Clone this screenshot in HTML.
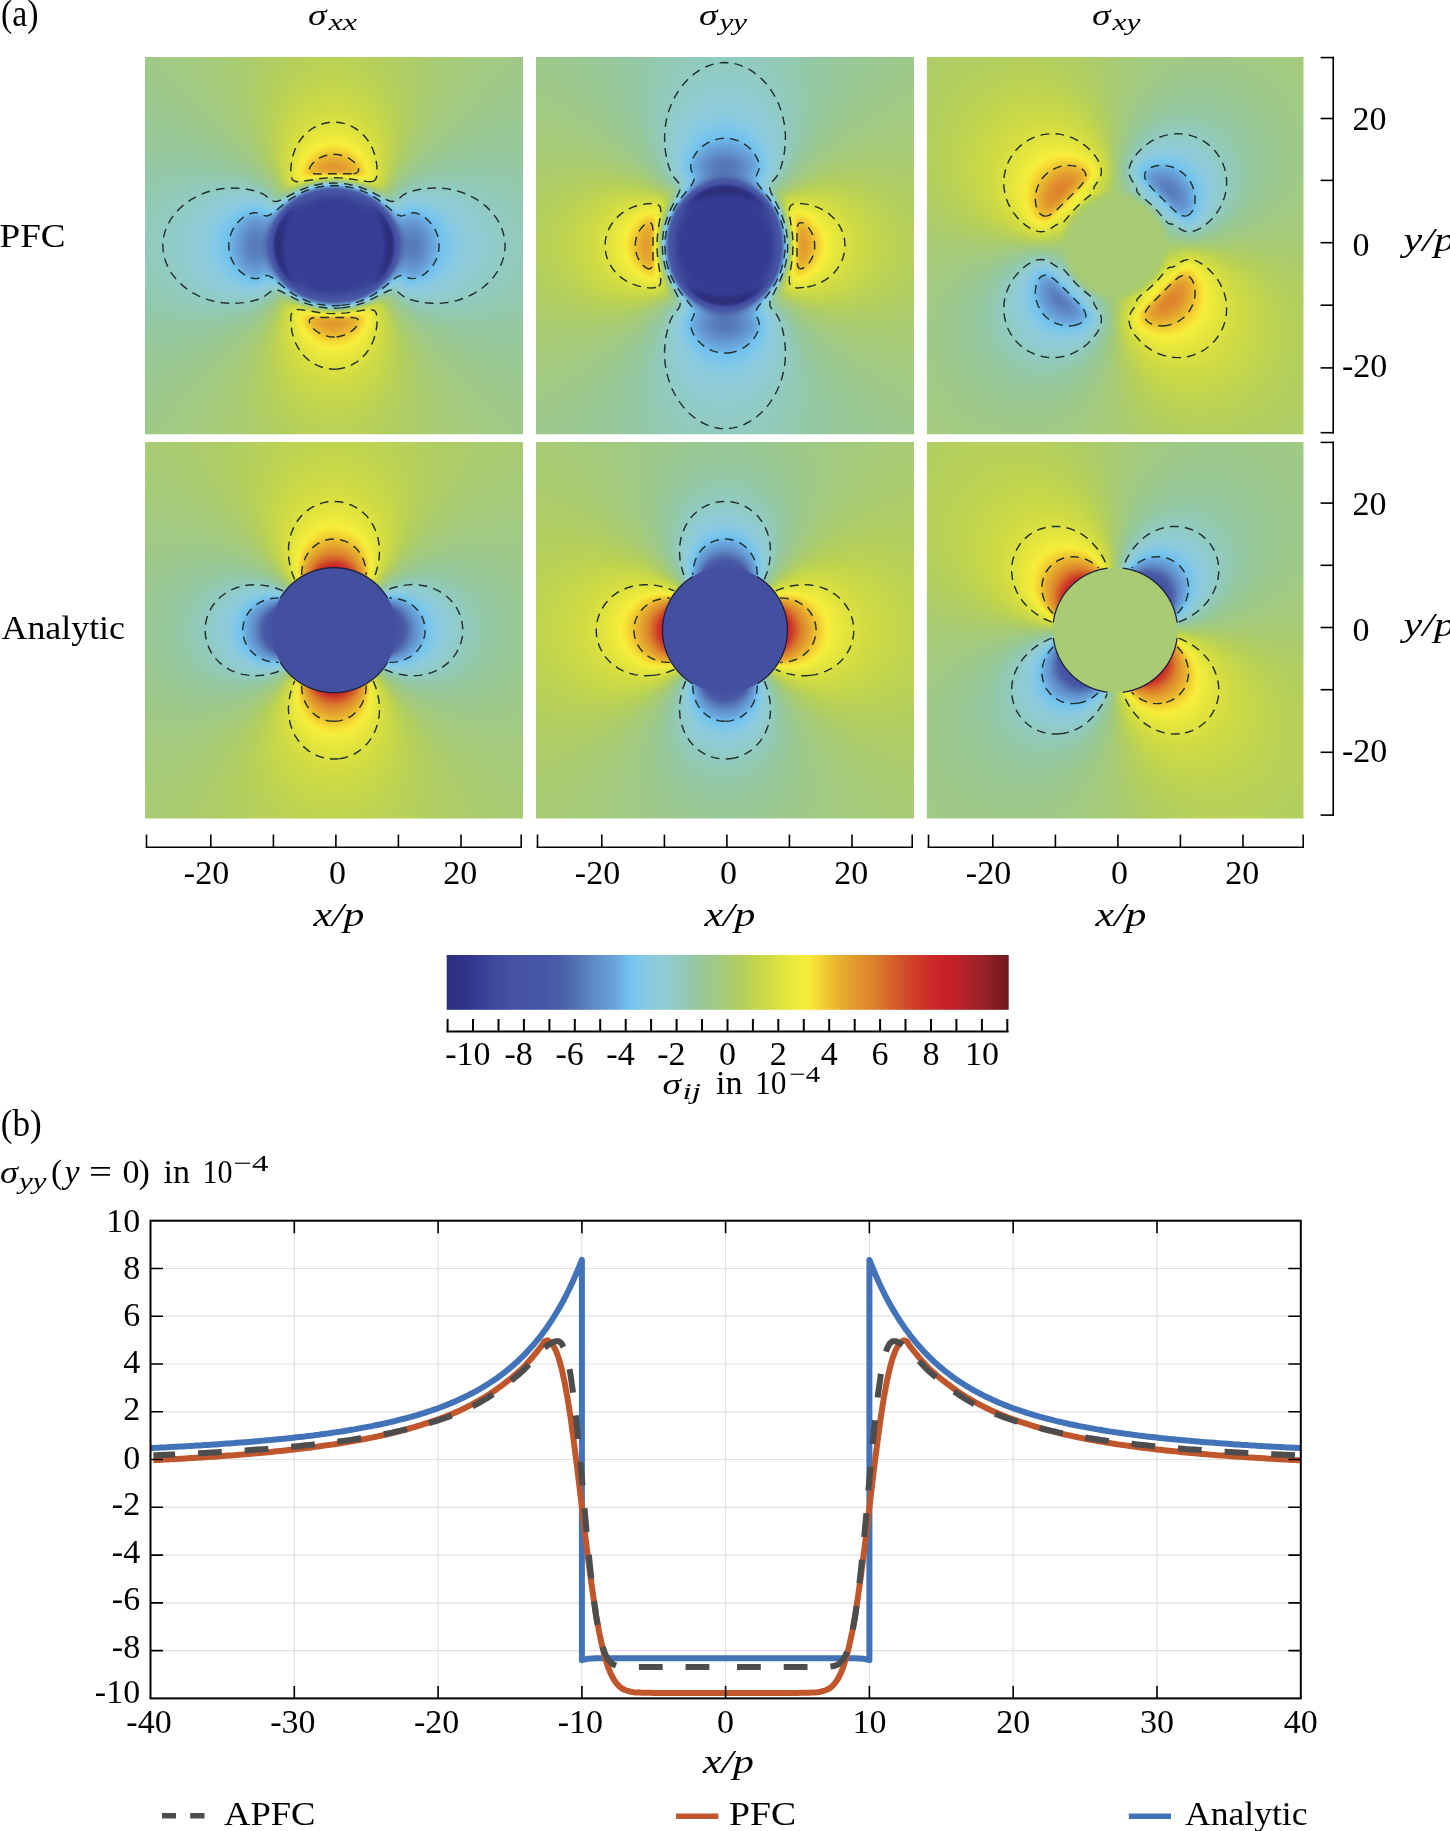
<!DOCTYPE html>
<html><head><meta charset="utf-8"><title>figure</title>
<style>
html,body{margin:0;padding:0;background:#fff;}
body{width:1450px;height:1831px;overflow:hidden;position:relative;}
canvas{position:absolute;display:block;}
svg.fb{position:absolute;left:0;top:0;}
svg{position:absolute;left:0;top:0;}
text{font-family:"Liberation Serif",serif;fill:#000;}
</style></head><body>
<svg class="fb" width="1450" height="1000" viewBox="0 0 1450 1000"><defs><filter id="fbl" x="-5%" y="-5%" width="110%" height="110%"><feGaussianBlur stdDeviation="5"/></filter>
<clipPath id="fbc0"><rect x="145.2" y="57.0" width="377.5" height="377.3"/></clipPath>
<clipPath id="fbc1"><rect x="536.4" y="57.0" width="377.2" height="377.3"/></clipPath>
<clipPath id="fbc2"><rect x="926.9" y="57.0" width="376.6" height="377.3"/></clipPath>
<clipPath id="fbc3"><rect x="145.2" y="442.0" width="377.5" height="376.4"/></clipPath>
<clipPath id="fbc4"><rect x="536.4" y="442.0" width="377.2" height="376.4"/></clipPath>
<clipPath id="fbc5"><rect x="926.9" y="442.0" width="376.6" height="376.4"/></clipPath>
</defs>
<g clip-path="url(#fbc0)"><g filter="url(#fbl)"><path fill="#9dc98b" d="M131 43h14.6v14.6h-14.6zM145 43h14.6v14.6h-14.6zM509 43h14.6v14.6h-14.6zM523 43h14.6v14.6h-14.6zM131 57h14.6v14.6h-14.6zM145 57h14.6v14.6h-14.6zM509 57h14.6v14.6h-14.6zM523 57h14.6v14.6h-14.6zM131 71h14.6v14.6h-14.6zM145 71h14.6v14.6h-14.6zM159 71h14.6v14.6h-14.6zM495 71h14.6v14.6h-14.6zM509 71h14.6v14.6h-14.6zM523 71h14.6v14.6h-14.6zM131 85h14.6v14.6h-14.6zM145 85h14.6v14.6h-14.6zM159 85h14.6v14.6h-14.6zM173 85h14.6v14.6h-14.6zM481 85h14.6v14.6h-14.6zM495 85h14.6v14.6h-14.6zM509 85h14.6v14.6h-14.6zM523 85h14.6v14.6h-14.6zM131 99h14.6v14.6h-14.6zM145 99h14.6v14.6h-14.6zM159 99h14.6v14.6h-14.6zM173 99h14.6v14.6h-14.6zM187 99h14.6v14.6h-14.6zM467 99h14.6v14.6h-14.6zM481 99h14.6v14.6h-14.6zM495 99h14.6v14.6h-14.6zM509 99h14.6v14.6h-14.6zM523 99h14.6v14.6h-14.6zM173 113h14.6v14.6h-14.6zM187 113h14.6v14.6h-14.6zM201 113h14.6v14.6h-14.6zM453 113h14.6v14.6h-14.6zM467 113h14.6v14.6h-14.6zM481 113h14.6v14.6h-14.6zM201 127h14.6v14.6h-14.6zM215 127h14.6v14.6h-14.6zM439 127h14.6v14.6h-14.6zM453 127h14.6v14.6h-14.6zM215 141h14.6v14.6h-14.6zM229 141h14.6v14.6h-14.6zM425 141h14.6v14.6h-14.6zM439 141h14.6v14.6h-14.6zM243 155h14.6v14.6h-14.6zM411 155h14.6v14.6h-14.6zM257 169h14.6v14.6h-14.6zM397 169h14.6v14.6h-14.6zM285 295h14.6v14.6h-14.6zM369 295h14.6v14.6h-14.6zM257 309h14.6v14.6h-14.6zM397 309h14.6v14.6h-14.6zM243 323h14.6v14.6h-14.6zM411 323h14.6v14.6h-14.6zM215 336h14.6v14.6h-14.6zM229 336h14.6v14.6h-14.6zM425 336h14.6v14.6h-14.6zM439 336h14.6v14.6h-14.6zM201 350h14.6v14.6h-14.6zM215 350h14.6v14.6h-14.6zM439 350h14.6v14.6h-14.6zM453 350h14.6v14.6h-14.6zM173 364h14.6v14.6h-14.6zM187 364h14.6v14.6h-14.6zM201 364h14.6v14.6h-14.6zM453 364h14.6v14.6h-14.6zM467 364h14.6v14.6h-14.6zM481 364h14.6v14.6h-14.6zM131 378h14.6v14.6h-14.6zM145 378h14.6v14.6h-14.6zM159 378h14.6v14.6h-14.6zM173 378h14.6v14.6h-14.6zM187 378h14.6v14.6h-14.6zM467 378h14.6v14.6h-14.6zM481 378h14.6v14.6h-14.6zM495 378h14.6v14.6h-14.6zM509 378h14.6v14.6h-14.6zM523 378h14.6v14.6h-14.6zM131 392h14.6v14.6h-14.6zM145 392h14.6v14.6h-14.6zM159 392h14.6v14.6h-14.6zM173 392h14.6v14.6h-14.6zM481 392h14.6v14.6h-14.6zM495 392h14.6v14.6h-14.6zM509 392h14.6v14.6h-14.6zM523 392h14.6v14.6h-14.6zM131 406h14.6v14.6h-14.6zM145 406h14.6v14.6h-14.6zM159 406h14.6v14.6h-14.6zM495 406h14.6v14.6h-14.6zM509 406h14.6v14.6h-14.6zM523 406h14.6v14.6h-14.6zM131 420h14.6v14.6h-14.6zM145 420h14.6v14.6h-14.6zM509 420h14.6v14.6h-14.6zM523 420h14.6v14.6h-14.6zM131 434h14.6v14.6h-14.6zM145 434h14.6v14.6h-14.6zM509 434h14.6v14.6h-14.6zM523 434h14.6v14.6h-14.6z"/><path fill="#a3ca80" d="M159 43h14.6v14.6h-14.6zM173 43h14.6v14.6h-14.6zM187 43h14.6v14.6h-14.6zM201 43h14.6v14.6h-14.6zM453 43h14.6v14.6h-14.6zM467 43h14.6v14.6h-14.6zM481 43h14.6v14.6h-14.6zM495 43h14.6v14.6h-14.6zM159 57h14.6v14.6h-14.6zM173 57h14.6v14.6h-14.6zM187 57h14.6v14.6h-14.6zM201 57h14.6v14.6h-14.6zM453 57h14.6v14.6h-14.6zM467 57h14.6v14.6h-14.6zM481 57h14.6v14.6h-14.6zM495 57h14.6v14.6h-14.6zM173 71h14.6v14.6h-14.6zM187 71h14.6v14.6h-14.6zM201 71h14.6v14.6h-14.6zM453 71h14.6v14.6h-14.6zM467 71h14.6v14.6h-14.6zM481 71h14.6v14.6h-14.6zM187 85h14.6v14.6h-14.6zM201 85h14.6v14.6h-14.6zM215 85h14.6v14.6h-14.6zM439 85h14.6v14.6h-14.6zM453 85h14.6v14.6h-14.6zM467 85h14.6v14.6h-14.6zM201 99h14.6v14.6h-14.6zM215 99h14.6v14.6h-14.6zM439 99h14.6v14.6h-14.6zM453 99h14.6v14.6h-14.6zM215 113h14.6v14.6h-14.6zM439 113h14.6v14.6h-14.6zM229 127h14.6v14.6h-14.6zM425 127h14.6v14.6h-14.6zM243 141h14.6v14.6h-14.6zM411 141h14.6v14.6h-14.6zM271 183h14.6v14.6h-14.6zM285 183h14.6v14.6h-14.6zM369 183h14.6v14.6h-14.6zM383 183h14.6v14.6h-14.6zM271 295h14.6v14.6h-14.6zM383 295h14.6v14.6h-14.6zM243 336h14.6v14.6h-14.6zM411 336h14.6v14.6h-14.6zM229 350h14.6v14.6h-14.6zM425 350h14.6v14.6h-14.6zM215 364h14.6v14.6h-14.6zM439 364h14.6v14.6h-14.6zM201 378h14.6v14.6h-14.6zM215 378h14.6v14.6h-14.6zM439 378h14.6v14.6h-14.6zM453 378h14.6v14.6h-14.6zM187 392h14.6v14.6h-14.6zM201 392h14.6v14.6h-14.6zM215 392h14.6v14.6h-14.6zM439 392h14.6v14.6h-14.6zM453 392h14.6v14.6h-14.6zM467 392h14.6v14.6h-14.6zM173 406h14.6v14.6h-14.6zM187 406h14.6v14.6h-14.6zM201 406h14.6v14.6h-14.6zM453 406h14.6v14.6h-14.6zM467 406h14.6v14.6h-14.6zM481 406h14.6v14.6h-14.6zM159 420h14.6v14.6h-14.6zM173 420h14.6v14.6h-14.6zM187 420h14.6v14.6h-14.6zM201 420h14.6v14.6h-14.6zM453 420h14.6v14.6h-14.6zM467 420h14.6v14.6h-14.6zM481 420h14.6v14.6h-14.6zM495 420h14.6v14.6h-14.6zM159 434h14.6v14.6h-14.6zM173 434h14.6v14.6h-14.6zM187 434h14.6v14.6h-14.6zM201 434h14.6v14.6h-14.6zM453 434h14.6v14.6h-14.6zM467 434h14.6v14.6h-14.6zM481 434h14.6v14.6h-14.6zM495 434h14.6v14.6h-14.6z"/><path fill="#a8cb74" d="M215 43h14.6v14.6h-14.6zM229 43h14.6v14.6h-14.6zM425 43h14.6v14.6h-14.6zM439 43h14.6v14.6h-14.6zM215 57h14.6v14.6h-14.6zM229 57h14.6v14.6h-14.6zM425 57h14.6v14.6h-14.6zM439 57h14.6v14.6h-14.6zM215 71h14.6v14.6h-14.6zM229 71h14.6v14.6h-14.6zM425 71h14.6v14.6h-14.6zM439 71h14.6v14.6h-14.6zM229 85h14.6v14.6h-14.6zM425 85h14.6v14.6h-14.6zM229 99h14.6v14.6h-14.6zM425 99h14.6v14.6h-14.6zM229 113h14.6v14.6h-14.6zM243 113h14.6v14.6h-14.6zM411 113h14.6v14.6h-14.6zM425 113h14.6v14.6h-14.6zM243 127h14.6v14.6h-14.6zM411 127h14.6v14.6h-14.6zM257 155h14.6v14.6h-14.6zM397 155h14.6v14.6h-14.6zM257 323h14.6v14.6h-14.6zM397 323h14.6v14.6h-14.6zM243 350h14.6v14.6h-14.6zM411 350h14.6v14.6h-14.6zM229 364h14.6v14.6h-14.6zM243 364h14.6v14.6h-14.6zM411 364h14.6v14.6h-14.6zM425 364h14.6v14.6h-14.6zM229 378h14.6v14.6h-14.6zM425 378h14.6v14.6h-14.6zM229 392h14.6v14.6h-14.6zM425 392h14.6v14.6h-14.6zM215 406h14.6v14.6h-14.6zM229 406h14.6v14.6h-14.6zM425 406h14.6v14.6h-14.6zM439 406h14.6v14.6h-14.6zM215 420h14.6v14.6h-14.6zM229 420h14.6v14.6h-14.6zM425 420h14.6v14.6h-14.6zM439 420h14.6v14.6h-14.6zM215 434h14.6v14.6h-14.6zM229 434h14.6v14.6h-14.6zM425 434h14.6v14.6h-14.6zM439 434h14.6v14.6h-14.6z"/><path fill="#afce66" d="M243 43h14.6v14.6h-14.6zM257 43h14.6v14.6h-14.6zM271 43h14.6v14.6h-14.6zM383 43h14.6v14.6h-14.6zM397 43h14.6v14.6h-14.6zM411 43h14.6v14.6h-14.6zM243 57h14.6v14.6h-14.6zM257 57h14.6v14.6h-14.6zM271 57h14.6v14.6h-14.6zM383 57h14.6v14.6h-14.6zM397 57h14.6v14.6h-14.6zM411 57h14.6v14.6h-14.6zM243 71h14.6v14.6h-14.6zM257 71h14.6v14.6h-14.6zM397 71h14.6v14.6h-14.6zM411 71h14.6v14.6h-14.6zM243 85h14.6v14.6h-14.6zM257 85h14.6v14.6h-14.6zM397 85h14.6v14.6h-14.6zM411 85h14.6v14.6h-14.6zM243 99h14.6v14.6h-14.6zM257 99h14.6v14.6h-14.6zM397 99h14.6v14.6h-14.6zM411 99h14.6v14.6h-14.6zM257 113h14.6v14.6h-14.6zM397 113h14.6v14.6h-14.6zM257 127h14.6v14.6h-14.6zM397 127h14.6v14.6h-14.6zM257 141h14.6v14.6h-14.6zM397 141h14.6v14.6h-14.6zM271 309h14.6v14.6h-14.6zM383 309h14.6v14.6h-14.6zM257 336h14.6v14.6h-14.6zM397 336h14.6v14.6h-14.6zM257 350h14.6v14.6h-14.6zM397 350h14.6v14.6h-14.6zM257 364h14.6v14.6h-14.6zM397 364h14.6v14.6h-14.6zM243 378h14.6v14.6h-14.6zM257 378h14.6v14.6h-14.6zM397 378h14.6v14.6h-14.6zM411 378h14.6v14.6h-14.6zM243 392h14.6v14.6h-14.6zM257 392h14.6v14.6h-14.6zM397 392h14.6v14.6h-14.6zM411 392h14.6v14.6h-14.6zM243 406h14.6v14.6h-14.6zM257 406h14.6v14.6h-14.6zM397 406h14.6v14.6h-14.6zM411 406h14.6v14.6h-14.6zM243 420h14.6v14.6h-14.6zM257 420h14.6v14.6h-14.6zM271 420h14.6v14.6h-14.6zM383 420h14.6v14.6h-14.6zM397 420h14.6v14.6h-14.6zM411 420h14.6v14.6h-14.6zM243 434h14.6v14.6h-14.6zM257 434h14.6v14.6h-14.6zM271 434h14.6v14.6h-14.6zM383 434h14.6v14.6h-14.6zM397 434h14.6v14.6h-14.6zM411 434h14.6v14.6h-14.6z"/><path fill="#b7d059" d="M285 43h14.6v14.6h-14.6zM299 43h14.6v14.6h-14.6zM313 43h14.6v14.6h-14.6zM327 43h14.6v14.6h-14.6zM341 43h14.6v14.6h-14.6zM355 43h14.6v14.6h-14.6zM369 43h14.6v14.6h-14.6zM285 57h14.6v14.6h-14.6zM299 57h14.6v14.6h-14.6zM313 57h14.6v14.6h-14.6zM327 57h14.6v14.6h-14.6zM341 57h14.6v14.6h-14.6zM355 57h14.6v14.6h-14.6zM369 57h14.6v14.6h-14.6zM271 71h14.6v14.6h-14.6zM285 71h14.6v14.6h-14.6zM299 71h14.6v14.6h-14.6zM355 71h14.6v14.6h-14.6zM369 71h14.6v14.6h-14.6zM383 71h14.6v14.6h-14.6zM271 85h14.6v14.6h-14.6zM383 85h14.6v14.6h-14.6zM271 99h14.6v14.6h-14.6zM383 99h14.6v14.6h-14.6zM271 169h14.6v14.6h-14.6zM383 169h14.6v14.6h-14.6zM271 378h14.6v14.6h-14.6zM383 378h14.6v14.6h-14.6zM271 392h14.6v14.6h-14.6zM383 392h14.6v14.6h-14.6zM271 406h14.6v14.6h-14.6zM285 406h14.6v14.6h-14.6zM369 406h14.6v14.6h-14.6zM383 406h14.6v14.6h-14.6zM285 420h14.6v14.6h-14.6zM299 420h14.6v14.6h-14.6zM313 420h14.6v14.6h-14.6zM327 420h14.6v14.6h-14.6zM341 420h14.6v14.6h-14.6zM355 420h14.6v14.6h-14.6zM369 420h14.6v14.6h-14.6zM285 434h14.6v14.6h-14.6zM299 434h14.6v14.6h-14.6zM313 434h14.6v14.6h-14.6zM327 434h14.6v14.6h-14.6zM341 434h14.6v14.6h-14.6zM355 434h14.6v14.6h-14.6zM369 434h14.6v14.6h-14.6z"/><path fill="#c1d54e" d="M313 71h14.6v14.6h-14.6zM327 71h14.6v14.6h-14.6zM341 71h14.6v14.6h-14.6zM285 85h14.6v14.6h-14.6zM299 85h14.6v14.6h-14.6zM313 85h14.6v14.6h-14.6zM327 85h14.6v14.6h-14.6zM341 85h14.6v14.6h-14.6zM355 85h14.6v14.6h-14.6zM369 85h14.6v14.6h-14.6zM285 99h14.6v14.6h-14.6zM369 99h14.6v14.6h-14.6zM271 113h14.6v14.6h-14.6zM383 113h14.6v14.6h-14.6zM271 127h14.6v14.6h-14.6zM383 127h14.6v14.6h-14.6zM271 141h14.6v14.6h-14.6zM383 141h14.6v14.6h-14.6zM271 155h14.6v14.6h-14.6zM383 155h14.6v14.6h-14.6zM271 323h14.6v14.6h-14.6zM383 323h14.6v14.6h-14.6zM271 336h14.6v14.6h-14.6zM383 336h14.6v14.6h-14.6zM271 350h14.6v14.6h-14.6zM383 350h14.6v14.6h-14.6zM271 364h14.6v14.6h-14.6zM383 364h14.6v14.6h-14.6zM285 378h14.6v14.6h-14.6zM369 378h14.6v14.6h-14.6zM285 392h14.6v14.6h-14.6zM299 392h14.6v14.6h-14.6zM313 392h14.6v14.6h-14.6zM341 392h14.6v14.6h-14.6zM355 392h14.6v14.6h-14.6zM369 392h14.6v14.6h-14.6zM299 406h14.6v14.6h-14.6zM313 406h14.6v14.6h-14.6zM327 406h14.6v14.6h-14.6zM341 406h14.6v14.6h-14.6zM355 406h14.6v14.6h-14.6z"/><path fill="#cad948" d="M299 99h14.6v14.6h-14.6zM313 99h14.6v14.6h-14.6zM327 99h14.6v14.6h-14.6zM341 99h14.6v14.6h-14.6zM355 99h14.6v14.6h-14.6zM285 113h14.6v14.6h-14.6zM369 113h14.6v14.6h-14.6zM285 127h14.6v14.6h-14.6zM369 127h14.6v14.6h-14.6zM285 350h14.6v14.6h-14.6zM369 350h14.6v14.6h-14.6zM285 364h14.6v14.6h-14.6zM369 364h14.6v14.6h-14.6zM299 378h14.6v14.6h-14.6zM313 378h14.6v14.6h-14.6zM327 378h14.6v14.6h-14.6zM341 378h14.6v14.6h-14.6zM355 378h14.6v14.6h-14.6zM327 392h14.6v14.6h-14.6z"/><path fill="#99c997" d="M131 113h14.6v14.6h-14.6zM145 113h14.6v14.6h-14.6zM159 113h14.6v14.6h-14.6zM495 113h14.6v14.6h-14.6zM509 113h14.6v14.6h-14.6zM523 113h14.6v14.6h-14.6zM131 127h14.6v14.6h-14.6zM145 127h14.6v14.6h-14.6zM159 127h14.6v14.6h-14.6zM173 127h14.6v14.6h-14.6zM187 127h14.6v14.6h-14.6zM467 127h14.6v14.6h-14.6zM481 127h14.6v14.6h-14.6zM495 127h14.6v14.6h-14.6zM509 127h14.6v14.6h-14.6zM523 127h14.6v14.6h-14.6zM131 141h14.6v14.6h-14.6zM145 141h14.6v14.6h-14.6zM159 141h14.6v14.6h-14.6zM173 141h14.6v14.6h-14.6zM187 141h14.6v14.6h-14.6zM201 141h14.6v14.6h-14.6zM453 141h14.6v14.6h-14.6zM467 141h14.6v14.6h-14.6zM481 141h14.6v14.6h-14.6zM495 141h14.6v14.6h-14.6zM509 141h14.6v14.6h-14.6zM523 141h14.6v14.6h-14.6zM215 155h14.6v14.6h-14.6zM229 155h14.6v14.6h-14.6zM425 155h14.6v14.6h-14.6zM439 155h14.6v14.6h-14.6zM243 169h14.6v14.6h-14.6zM411 169h14.6v14.6h-14.6zM243 309h14.6v14.6h-14.6zM411 309h14.6v14.6h-14.6zM215 323h14.6v14.6h-14.6zM229 323h14.6v14.6h-14.6zM425 323h14.6v14.6h-14.6zM439 323h14.6v14.6h-14.6zM131 336h14.6v14.6h-14.6zM145 336h14.6v14.6h-14.6zM159 336h14.6v14.6h-14.6zM173 336h14.6v14.6h-14.6zM187 336h14.6v14.6h-14.6zM201 336h14.6v14.6h-14.6zM453 336h14.6v14.6h-14.6zM467 336h14.6v14.6h-14.6zM481 336h14.6v14.6h-14.6zM495 336h14.6v14.6h-14.6zM509 336h14.6v14.6h-14.6zM523 336h14.6v14.6h-14.6zM131 350h14.6v14.6h-14.6zM145 350h14.6v14.6h-14.6zM159 350h14.6v14.6h-14.6zM173 350h14.6v14.6h-14.6zM187 350h14.6v14.6h-14.6zM467 350h14.6v14.6h-14.6zM481 350h14.6v14.6h-14.6zM495 350h14.6v14.6h-14.6zM509 350h14.6v14.6h-14.6zM523 350h14.6v14.6h-14.6zM131 364h14.6v14.6h-14.6zM145 364h14.6v14.6h-14.6zM159 364h14.6v14.6h-14.6zM495 364h14.6v14.6h-14.6zM509 364h14.6v14.6h-14.6zM523 364h14.6v14.6h-14.6z"/><path fill="#d2dc43" d="M299 113h14.6v14.6h-14.6zM313 113h14.6v14.6h-14.6zM341 113h14.6v14.6h-14.6zM355 113h14.6v14.6h-14.6zM285 141h14.6v14.6h-14.6zM369 141h14.6v14.6h-14.6zM285 336h14.6v14.6h-14.6zM369 336h14.6v14.6h-14.6zM299 364h14.6v14.6h-14.6zM355 364h14.6v14.6h-14.6z"/><path fill="#dbe13f" d="M327 113h14.6v14.6h-14.6zM299 127h14.6v14.6h-14.6zM355 127h14.6v14.6h-14.6zM285 155h14.6v14.6h-14.6zM369 155h14.6v14.6h-14.6zM285 169h14.6v14.6h-14.6zM369 169h14.6v14.6h-14.6zM285 309h14.6v14.6h-14.6zM369 309h14.6v14.6h-14.6zM285 323h14.6v14.6h-14.6zM369 323h14.6v14.6h-14.6zM299 350h14.6v14.6h-14.6zM355 350h14.6v14.6h-14.6zM313 364h14.6v14.6h-14.6zM327 364h14.6v14.6h-14.6zM341 364h14.6v14.6h-14.6z"/><path fill="#e4e53c" d="M313 127h14.6v14.6h-14.6zM327 127h14.6v14.6h-14.6zM341 127h14.6v14.6h-14.6zM313 350h14.6v14.6h-14.6zM341 350h14.6v14.6h-14.6z"/><path fill="#edea3c" d="M299 141h14.6v14.6h-14.6zM355 141h14.6v14.6h-14.6zM313 309h14.6v14.6h-14.6zM327 309h14.6v14.6h-14.6zM341 309h14.6v14.6h-14.6zM299 336h14.6v14.6h-14.6zM355 336h14.6v14.6h-14.6zM327 350h14.6v14.6h-14.6z"/><path fill="#f5ee3c" d="M313 141h14.6v14.6h-14.6zM341 141h14.6v14.6h-14.6zM299 169h14.6v14.6h-14.6zM313 169h14.6v14.6h-14.6zM327 169h14.6v14.6h-14.6zM341 169h14.6v14.6h-14.6zM355 169h14.6v14.6h-14.6zM299 309h14.6v14.6h-14.6zM355 309h14.6v14.6h-14.6z"/><path fill="#f7e337" d="M327 141h14.6v14.6h-14.6zM299 155h14.6v14.6h-14.6zM355 155h14.6v14.6h-14.6zM299 323h14.6v14.6h-14.6zM355 323h14.6v14.6h-14.6zM313 336h14.6v14.6h-14.6zM327 336h14.6v14.6h-14.6zM341 336h14.6v14.6h-14.6z"/><path fill="#94c8a2" d="M131 155h14.6v14.6h-14.6zM145 155h14.6v14.6h-14.6zM159 155h14.6v14.6h-14.6zM173 155h14.6v14.6h-14.6zM187 155h14.6v14.6h-14.6zM201 155h14.6v14.6h-14.6zM453 155h14.6v14.6h-14.6zM467 155h14.6v14.6h-14.6zM481 155h14.6v14.6h-14.6zM495 155h14.6v14.6h-14.6zM509 155h14.6v14.6h-14.6zM523 155h14.6v14.6h-14.6zM131 169h14.6v14.6h-14.6zM145 169h14.6v14.6h-14.6zM159 169h14.6v14.6h-14.6zM229 169h14.6v14.6h-14.6zM425 169h14.6v14.6h-14.6zM495 169h14.6v14.6h-14.6zM509 169h14.6v14.6h-14.6zM523 169h14.6v14.6h-14.6zM257 183h14.6v14.6h-14.6zM397 183h14.6v14.6h-14.6zM131 309h14.6v14.6h-14.6zM145 309h14.6v14.6h-14.6zM159 309h14.6v14.6h-14.6zM229 309h14.6v14.6h-14.6zM425 309h14.6v14.6h-14.6zM495 309h14.6v14.6h-14.6zM509 309h14.6v14.6h-14.6zM523 309h14.6v14.6h-14.6zM131 323h14.6v14.6h-14.6zM145 323h14.6v14.6h-14.6zM159 323h14.6v14.6h-14.6zM173 323h14.6v14.6h-14.6zM187 323h14.6v14.6h-14.6zM201 323h14.6v14.6h-14.6zM453 323h14.6v14.6h-14.6zM467 323h14.6v14.6h-14.6zM481 323h14.6v14.6h-14.6zM495 323h14.6v14.6h-14.6zM509 323h14.6v14.6h-14.6zM523 323h14.6v14.6h-14.6z"/><path fill="#e9b22e" d="M313 155h14.6v14.6h-14.6zM341 155h14.6v14.6h-14.6zM313 323h14.6v14.6h-14.6zM341 323h14.6v14.6h-14.6z"/><path fill="#e5a52e" d="M327 155h14.6v14.6h-14.6zM327 323h14.6v14.6h-14.6z"/><path fill="#92cab3" d="M173 169h14.6v14.6h-14.6zM187 169h14.6v14.6h-14.6zM201 169h14.6v14.6h-14.6zM215 169h14.6v14.6h-14.6zM439 169h14.6v14.6h-14.6zM453 169h14.6v14.6h-14.6zM467 169h14.6v14.6h-14.6zM481 169h14.6v14.6h-14.6zM131 183h14.6v14.6h-14.6zM145 183h14.6v14.6h-14.6zM159 183h14.6v14.6h-14.6zM173 183h14.6v14.6h-14.6zM187 183h14.6v14.6h-14.6zM467 183h14.6v14.6h-14.6zM481 183h14.6v14.6h-14.6zM495 183h14.6v14.6h-14.6zM509 183h14.6v14.6h-14.6zM523 183h14.6v14.6h-14.6zM131 197h14.6v14.6h-14.6zM145 197h14.6v14.6h-14.6zM159 197h14.6v14.6h-14.6zM495 197h14.6v14.6h-14.6zM509 197h14.6v14.6h-14.6zM523 197h14.6v14.6h-14.6zM131 211h14.6v14.6h-14.6zM145 211h14.6v14.6h-14.6zM509 211h14.6v14.6h-14.6zM523 211h14.6v14.6h-14.6zM131 267h14.6v14.6h-14.6zM145 267h14.6v14.6h-14.6zM509 267h14.6v14.6h-14.6zM523 267h14.6v14.6h-14.6zM131 281h14.6v14.6h-14.6zM145 281h14.6v14.6h-14.6zM159 281h14.6v14.6h-14.6zM495 281h14.6v14.6h-14.6zM509 281h14.6v14.6h-14.6zM523 281h14.6v14.6h-14.6zM131 295h14.6v14.6h-14.6zM145 295h14.6v14.6h-14.6zM159 295h14.6v14.6h-14.6zM173 295h14.6v14.6h-14.6zM257 295h14.6v14.6h-14.6zM397 295h14.6v14.6h-14.6zM481 295h14.6v14.6h-14.6zM495 295h14.6v14.6h-14.6zM509 295h14.6v14.6h-14.6zM523 295h14.6v14.6h-14.6zM173 309h14.6v14.6h-14.6zM187 309h14.6v14.6h-14.6zM201 309h14.6v14.6h-14.6zM215 309h14.6v14.6h-14.6zM439 309h14.6v14.6h-14.6zM453 309h14.6v14.6h-14.6zM467 309h14.6v14.6h-14.6zM481 309h14.6v14.6h-14.6z"/><path fill="#91cbc1" d="M201 183h14.6v14.6h-14.6zM215 183h14.6v14.6h-14.6zM229 183h14.6v14.6h-14.6zM243 183h14.6v14.6h-14.6zM411 183h14.6v14.6h-14.6zM425 183h14.6v14.6h-14.6zM439 183h14.6v14.6h-14.6zM453 183h14.6v14.6h-14.6zM173 197h14.6v14.6h-14.6zM187 197h14.6v14.6h-14.6zM467 197h14.6v14.6h-14.6zM481 197h14.6v14.6h-14.6zM159 211h14.6v14.6h-14.6zM173 211h14.6v14.6h-14.6zM481 211h14.6v14.6h-14.6zM495 211h14.6v14.6h-14.6zM131 225h14.6v14.6h-14.6zM145 225h14.6v14.6h-14.6zM159 225h14.6v14.6h-14.6zM495 225h14.6v14.6h-14.6zM509 225h14.6v14.6h-14.6zM523 225h14.6v14.6h-14.6zM131 239h14.6v14.6h-14.6zM145 239h14.6v14.6h-14.6zM159 239h14.6v14.6h-14.6zM495 239h14.6v14.6h-14.6zM509 239h14.6v14.6h-14.6zM523 239h14.6v14.6h-14.6zM131 253h14.6v14.6h-14.6zM145 253h14.6v14.6h-14.6zM159 253h14.6v14.6h-14.6zM495 253h14.6v14.6h-14.6zM509 253h14.6v14.6h-14.6zM523 253h14.6v14.6h-14.6zM159 267h14.6v14.6h-14.6zM173 267h14.6v14.6h-14.6zM481 267h14.6v14.6h-14.6zM495 267h14.6v14.6h-14.6zM173 281h14.6v14.6h-14.6zM187 281h14.6v14.6h-14.6zM467 281h14.6v14.6h-14.6zM481 281h14.6v14.6h-14.6zM187 295h14.6v14.6h-14.6zM201 295h14.6v14.6h-14.6zM215 295h14.6v14.6h-14.6zM229 295h14.6v14.6h-14.6zM243 295h14.6v14.6h-14.6zM411 295h14.6v14.6h-14.6zM425 295h14.6v14.6h-14.6zM439 295h14.6v14.6h-14.6zM453 295h14.6v14.6h-14.6zM467 295h14.6v14.6h-14.6z"/><path fill="#8acadf" d="M299 183h14.6v14.6h-14.6zM355 183h14.6v14.6h-14.6zM229 197h14.6v14.6h-14.6zM243 197h14.6v14.6h-14.6zM411 197h14.6v14.6h-14.6zM425 197h14.6v14.6h-14.6zM215 211h14.6v14.6h-14.6zM439 211h14.6v14.6h-14.6zM201 225h14.6v14.6h-14.6zM453 225h14.6v14.6h-14.6zM201 239h14.6v14.6h-14.6zM453 239h14.6v14.6h-14.6zM201 253h14.6v14.6h-14.6zM453 253h14.6v14.6h-14.6zM215 267h14.6v14.6h-14.6zM439 267h14.6v14.6h-14.6zM229 281h14.6v14.6h-14.6zM243 281h14.6v14.6h-14.6zM257 281h14.6v14.6h-14.6zM271 281h14.6v14.6h-14.6zM383 281h14.6v14.6h-14.6zM397 281h14.6v14.6h-14.6zM411 281h14.6v14.6h-14.6zM425 281h14.6v14.6h-14.6z"/><path fill="#6292cc" d="M313 183h14.6v14.6h-14.6zM341 183h14.6v14.6h-14.6zM243 225h14.6v14.6h-14.6zM411 225h14.6v14.6h-14.6z"/><path fill="#526fb2" d="M327 183h14.6v14.6h-14.6zM257 239h14.6v14.6h-14.6zM397 239h14.6v14.6h-14.6z"/><path fill="#90cccf" d="M201 197h14.6v14.6h-14.6zM453 197h14.6v14.6h-14.6zM187 211h14.6v14.6h-14.6zM467 211h14.6v14.6h-14.6zM173 225h14.6v14.6h-14.6zM481 225h14.6v14.6h-14.6zM173 239h14.6v14.6h-14.6zM481 239h14.6v14.6h-14.6zM173 253h14.6v14.6h-14.6zM481 253h14.6v14.6h-14.6zM187 267h14.6v14.6h-14.6zM467 267h14.6v14.6h-14.6zM201 281h14.6v14.6h-14.6zM453 281h14.6v14.6h-14.6z"/><path fill="#8fcbd8" d="M215 197h14.6v14.6h-14.6zM257 197h14.6v14.6h-14.6zM271 197h14.6v14.6h-14.6zM383 197h14.6v14.6h-14.6zM397 197h14.6v14.6h-14.6zM439 197h14.6v14.6h-14.6zM201 211h14.6v14.6h-14.6zM453 211h14.6v14.6h-14.6zM187 225h14.6v14.6h-14.6zM467 225h14.6v14.6h-14.6zM187 239h14.6v14.6h-14.6zM467 239h14.6v14.6h-14.6zM187 253h14.6v14.6h-14.6zM467 253h14.6v14.6h-14.6zM201 267h14.6v14.6h-14.6zM453 267h14.6v14.6h-14.6zM215 281h14.6v14.6h-14.6zM439 281h14.6v14.6h-14.6z"/><path fill="#4a5ca8" d="M285 197h14.6v14.6h-14.6zM369 197h14.6v14.6h-14.6z"/><path fill="#3f4b9c" d="M299 197h14.6v14.6h-14.6zM355 197h14.6v14.6h-14.6zM299 281h14.6v14.6h-14.6zM355 281h14.6v14.6h-14.6z"/><path fill="#3b4598" d="M313 197h14.6v14.6h-14.6zM341 197h14.6v14.6h-14.6z"/><path fill="#363e93" d="M327 197h14.6v14.6h-14.6zM285 211h14.6v14.6h-14.6zM299 211h14.6v14.6h-14.6zM313 211h14.6v14.6h-14.6zM327 211h14.6v14.6h-14.6zM341 211h14.6v14.6h-14.6zM355 211h14.6v14.6h-14.6zM369 211h14.6v14.6h-14.6zM271 225h14.6v14.6h-14.6zM285 225h14.6v14.6h-14.6zM299 225h14.6v14.6h-14.6zM313 225h14.6v14.6h-14.6zM327 225h14.6v14.6h-14.6zM341 225h14.6v14.6h-14.6zM355 225h14.6v14.6h-14.6zM369 225h14.6v14.6h-14.6zM383 225h14.6v14.6h-14.6zM285 239h14.6v14.6h-14.6zM299 239h14.6v14.6h-14.6zM313 239h14.6v14.6h-14.6zM327 239h14.6v14.6h-14.6zM341 239h14.6v14.6h-14.6zM355 239h14.6v14.6h-14.6zM369 239h14.6v14.6h-14.6zM271 253h14.6v14.6h-14.6zM285 253h14.6v14.6h-14.6zM299 253h14.6v14.6h-14.6zM313 253h14.6v14.6h-14.6zM327 253h14.6v14.6h-14.6zM341 253h14.6v14.6h-14.6zM355 253h14.6v14.6h-14.6zM369 253h14.6v14.6h-14.6zM383 253h14.6v14.6h-14.6zM285 267h14.6v14.6h-14.6zM299 267h14.6v14.6h-14.6zM313 267h14.6v14.6h-14.6zM327 267h14.6v14.6h-14.6zM341 267h14.6v14.6h-14.6zM355 267h14.6v14.6h-14.6zM369 267h14.6v14.6h-14.6zM313 281h14.6v14.6h-14.6zM327 281h14.6v14.6h-14.6zM341 281h14.6v14.6h-14.6z"/><path fill="#77c4ec" d="M229 211h14.6v14.6h-14.6zM425 211h14.6v14.6h-14.6zM215 239h14.6v14.6h-14.6zM439 239h14.6v14.6h-14.6zM229 267h14.6v14.6h-14.6zM425 267h14.6v14.6h-14.6z"/><path fill="#6aa8dd" d="M243 211h14.6v14.6h-14.6zM257 211h14.6v14.6h-14.6zM397 211h14.6v14.6h-14.6zM411 211h14.6v14.6h-14.6zM229 225h14.6v14.6h-14.6zM425 225h14.6v14.6h-14.6zM229 253h14.6v14.6h-14.6zM425 253h14.6v14.6h-14.6zM243 267h14.6v14.6h-14.6zM257 267h14.6v14.6h-14.6zM397 267h14.6v14.6h-14.6zM411 267h14.6v14.6h-14.6z"/><path fill="#4858a6" d="M271 211h14.6v14.6h-14.6zM383 211h14.6v14.6h-14.6zM271 267h14.6v14.6h-14.6zM383 267h14.6v14.6h-14.6zM285 281h14.6v14.6h-14.6zM369 281h14.6v14.6h-14.6z"/><path fill="#81c8e7" d="M215 225h14.6v14.6h-14.6zM439 225h14.6v14.6h-14.6zM215 253h14.6v14.6h-14.6zM439 253h14.6v14.6h-14.6zM299 295h14.6v14.6h-14.6zM355 295h14.6v14.6h-14.6z"/><path fill="#577bb9" d="M257 225h14.6v14.6h-14.6zM397 225h14.6v14.6h-14.6zM257 253h14.6v14.6h-14.6zM397 253h14.6v14.6h-14.6zM313 295h14.6v14.6h-14.6zM341 295h14.6v14.6h-14.6z"/><path fill="#669dd4" d="M229 239h14.6v14.6h-14.6zM425 239h14.6v14.6h-14.6z"/><path fill="#5d87c3" d="M243 239h14.6v14.6h-14.6zM411 239h14.6v14.6h-14.6zM243 253h14.6v14.6h-14.6zM411 253h14.6v14.6h-14.6z"/><path fill="#303488" d="M271 239h14.6v14.6h-14.6zM383 239h14.6v14.6h-14.6z"/><path fill="#4d64ac" d="M327 295h14.6v14.6h-14.6z"/></g></g>
<g clip-path="url(#fbc1)"><g filter="url(#fbl)"><path fill="#9dc98b" d="M522 43h14.6v14.6h-14.6zM536 43h14.6v14.6h-14.6zM550 43h14.6v14.6h-14.6zM564 43h14.6v14.6h-14.6zM872 43h14.6v14.6h-14.6zM886 43h14.6v14.6h-14.6zM900 43h14.6v14.6h-14.6zM914 43h14.6v14.6h-14.6zM522 57h14.6v14.6h-14.6zM536 57h14.6v14.6h-14.6zM550 57h14.6v14.6h-14.6zM564 57h14.6v14.6h-14.6zM872 57h14.6v14.6h-14.6zM886 57h14.6v14.6h-14.6zM900 57h14.6v14.6h-14.6zM914 57h14.6v14.6h-14.6zM522 71h14.6v14.6h-14.6zM536 71h14.6v14.6h-14.6zM550 71h14.6v14.6h-14.6zM564 71h14.6v14.6h-14.6zM872 71h14.6v14.6h-14.6zM886 71h14.6v14.6h-14.6zM900 71h14.6v14.6h-14.6zM914 71h14.6v14.6h-14.6zM522 85h14.6v14.6h-14.6zM536 85h14.6v14.6h-14.6zM550 85h14.6v14.6h-14.6zM564 85h14.6v14.6h-14.6zM578 85h14.6v14.6h-14.6zM858 85h14.6v14.6h-14.6zM872 85h14.6v14.6h-14.6zM886 85h14.6v14.6h-14.6zM900 85h14.6v14.6h-14.6zM914 85h14.6v14.6h-14.6zM550 99h14.6v14.6h-14.6zM564 99h14.6v14.6h-14.6zM578 99h14.6v14.6h-14.6zM592 99h14.6v14.6h-14.6zM844 99h14.6v14.6h-14.6zM858 99h14.6v14.6h-14.6zM872 99h14.6v14.6h-14.6zM886 99h14.6v14.6h-14.6zM578 113h14.6v14.6h-14.6zM592 113h14.6v14.6h-14.6zM844 113h14.6v14.6h-14.6zM858 113h14.6v14.6h-14.6zM592 127h14.6v14.6h-14.6zM606 127h14.6v14.6h-14.6zM830 127h14.6v14.6h-14.6zM844 127h14.6v14.6h-14.6zM620 141h14.6v14.6h-14.6zM816 141h14.6v14.6h-14.6zM634 155h14.6v14.6h-14.6zM802 155h14.6v14.6h-14.6zM648 169h14.6v14.6h-14.6zM788 169h14.6v14.6h-14.6zM662 183h14.6v14.6h-14.6zM774 183h14.6v14.6h-14.6zM662 197h14.6v14.6h-14.6zM774 197h14.6v14.6h-14.6zM662 281h14.6v14.6h-14.6zM774 281h14.6v14.6h-14.6zM662 295h14.6v14.6h-14.6zM774 295h14.6v14.6h-14.6zM648 309h14.6v14.6h-14.6zM788 309h14.6v14.6h-14.6zM634 323h14.6v14.6h-14.6zM802 323h14.6v14.6h-14.6zM620 336h14.6v14.6h-14.6zM816 336h14.6v14.6h-14.6zM592 350h14.6v14.6h-14.6zM606 350h14.6v14.6h-14.6zM830 350h14.6v14.6h-14.6zM844 350h14.6v14.6h-14.6zM578 364h14.6v14.6h-14.6zM592 364h14.6v14.6h-14.6zM844 364h14.6v14.6h-14.6zM858 364h14.6v14.6h-14.6zM550 378h14.6v14.6h-14.6zM564 378h14.6v14.6h-14.6zM578 378h14.6v14.6h-14.6zM592 378h14.6v14.6h-14.6zM844 378h14.6v14.6h-14.6zM858 378h14.6v14.6h-14.6zM872 378h14.6v14.6h-14.6zM886 378h14.6v14.6h-14.6zM522 392h14.6v14.6h-14.6zM536 392h14.6v14.6h-14.6zM550 392h14.6v14.6h-14.6zM564 392h14.6v14.6h-14.6zM578 392h14.6v14.6h-14.6zM858 392h14.6v14.6h-14.6zM872 392h14.6v14.6h-14.6zM886 392h14.6v14.6h-14.6zM900 392h14.6v14.6h-14.6zM914 392h14.6v14.6h-14.6zM522 406h14.6v14.6h-14.6zM536 406h14.6v14.6h-14.6zM550 406h14.6v14.6h-14.6zM564 406h14.6v14.6h-14.6zM872 406h14.6v14.6h-14.6zM886 406h14.6v14.6h-14.6zM900 406h14.6v14.6h-14.6zM914 406h14.6v14.6h-14.6zM522 420h14.6v14.6h-14.6zM536 420h14.6v14.6h-14.6zM550 420h14.6v14.6h-14.6zM564 420h14.6v14.6h-14.6zM872 420h14.6v14.6h-14.6zM886 420h14.6v14.6h-14.6zM900 420h14.6v14.6h-14.6zM914 420h14.6v14.6h-14.6zM522 434h14.6v14.6h-14.6zM536 434h14.6v14.6h-14.6zM550 434h14.6v14.6h-14.6zM564 434h14.6v14.6h-14.6zM872 434h14.6v14.6h-14.6zM886 434h14.6v14.6h-14.6zM900 434h14.6v14.6h-14.6zM914 434h14.6v14.6h-14.6z"/><path fill="#99c997" d="M578 43h14.6v14.6h-14.6zM592 43h14.6v14.6h-14.6zM606 43h14.6v14.6h-14.6zM830 43h14.6v14.6h-14.6zM844 43h14.6v14.6h-14.6zM858 43h14.6v14.6h-14.6zM578 57h14.6v14.6h-14.6zM592 57h14.6v14.6h-14.6zM606 57h14.6v14.6h-14.6zM830 57h14.6v14.6h-14.6zM844 57h14.6v14.6h-14.6zM858 57h14.6v14.6h-14.6zM578 71h14.6v14.6h-14.6zM592 71h14.6v14.6h-14.6zM606 71h14.6v14.6h-14.6zM830 71h14.6v14.6h-14.6zM844 71h14.6v14.6h-14.6zM858 71h14.6v14.6h-14.6zM592 85h14.6v14.6h-14.6zM606 85h14.6v14.6h-14.6zM830 85h14.6v14.6h-14.6zM844 85h14.6v14.6h-14.6zM606 99h14.6v14.6h-14.6zM830 99h14.6v14.6h-14.6zM606 113h14.6v14.6h-14.6zM620 113h14.6v14.6h-14.6zM816 113h14.6v14.6h-14.6zM830 113h14.6v14.6h-14.6zM620 127h14.6v14.6h-14.6zM816 127h14.6v14.6h-14.6zM634 141h14.6v14.6h-14.6zM802 141h14.6v14.6h-14.6zM634 336h14.6v14.6h-14.6zM802 336h14.6v14.6h-14.6zM620 350h14.6v14.6h-14.6zM816 350h14.6v14.6h-14.6zM606 364h14.6v14.6h-14.6zM620 364h14.6v14.6h-14.6zM816 364h14.6v14.6h-14.6zM830 364h14.6v14.6h-14.6zM606 378h14.6v14.6h-14.6zM830 378h14.6v14.6h-14.6zM592 392h14.6v14.6h-14.6zM606 392h14.6v14.6h-14.6zM830 392h14.6v14.6h-14.6zM844 392h14.6v14.6h-14.6zM578 406h14.6v14.6h-14.6zM592 406h14.6v14.6h-14.6zM606 406h14.6v14.6h-14.6zM830 406h14.6v14.6h-14.6zM844 406h14.6v14.6h-14.6zM858 406h14.6v14.6h-14.6zM578 420h14.6v14.6h-14.6zM592 420h14.6v14.6h-14.6zM606 420h14.6v14.6h-14.6zM830 420h14.6v14.6h-14.6zM844 420h14.6v14.6h-14.6zM858 420h14.6v14.6h-14.6zM578 434h14.6v14.6h-14.6zM592 434h14.6v14.6h-14.6zM606 434h14.6v14.6h-14.6zM830 434h14.6v14.6h-14.6zM844 434h14.6v14.6h-14.6zM858 434h14.6v14.6h-14.6z"/><path fill="#94c8a2" d="M620 43h14.6v14.6h-14.6zM634 43h14.6v14.6h-14.6zM802 43h14.6v14.6h-14.6zM816 43h14.6v14.6h-14.6zM620 57h14.6v14.6h-14.6zM634 57h14.6v14.6h-14.6zM802 57h14.6v14.6h-14.6zM816 57h14.6v14.6h-14.6zM620 71h14.6v14.6h-14.6zM634 71h14.6v14.6h-14.6zM802 71h14.6v14.6h-14.6zM816 71h14.6v14.6h-14.6zM620 85h14.6v14.6h-14.6zM634 85h14.6v14.6h-14.6zM802 85h14.6v14.6h-14.6zM816 85h14.6v14.6h-14.6zM620 99h14.6v14.6h-14.6zM634 99h14.6v14.6h-14.6zM802 99h14.6v14.6h-14.6zM816 99h14.6v14.6h-14.6zM634 113h14.6v14.6h-14.6zM802 113h14.6v14.6h-14.6zM634 127h14.6v14.6h-14.6zM802 127h14.6v14.6h-14.6zM648 155h14.6v14.6h-14.6zM788 155h14.6v14.6h-14.6zM648 323h14.6v14.6h-14.6zM788 323h14.6v14.6h-14.6zM634 350h14.6v14.6h-14.6zM802 350h14.6v14.6h-14.6zM634 364h14.6v14.6h-14.6zM802 364h14.6v14.6h-14.6zM620 378h14.6v14.6h-14.6zM634 378h14.6v14.6h-14.6zM802 378h14.6v14.6h-14.6zM816 378h14.6v14.6h-14.6zM620 392h14.6v14.6h-14.6zM634 392h14.6v14.6h-14.6zM802 392h14.6v14.6h-14.6zM816 392h14.6v14.6h-14.6zM620 406h14.6v14.6h-14.6zM634 406h14.6v14.6h-14.6zM802 406h14.6v14.6h-14.6zM816 406h14.6v14.6h-14.6zM620 420h14.6v14.6h-14.6zM634 420h14.6v14.6h-14.6zM802 420h14.6v14.6h-14.6zM816 420h14.6v14.6h-14.6zM620 434h14.6v14.6h-14.6zM634 434h14.6v14.6h-14.6zM802 434h14.6v14.6h-14.6zM816 434h14.6v14.6h-14.6z"/><path fill="#92cab3" d="M648 43h14.6v14.6h-14.6zM662 43h14.6v14.6h-14.6zM676 43h14.6v14.6h-14.6zM760 43h14.6v14.6h-14.6zM774 43h14.6v14.6h-14.6zM788 43h14.6v14.6h-14.6zM648 57h14.6v14.6h-14.6zM662 57h14.6v14.6h-14.6zM676 57h14.6v14.6h-14.6zM760 57h14.6v14.6h-14.6zM774 57h14.6v14.6h-14.6zM788 57h14.6v14.6h-14.6zM648 71h14.6v14.6h-14.6zM662 71h14.6v14.6h-14.6zM774 71h14.6v14.6h-14.6zM788 71h14.6v14.6h-14.6zM648 85h14.6v14.6h-14.6zM788 85h14.6v14.6h-14.6zM648 99h14.6v14.6h-14.6zM788 99h14.6v14.6h-14.6zM648 113h14.6v14.6h-14.6zM788 113h14.6v14.6h-14.6zM648 127h14.6v14.6h-14.6zM788 127h14.6v14.6h-14.6zM648 141h14.6v14.6h-14.6zM788 141h14.6v14.6h-14.6zM662 169h14.6v14.6h-14.6zM774 169h14.6v14.6h-14.6zM662 309h14.6v14.6h-14.6zM774 309h14.6v14.6h-14.6zM648 336h14.6v14.6h-14.6zM788 336h14.6v14.6h-14.6zM648 350h14.6v14.6h-14.6zM788 350h14.6v14.6h-14.6zM648 364h14.6v14.6h-14.6zM788 364h14.6v14.6h-14.6zM648 378h14.6v14.6h-14.6zM788 378h14.6v14.6h-14.6zM648 392h14.6v14.6h-14.6zM788 392h14.6v14.6h-14.6zM648 406h14.6v14.6h-14.6zM662 406h14.6v14.6h-14.6zM774 406h14.6v14.6h-14.6zM788 406h14.6v14.6h-14.6zM648 420h14.6v14.6h-14.6zM662 420h14.6v14.6h-14.6zM676 420h14.6v14.6h-14.6zM760 420h14.6v14.6h-14.6zM774 420h14.6v14.6h-14.6zM788 420h14.6v14.6h-14.6zM648 434h14.6v14.6h-14.6zM662 434h14.6v14.6h-14.6zM676 434h14.6v14.6h-14.6zM760 434h14.6v14.6h-14.6zM774 434h14.6v14.6h-14.6zM788 434h14.6v14.6h-14.6z"/><path fill="#91cbc1" d="M690 43h14.6v14.6h-14.6zM704 43h14.6v14.6h-14.6zM718 43h14.6v14.6h-14.6zM732 43h14.6v14.6h-14.6zM746 43h14.6v14.6h-14.6zM690 57h14.6v14.6h-14.6zM704 57h14.6v14.6h-14.6zM718 57h14.6v14.6h-14.6zM732 57h14.6v14.6h-14.6zM746 57h14.6v14.6h-14.6zM676 71h14.6v14.6h-14.6zM690 71h14.6v14.6h-14.6zM704 71h14.6v14.6h-14.6zM732 71h14.6v14.6h-14.6zM746 71h14.6v14.6h-14.6zM760 71h14.6v14.6h-14.6zM662 85h14.6v14.6h-14.6zM676 85h14.6v14.6h-14.6zM760 85h14.6v14.6h-14.6zM774 85h14.6v14.6h-14.6zM662 99h14.6v14.6h-14.6zM774 99h14.6v14.6h-14.6zM662 113h14.6v14.6h-14.6zM774 113h14.6v14.6h-14.6zM662 127h14.6v14.6h-14.6zM774 127h14.6v14.6h-14.6zM662 155h14.6v14.6h-14.6zM774 155h14.6v14.6h-14.6zM662 323h14.6v14.6h-14.6zM774 323h14.6v14.6h-14.6zM662 364h14.6v14.6h-14.6zM774 364h14.6v14.6h-14.6zM662 378h14.6v14.6h-14.6zM774 378h14.6v14.6h-14.6zM662 392h14.6v14.6h-14.6zM676 392h14.6v14.6h-14.6zM760 392h14.6v14.6h-14.6zM774 392h14.6v14.6h-14.6zM676 406h14.6v14.6h-14.6zM690 406h14.6v14.6h-14.6zM704 406h14.6v14.6h-14.6zM732 406h14.6v14.6h-14.6zM746 406h14.6v14.6h-14.6zM760 406h14.6v14.6h-14.6zM690 420h14.6v14.6h-14.6zM704 420h14.6v14.6h-14.6zM718 420h14.6v14.6h-14.6zM732 420h14.6v14.6h-14.6zM746 420h14.6v14.6h-14.6zM690 434h14.6v14.6h-14.6zM704 434h14.6v14.6h-14.6zM718 434h14.6v14.6h-14.6zM732 434h14.6v14.6h-14.6zM746 434h14.6v14.6h-14.6z"/><path fill="#90cccf" d="M718 71h14.6v14.6h-14.6zM690 85h14.6v14.6h-14.6zM704 85h14.6v14.6h-14.6zM718 85h14.6v14.6h-14.6zM732 85h14.6v14.6h-14.6zM746 85h14.6v14.6h-14.6zM676 99h14.6v14.6h-14.6zM690 99h14.6v14.6h-14.6zM746 99h14.6v14.6h-14.6zM760 99h14.6v14.6h-14.6zM676 113h14.6v14.6h-14.6zM760 113h14.6v14.6h-14.6zM662 141h14.6v14.6h-14.6zM774 141h14.6v14.6h-14.6zM662 336h14.6v14.6h-14.6zM774 336h14.6v14.6h-14.6zM662 350h14.6v14.6h-14.6zM774 350h14.6v14.6h-14.6zM676 364h14.6v14.6h-14.6zM760 364h14.6v14.6h-14.6zM676 378h14.6v14.6h-14.6zM690 378h14.6v14.6h-14.6zM746 378h14.6v14.6h-14.6zM760 378h14.6v14.6h-14.6zM690 392h14.6v14.6h-14.6zM704 392h14.6v14.6h-14.6zM718 392h14.6v14.6h-14.6zM732 392h14.6v14.6h-14.6zM746 392h14.6v14.6h-14.6zM718 406h14.6v14.6h-14.6z"/><path fill="#a3ca80" d="M522 99h14.6v14.6h-14.6zM536 99h14.6v14.6h-14.6zM900 99h14.6v14.6h-14.6zM914 99h14.6v14.6h-14.6zM522 113h14.6v14.6h-14.6zM536 113h14.6v14.6h-14.6zM550 113h14.6v14.6h-14.6zM564 113h14.6v14.6h-14.6zM872 113h14.6v14.6h-14.6zM886 113h14.6v14.6h-14.6zM900 113h14.6v14.6h-14.6zM914 113h14.6v14.6h-14.6zM522 127h14.6v14.6h-14.6zM536 127h14.6v14.6h-14.6zM550 127h14.6v14.6h-14.6zM564 127h14.6v14.6h-14.6zM578 127h14.6v14.6h-14.6zM858 127h14.6v14.6h-14.6zM872 127h14.6v14.6h-14.6zM886 127h14.6v14.6h-14.6zM900 127h14.6v14.6h-14.6zM914 127h14.6v14.6h-14.6zM578 141h14.6v14.6h-14.6zM592 141h14.6v14.6h-14.6zM606 141h14.6v14.6h-14.6zM830 141h14.6v14.6h-14.6zM844 141h14.6v14.6h-14.6zM858 141h14.6v14.6h-14.6zM620 155h14.6v14.6h-14.6zM816 155h14.6v14.6h-14.6zM620 323h14.6v14.6h-14.6zM816 323h14.6v14.6h-14.6zM578 336h14.6v14.6h-14.6zM592 336h14.6v14.6h-14.6zM606 336h14.6v14.6h-14.6zM830 336h14.6v14.6h-14.6zM844 336h14.6v14.6h-14.6zM858 336h14.6v14.6h-14.6zM522 350h14.6v14.6h-14.6zM536 350h14.6v14.6h-14.6zM550 350h14.6v14.6h-14.6zM564 350h14.6v14.6h-14.6zM578 350h14.6v14.6h-14.6zM858 350h14.6v14.6h-14.6zM872 350h14.6v14.6h-14.6zM886 350h14.6v14.6h-14.6zM900 350h14.6v14.6h-14.6zM914 350h14.6v14.6h-14.6zM522 364h14.6v14.6h-14.6zM536 364h14.6v14.6h-14.6zM550 364h14.6v14.6h-14.6zM564 364h14.6v14.6h-14.6zM872 364h14.6v14.6h-14.6zM886 364h14.6v14.6h-14.6zM900 364h14.6v14.6h-14.6zM914 364h14.6v14.6h-14.6zM522 378h14.6v14.6h-14.6zM536 378h14.6v14.6h-14.6zM900 378h14.6v14.6h-14.6zM914 378h14.6v14.6h-14.6z"/><path fill="#8fcbd8" d="M704 99h14.6v14.6h-14.6zM718 99h14.6v14.6h-14.6zM732 99h14.6v14.6h-14.6zM690 113h14.6v14.6h-14.6zM746 113h14.6v14.6h-14.6zM676 127h14.6v14.6h-14.6zM760 127h14.6v14.6h-14.6zM676 350h14.6v14.6h-14.6zM760 350h14.6v14.6h-14.6zM690 364h14.6v14.6h-14.6zM746 364h14.6v14.6h-14.6zM704 378h14.6v14.6h-14.6zM718 378h14.6v14.6h-14.6zM732 378h14.6v14.6h-14.6z"/><path fill="#8acadf" d="M704 113h14.6v14.6h-14.6zM718 113h14.6v14.6h-14.6zM732 113h14.6v14.6h-14.6zM676 141h14.6v14.6h-14.6zM760 141h14.6v14.6h-14.6zM676 169h14.6v14.6h-14.6zM760 169h14.6v14.6h-14.6zM676 183h14.6v14.6h-14.6zM760 183h14.6v14.6h-14.6zM676 295h14.6v14.6h-14.6zM760 295h14.6v14.6h-14.6zM676 309h14.6v14.6h-14.6zM760 309h14.6v14.6h-14.6zM676 336h14.6v14.6h-14.6zM760 336h14.6v14.6h-14.6zM704 364h14.6v14.6h-14.6zM718 364h14.6v14.6h-14.6zM732 364h14.6v14.6h-14.6z"/><path fill="#81c8e7" d="M690 127h14.6v14.6h-14.6zM746 127h14.6v14.6h-14.6zM676 155h14.6v14.6h-14.6zM760 155h14.6v14.6h-14.6zM662 211h14.6v14.6h-14.6zM774 211h14.6v14.6h-14.6zM662 267h14.6v14.6h-14.6zM774 267h14.6v14.6h-14.6zM676 323h14.6v14.6h-14.6zM760 323h14.6v14.6h-14.6zM690 350h14.6v14.6h-14.6zM746 350h14.6v14.6h-14.6z"/><path fill="#77c4ec" d="M704 127h14.6v14.6h-14.6zM718 127h14.6v14.6h-14.6zM732 127h14.6v14.6h-14.6zM690 141h14.6v14.6h-14.6zM746 141h14.6v14.6h-14.6zM690 336h14.6v14.6h-14.6zM746 336h14.6v14.6h-14.6zM704 350h14.6v14.6h-14.6zM718 350h14.6v14.6h-14.6zM732 350h14.6v14.6h-14.6z"/><path fill="#a8cb74" d="M522 141h14.6v14.6h-14.6zM536 141h14.6v14.6h-14.6zM550 141h14.6v14.6h-14.6zM564 141h14.6v14.6h-14.6zM872 141h14.6v14.6h-14.6zM886 141h14.6v14.6h-14.6zM900 141h14.6v14.6h-14.6zM914 141h14.6v14.6h-14.6zM522 155h14.6v14.6h-14.6zM536 155h14.6v14.6h-14.6zM550 155h14.6v14.6h-14.6zM564 155h14.6v14.6h-14.6zM578 155h14.6v14.6h-14.6zM592 155h14.6v14.6h-14.6zM606 155h14.6v14.6h-14.6zM830 155h14.6v14.6h-14.6zM844 155h14.6v14.6h-14.6zM858 155h14.6v14.6h-14.6zM872 155h14.6v14.6h-14.6zM886 155h14.6v14.6h-14.6zM900 155h14.6v14.6h-14.6zM914 155h14.6v14.6h-14.6zM620 169h14.6v14.6h-14.6zM634 169h14.6v14.6h-14.6zM802 169h14.6v14.6h-14.6zM816 169h14.6v14.6h-14.6zM634 309h14.6v14.6h-14.6zM802 309h14.6v14.6h-14.6zM522 323h14.6v14.6h-14.6zM536 323h14.6v14.6h-14.6zM550 323h14.6v14.6h-14.6zM564 323h14.6v14.6h-14.6zM578 323h14.6v14.6h-14.6zM592 323h14.6v14.6h-14.6zM606 323h14.6v14.6h-14.6zM830 323h14.6v14.6h-14.6zM844 323h14.6v14.6h-14.6zM858 323h14.6v14.6h-14.6zM872 323h14.6v14.6h-14.6zM886 323h14.6v14.6h-14.6zM900 323h14.6v14.6h-14.6zM914 323h14.6v14.6h-14.6zM522 336h14.6v14.6h-14.6zM536 336h14.6v14.6h-14.6zM550 336h14.6v14.6h-14.6zM564 336h14.6v14.6h-14.6zM872 336h14.6v14.6h-14.6zM886 336h14.6v14.6h-14.6zM900 336h14.6v14.6h-14.6zM914 336h14.6v14.6h-14.6z"/><path fill="#6aa8dd" d="M704 141h14.6v14.6h-14.6zM732 141h14.6v14.6h-14.6zM690 155h14.6v14.6h-14.6zM746 155h14.6v14.6h-14.6zM690 169h14.6v14.6h-14.6zM746 169h14.6v14.6h-14.6zM690 309h14.6v14.6h-14.6zM746 309h14.6v14.6h-14.6zM690 323h14.6v14.6h-14.6zM746 323h14.6v14.6h-14.6zM704 336h14.6v14.6h-14.6zM732 336h14.6v14.6h-14.6z"/><path fill="#669dd4" d="M718 141h14.6v14.6h-14.6zM718 336h14.6v14.6h-14.6z"/><path fill="#5d87c3" d="M704 155h14.6v14.6h-14.6zM732 155h14.6v14.6h-14.6zM704 323h14.6v14.6h-14.6zM732 323h14.6v14.6h-14.6z"/><path fill="#577bb9" d="M718 155h14.6v14.6h-14.6zM704 169h14.6v14.6h-14.6zM732 169h14.6v14.6h-14.6zM662 225h14.6v14.6h-14.6zM774 225h14.6v14.6h-14.6zM662 253h14.6v14.6h-14.6zM774 253h14.6v14.6h-14.6zM704 309h14.6v14.6h-14.6zM732 309h14.6v14.6h-14.6zM718 323h14.6v14.6h-14.6z"/><path fill="#afce66" d="M522 169h14.6v14.6h-14.6zM536 169h14.6v14.6h-14.6zM550 169h14.6v14.6h-14.6zM564 169h14.6v14.6h-14.6zM578 169h14.6v14.6h-14.6zM592 169h14.6v14.6h-14.6zM606 169h14.6v14.6h-14.6zM830 169h14.6v14.6h-14.6zM844 169h14.6v14.6h-14.6zM858 169h14.6v14.6h-14.6zM872 169h14.6v14.6h-14.6zM886 169h14.6v14.6h-14.6zM900 169h14.6v14.6h-14.6zM914 169h14.6v14.6h-14.6zM522 183h14.6v14.6h-14.6zM536 183h14.6v14.6h-14.6zM550 183h14.6v14.6h-14.6zM564 183h14.6v14.6h-14.6zM648 183h14.6v14.6h-14.6zM788 183h14.6v14.6h-14.6zM872 183h14.6v14.6h-14.6zM886 183h14.6v14.6h-14.6zM900 183h14.6v14.6h-14.6zM914 183h14.6v14.6h-14.6zM522 197h14.6v14.6h-14.6zM536 197h14.6v14.6h-14.6zM900 197h14.6v14.6h-14.6zM914 197h14.6v14.6h-14.6zM522 281h14.6v14.6h-14.6zM536 281h14.6v14.6h-14.6zM900 281h14.6v14.6h-14.6zM914 281h14.6v14.6h-14.6zM522 295h14.6v14.6h-14.6zM536 295h14.6v14.6h-14.6zM550 295h14.6v14.6h-14.6zM648 295h14.6v14.6h-14.6zM788 295h14.6v14.6h-14.6zM886 295h14.6v14.6h-14.6zM900 295h14.6v14.6h-14.6zM914 295h14.6v14.6h-14.6zM522 309h14.6v14.6h-14.6zM536 309h14.6v14.6h-14.6zM550 309h14.6v14.6h-14.6zM564 309h14.6v14.6h-14.6zM578 309h14.6v14.6h-14.6zM592 309h14.6v14.6h-14.6zM606 309h14.6v14.6h-14.6zM620 309h14.6v14.6h-14.6zM816 309h14.6v14.6h-14.6zM830 309h14.6v14.6h-14.6zM844 309h14.6v14.6h-14.6zM858 309h14.6v14.6h-14.6zM872 309h14.6v14.6h-14.6zM886 309h14.6v14.6h-14.6zM900 309h14.6v14.6h-14.6zM914 309h14.6v14.6h-14.6z"/><path fill="#526fb2" d="M718 169h14.6v14.6h-14.6z"/><path fill="#b7d059" d="M578 183h14.6v14.6h-14.6zM592 183h14.6v14.6h-14.6zM606 183h14.6v14.6h-14.6zM620 183h14.6v14.6h-14.6zM634 183h14.6v14.6h-14.6zM802 183h14.6v14.6h-14.6zM816 183h14.6v14.6h-14.6zM830 183h14.6v14.6h-14.6zM844 183h14.6v14.6h-14.6zM858 183h14.6v14.6h-14.6zM550 197h14.6v14.6h-14.6zM564 197h14.6v14.6h-14.6zM872 197h14.6v14.6h-14.6zM886 197h14.6v14.6h-14.6zM522 211h14.6v14.6h-14.6zM536 211h14.6v14.6h-14.6zM550 211h14.6v14.6h-14.6zM886 211h14.6v14.6h-14.6zM900 211h14.6v14.6h-14.6zM914 211h14.6v14.6h-14.6zM522 225h14.6v14.6h-14.6zM536 225h14.6v14.6h-14.6zM550 225h14.6v14.6h-14.6zM886 225h14.6v14.6h-14.6zM900 225h14.6v14.6h-14.6zM914 225h14.6v14.6h-14.6zM522 239h14.6v14.6h-14.6zM536 239h14.6v14.6h-14.6zM550 239h14.6v14.6h-14.6zM886 239h14.6v14.6h-14.6zM900 239h14.6v14.6h-14.6zM914 239h14.6v14.6h-14.6zM522 253h14.6v14.6h-14.6zM536 253h14.6v14.6h-14.6zM550 253h14.6v14.6h-14.6zM886 253h14.6v14.6h-14.6zM900 253h14.6v14.6h-14.6zM914 253h14.6v14.6h-14.6zM522 267h14.6v14.6h-14.6zM536 267h14.6v14.6h-14.6zM550 267h14.6v14.6h-14.6zM886 267h14.6v14.6h-14.6zM900 267h14.6v14.6h-14.6zM914 267h14.6v14.6h-14.6zM550 281h14.6v14.6h-14.6zM564 281h14.6v14.6h-14.6zM872 281h14.6v14.6h-14.6zM886 281h14.6v14.6h-14.6zM564 295h14.6v14.6h-14.6zM578 295h14.6v14.6h-14.6zM592 295h14.6v14.6h-14.6zM606 295h14.6v14.6h-14.6zM634 295h14.6v14.6h-14.6zM802 295h14.6v14.6h-14.6zM830 295h14.6v14.6h-14.6zM844 295h14.6v14.6h-14.6zM858 295h14.6v14.6h-14.6zM872 295h14.6v14.6h-14.6z"/><path fill="#4858a6" d="M690 183h14.6v14.6h-14.6zM746 183h14.6v14.6h-14.6zM676 281h14.6v14.6h-14.6zM760 281h14.6v14.6h-14.6z"/><path fill="#363e93" d="M704 183h14.6v14.6h-14.6zM732 183h14.6v14.6h-14.6zM676 225h14.6v14.6h-14.6zM760 225h14.6v14.6h-14.6zM676 239h14.6v14.6h-14.6zM760 239h14.6v14.6h-14.6zM676 253h14.6v14.6h-14.6zM760 253h14.6v14.6h-14.6z"/><path fill="#303488" d="M718 183h14.6v14.6h-14.6zM718 295h14.6v14.6h-14.6z"/><path fill="#c1d54e" d="M578 197h14.6v14.6h-14.6zM592 197h14.6v14.6h-14.6zM844 197h14.6v14.6h-14.6zM858 197h14.6v14.6h-14.6zM564 211h14.6v14.6h-14.6zM578 211h14.6v14.6h-14.6zM858 211h14.6v14.6h-14.6zM872 211h14.6v14.6h-14.6zM564 225h14.6v14.6h-14.6zM872 225h14.6v14.6h-14.6zM564 239h14.6v14.6h-14.6zM872 239h14.6v14.6h-14.6zM564 253h14.6v14.6h-14.6zM872 253h14.6v14.6h-14.6zM564 267h14.6v14.6h-14.6zM578 267h14.6v14.6h-14.6zM858 267h14.6v14.6h-14.6zM872 267h14.6v14.6h-14.6zM578 281h14.6v14.6h-14.6zM592 281h14.6v14.6h-14.6zM844 281h14.6v14.6h-14.6zM858 281h14.6v14.6h-14.6zM620 295h14.6v14.6h-14.6zM816 295h14.6v14.6h-14.6z"/><path fill="#cad948" d="M606 197h14.6v14.6h-14.6zM830 197h14.6v14.6h-14.6zM592 211h14.6v14.6h-14.6zM844 211h14.6v14.6h-14.6zM578 225h14.6v14.6h-14.6zM858 225h14.6v14.6h-14.6zM578 239h14.6v14.6h-14.6zM858 239h14.6v14.6h-14.6zM578 253h14.6v14.6h-14.6zM858 253h14.6v14.6h-14.6zM592 267h14.6v14.6h-14.6zM844 267h14.6v14.6h-14.6zM606 281h14.6v14.6h-14.6zM830 281h14.6v14.6h-14.6z"/><path fill="#d2dc43" d="M620 197h14.6v14.6h-14.6zM816 197h14.6v14.6h-14.6zM592 225h14.6v14.6h-14.6zM844 225h14.6v14.6h-14.6zM592 239h14.6v14.6h-14.6zM844 239h14.6v14.6h-14.6zM592 253h14.6v14.6h-14.6zM844 253h14.6v14.6h-14.6zM620 281h14.6v14.6h-14.6zM816 281h14.6v14.6h-14.6z"/><path fill="#dbe13f" d="M634 197h14.6v14.6h-14.6zM648 197h14.6v14.6h-14.6zM788 197h14.6v14.6h-14.6zM802 197h14.6v14.6h-14.6zM606 211h14.6v14.6h-14.6zM830 211h14.6v14.6h-14.6zM606 267h14.6v14.6h-14.6zM830 267h14.6v14.6h-14.6zM634 281h14.6v14.6h-14.6zM648 281h14.6v14.6h-14.6zM788 281h14.6v14.6h-14.6zM802 281h14.6v14.6h-14.6z"/><path fill="#4a5ca8" d="M676 197h14.6v14.6h-14.6zM760 197h14.6v14.6h-14.6z"/><path fill="#33398e" d="M690 197h14.6v14.6h-14.6zM704 197h14.6v14.6h-14.6zM718 197h14.6v14.6h-14.6zM732 197h14.6v14.6h-14.6zM746 197h14.6v14.6h-14.6zM690 211h14.6v14.6h-14.6zM704 211h14.6v14.6h-14.6zM718 211h14.6v14.6h-14.6zM732 211h14.6v14.6h-14.6zM746 211h14.6v14.6h-14.6zM690 225h14.6v14.6h-14.6zM704 225h14.6v14.6h-14.6zM718 225h14.6v14.6h-14.6zM732 225h14.6v14.6h-14.6zM746 225h14.6v14.6h-14.6zM690 239h14.6v14.6h-14.6zM704 239h14.6v14.6h-14.6zM718 239h14.6v14.6h-14.6zM732 239h14.6v14.6h-14.6zM746 239h14.6v14.6h-14.6zM690 253h14.6v14.6h-14.6zM704 253h14.6v14.6h-14.6zM718 253h14.6v14.6h-14.6zM732 253h14.6v14.6h-14.6zM746 253h14.6v14.6h-14.6zM690 267h14.6v14.6h-14.6zM704 267h14.6v14.6h-14.6zM718 267h14.6v14.6h-14.6zM732 267h14.6v14.6h-14.6zM746 267h14.6v14.6h-14.6zM690 281h14.6v14.6h-14.6zM704 281h14.6v14.6h-14.6zM718 281h14.6v14.6h-14.6zM732 281h14.6v14.6h-14.6zM746 281h14.6v14.6h-14.6zM704 295h14.6v14.6h-14.6zM732 295h14.6v14.6h-14.6z"/><path fill="#e4e53c" d="M620 211h14.6v14.6h-14.6zM816 211h14.6v14.6h-14.6zM606 225h14.6v14.6h-14.6zM830 225h14.6v14.6h-14.6zM606 239h14.6v14.6h-14.6zM648 239h14.6v14.6h-14.6zM788 239h14.6v14.6h-14.6zM830 239h14.6v14.6h-14.6zM606 253h14.6v14.6h-14.6zM830 253h14.6v14.6h-14.6zM620 267h14.6v14.6h-14.6zM816 267h14.6v14.6h-14.6z"/><path fill="#f5ee3c" d="M634 211h14.6v14.6h-14.6zM648 211h14.6v14.6h-14.6zM788 211h14.6v14.6h-14.6zM802 211h14.6v14.6h-14.6zM620 225h14.6v14.6h-14.6zM816 225h14.6v14.6h-14.6zM620 253h14.6v14.6h-14.6zM816 253h14.6v14.6h-14.6zM648 267h14.6v14.6h-14.6zM788 267h14.6v14.6h-14.6z"/><path fill="#3f4b9c" d="M676 211h14.6v14.6h-14.6zM760 211h14.6v14.6h-14.6z"/><path fill="#eec230" d="M634 225h14.6v14.6h-14.6zM802 225h14.6v14.6h-14.6zM634 253h14.6v14.6h-14.6zM802 253h14.6v14.6h-14.6z"/><path fill="#edea3c" d="M648 225h14.6v14.6h-14.6zM788 225h14.6v14.6h-14.6zM648 253h14.6v14.6h-14.6zM788 253h14.6v14.6h-14.6z"/><path fill="#f7e337" d="M620 239h14.6v14.6h-14.6zM816 239h14.6v14.6h-14.6zM634 267h14.6v14.6h-14.6zM802 267h14.6v14.6h-14.6z"/><path fill="#e9b22e" d="M634 239h14.6v14.6h-14.6zM802 239h14.6v14.6h-14.6z"/><path fill="#4d64ac" d="M662 239h14.6v14.6h-14.6zM774 239h14.6v14.6h-14.6zM718 309h14.6v14.6h-14.6z"/><path fill="#3b4598" d="M676 267h14.6v14.6h-14.6zM760 267h14.6v14.6h-14.6z"/><path fill="#4756a4" d="M690 295h14.6v14.6h-14.6zM746 295h14.6v14.6h-14.6z"/></g></g>
<g clip-path="url(#fbc2)"><g filter="url(#fbl)"><path fill="#afce66" d="M913 43h14.5v14.6h-14.5zM927 43h14.5v14.6h-14.5zM941 43h14.5v14.6h-14.5zM955 43h14.5v14.6h-14.5zM969 43h14.5v14.6h-14.5zM1052 43h14.5v14.6h-14.5zM1066 43h14.5v14.6h-14.5zM1080 43h14.5v14.6h-14.5zM913 57h14.5v14.6h-14.5zM927 57h14.5v14.6h-14.5zM941 57h14.5v14.6h-14.5zM955 57h14.5v14.6h-14.5zM969 57h14.5v14.6h-14.5zM1052 57h14.5v14.6h-14.5zM1066 57h14.5v14.6h-14.5zM1080 57h14.5v14.6h-14.5zM913 71h14.5v14.6h-14.5zM927 71h14.5v14.6h-14.5zM941 71h14.5v14.6h-14.5zM955 71h14.5v14.6h-14.5zM1080 71h14.5v14.6h-14.5zM1094 71h14.5v14.6h-14.5zM913 85h14.5v14.6h-14.5zM927 85h14.5v14.6h-14.5zM941 85h14.5v14.6h-14.5zM1094 85h14.5v14.6h-14.5zM913 99h14.5v14.6h-14.5zM927 99h14.5v14.6h-14.5zM1094 99h14.5v14.6h-14.5zM913 183h14.5v14.6h-14.5zM927 183h14.5v14.6h-14.5zM913 197h14.5v14.6h-14.5zM927 197h14.5v14.6h-14.5zM913 211h14.5v14.6h-14.5zM927 211h14.5v14.6h-14.5zM941 211h14.5v14.6h-14.5zM941 225h14.5v14.6h-14.5zM955 225h14.5v14.6h-14.5zM969 225h14.5v14.6h-14.5zM1248 253h14.5v14.6h-14.5zM1262 253h14.5v14.6h-14.5zM1276 253h14.5v14.6h-14.5zM1276 267h14.5v14.6h-14.5zM1290 267h14.5v14.6h-14.5zM1304 267h14.5v14.6h-14.5zM1290 281h14.5v14.6h-14.5zM1304 281h14.5v14.6h-14.5zM1290 295h14.5v14.6h-14.5zM1304 295h14.5v14.6h-14.5zM1122 378h14.5v14.6h-14.5zM1290 378h14.5v14.6h-14.5zM1304 378h14.5v14.6h-14.5zM1122 392h14.5v14.6h-14.5zM1290 392h14.5v14.6h-14.5zM1304 392h14.5v14.6h-14.5zM1122 406h14.5v14.6h-14.5zM1136 406h14.5v14.6h-14.5zM1276 406h14.5v14.6h-14.5zM1290 406h14.5v14.6h-14.5zM1304 406h14.5v14.6h-14.5zM1136 420h14.5v14.6h-14.5zM1150 420h14.5v14.6h-14.5zM1164 420h14.5v14.6h-14.5zM1248 420h14.5v14.6h-14.5zM1262 420h14.5v14.6h-14.5zM1276 420h14.5v14.6h-14.5zM1290 420h14.5v14.6h-14.5zM1304 420h14.5v14.6h-14.5zM1136 434h14.5v14.6h-14.5zM1150 434h14.5v14.6h-14.5zM1164 434h14.5v14.6h-14.5zM1248 434h14.5v14.6h-14.5zM1262 434h14.5v14.6h-14.5zM1276 434h14.5v14.6h-14.5zM1290 434h14.5v14.6h-14.5zM1304 434h14.5v14.6h-14.5z"/><path fill="#b7d059" d="M983 43h14.5v14.6h-14.5zM997 43h14.5v14.6h-14.5zM1011 43h14.5v14.6h-14.5zM1025 43h14.5v14.6h-14.5zM1038 43h14.5v14.6h-14.5zM983 57h14.5v14.6h-14.5zM997 57h14.5v14.6h-14.5zM1011 57h14.5v14.6h-14.5zM1025 57h14.5v14.6h-14.5zM1038 57h14.5v14.6h-14.5zM969 71h14.5v14.6h-14.5zM983 71h14.5v14.6h-14.5zM997 71h14.5v14.6h-14.5zM1011 71h14.5v14.6h-14.5zM1025 71h14.5v14.6h-14.5zM1038 71h14.5v14.6h-14.5zM1052 71h14.5v14.6h-14.5zM1066 71h14.5v14.6h-14.5zM955 85h14.5v14.6h-14.5zM969 85h14.5v14.6h-14.5zM983 85h14.5v14.6h-14.5zM1066 85h14.5v14.6h-14.5zM1080 85h14.5v14.6h-14.5zM941 99h14.5v14.6h-14.5zM955 99h14.5v14.6h-14.5zM969 99h14.5v14.6h-14.5zM1080 99h14.5v14.6h-14.5zM913 113h14.5v14.6h-14.5zM927 113h14.5v14.6h-14.5zM941 113h14.5v14.6h-14.5zM955 113h14.5v14.6h-14.5zM1094 113h14.5v14.6h-14.5zM913 127h14.5v14.6h-14.5zM927 127h14.5v14.6h-14.5zM941 127h14.5v14.6h-14.5zM1094 127h14.5v14.6h-14.5zM913 141h14.5v14.6h-14.5zM927 141h14.5v14.6h-14.5zM941 141h14.5v14.6h-14.5zM913 155h14.5v14.6h-14.5zM927 155h14.5v14.6h-14.5zM941 155h14.5v14.6h-14.5zM913 169h14.5v14.6h-14.5zM927 169h14.5v14.6h-14.5zM941 169h14.5v14.6h-14.5zM941 183h14.5v14.6h-14.5zM941 197h14.5v14.6h-14.5zM955 197h14.5v14.6h-14.5zM955 211h14.5v14.6h-14.5zM969 211h14.5v14.6h-14.5zM983 225h14.5v14.6h-14.5zM997 225h14.5v14.6h-14.5zM1220 253h14.5v14.6h-14.5zM1234 253h14.5v14.6h-14.5zM1248 267h14.5v14.6h-14.5zM1262 267h14.5v14.6h-14.5zM1136 281h14.5v14.6h-14.5zM1262 281h14.5v14.6h-14.5zM1276 281h14.5v14.6h-14.5zM1276 295h14.5v14.6h-14.5zM1276 309h14.5v14.6h-14.5zM1290 309h14.5v14.6h-14.5zM1304 309h14.5v14.6h-14.5zM1276 323h14.5v14.6h-14.5zM1290 323h14.5v14.6h-14.5zM1304 323h14.5v14.6h-14.5zM1276 336h14.5v14.6h-14.5zM1290 336h14.5v14.6h-14.5zM1304 336h14.5v14.6h-14.5zM1122 350h14.5v14.6h-14.5zM1276 350h14.5v14.6h-14.5zM1290 350h14.5v14.6h-14.5zM1304 350h14.5v14.6h-14.5zM1122 364h14.5v14.6h-14.5zM1262 364h14.5v14.6h-14.5zM1276 364h14.5v14.6h-14.5zM1290 364h14.5v14.6h-14.5zM1304 364h14.5v14.6h-14.5zM1136 378h14.5v14.6h-14.5zM1248 378h14.5v14.6h-14.5zM1262 378h14.5v14.6h-14.5zM1276 378h14.5v14.6h-14.5zM1136 392h14.5v14.6h-14.5zM1150 392h14.5v14.6h-14.5zM1234 392h14.5v14.6h-14.5zM1248 392h14.5v14.6h-14.5zM1262 392h14.5v14.6h-14.5zM1276 392h14.5v14.6h-14.5zM1150 406h14.5v14.6h-14.5zM1164 406h14.5v14.6h-14.5zM1178 406h14.5v14.6h-14.5zM1192 406h14.5v14.6h-14.5zM1206 406h14.5v14.6h-14.5zM1220 406h14.5v14.6h-14.5zM1234 406h14.5v14.6h-14.5zM1248 406h14.5v14.6h-14.5zM1262 406h14.5v14.6h-14.5zM1178 420h14.5v14.6h-14.5zM1192 420h14.5v14.6h-14.5zM1206 420h14.5v14.6h-14.5zM1220 420h14.5v14.6h-14.5zM1234 420h14.5v14.6h-14.5zM1178 434h14.5v14.6h-14.5zM1192 434h14.5v14.6h-14.5zM1206 434h14.5v14.6h-14.5zM1220 434h14.5v14.6h-14.5zM1234 434h14.5v14.6h-14.5z"/><path fill="#a8cb74" d="M1094 43h14.5v14.6h-14.5zM1108 43h14.5v14.6h-14.5zM1122 43h14.5v14.6h-14.5zM1094 57h14.5v14.6h-14.5zM1108 57h14.5v14.6h-14.5zM1122 57h14.5v14.6h-14.5zM1108 71h14.5v14.6h-14.5zM1108 85h14.5v14.6h-14.5zM1108 99h14.5v14.6h-14.5zM1108 113h14.5v14.6h-14.5zM1108 127h14.5v14.6h-14.5zM1108 141h14.5v14.6h-14.5zM1108 155h14.5v14.6h-14.5zM1108 169h14.5v14.6h-14.5zM1108 183h14.5v14.6h-14.5zM1094 197h14.5v14.6h-14.5zM1108 197h14.5v14.6h-14.5zM1122 197h14.5v14.6h-14.5zM1080 211h14.5v14.6h-14.5zM1094 211h14.5v14.6h-14.5zM1108 211h14.5v14.6h-14.5zM1122 211h14.5v14.6h-14.5zM1136 211h14.5v14.6h-14.5zM913 225h14.5v14.6h-14.5zM927 225h14.5v14.6h-14.5zM1066 225h14.5v14.6h-14.5zM1080 225h14.5v14.6h-14.5zM1094 225h14.5v14.6h-14.5zM1108 225h14.5v14.6h-14.5zM1122 225h14.5v14.6h-14.5zM1136 225h14.5v14.6h-14.5zM1150 225h14.5v14.6h-14.5zM1290 225h14.5v14.6h-14.5zM1304 225h14.5v14.6h-14.5zM913 239h14.5v14.6h-14.5zM927 239h14.5v14.6h-14.5zM941 239h14.5v14.6h-14.5zM955 239h14.5v14.6h-14.5zM969 239h14.5v14.6h-14.5zM983 239h14.5v14.6h-14.5zM997 239h14.5v14.6h-14.5zM1011 239h14.5v14.6h-14.5zM1025 239h14.5v14.6h-14.5zM1038 239h14.5v14.6h-14.5zM1052 239h14.5v14.6h-14.5zM1066 239h14.5v14.6h-14.5zM1080 239h14.5v14.6h-14.5zM1094 239h14.5v14.6h-14.5zM1108 239h14.5v14.6h-14.5zM1122 239h14.5v14.6h-14.5zM1136 239h14.5v14.6h-14.5zM1150 239h14.5v14.6h-14.5zM1164 239h14.5v14.6h-14.5zM1178 239h14.5v14.6h-14.5zM1192 239h14.5v14.6h-14.5zM1206 239h14.5v14.6h-14.5zM1220 239h14.5v14.6h-14.5zM1234 239h14.5v14.6h-14.5zM1248 239h14.5v14.6h-14.5zM1262 239h14.5v14.6h-14.5zM1276 239h14.5v14.6h-14.5zM1290 239h14.5v14.6h-14.5zM1304 239h14.5v14.6h-14.5zM913 253h14.5v14.6h-14.5zM927 253h14.5v14.6h-14.5zM1066 253h14.5v14.6h-14.5zM1080 253h14.5v14.6h-14.5zM1094 253h14.5v14.6h-14.5zM1108 253h14.5v14.6h-14.5zM1122 253h14.5v14.6h-14.5zM1136 253h14.5v14.6h-14.5zM1150 253h14.5v14.6h-14.5zM1290 253h14.5v14.6h-14.5zM1304 253h14.5v14.6h-14.5zM1080 267h14.5v14.6h-14.5zM1094 267h14.5v14.6h-14.5zM1108 267h14.5v14.6h-14.5zM1122 267h14.5v14.6h-14.5zM1136 267h14.5v14.6h-14.5zM1094 281h14.5v14.6h-14.5zM1108 281h14.5v14.6h-14.5zM1122 281h14.5v14.6h-14.5zM1108 295h14.5v14.6h-14.5zM1108 309h14.5v14.6h-14.5zM1108 323h14.5v14.6h-14.5zM1108 336h14.5v14.6h-14.5zM1108 350h14.5v14.6h-14.5zM1108 364h14.5v14.6h-14.5zM1108 378h14.5v14.6h-14.5zM1108 392h14.5v14.6h-14.5zM1108 406h14.5v14.6h-14.5zM1094 420h14.5v14.6h-14.5zM1108 420h14.5v14.6h-14.5zM1122 420h14.5v14.6h-14.5zM1094 434h14.5v14.6h-14.5zM1108 434h14.5v14.6h-14.5zM1122 434h14.5v14.6h-14.5z"/><path fill="#a3ca80" d="M1136 43h14.5v14.6h-14.5zM1150 43h14.5v14.6h-14.5zM1164 43h14.5v14.6h-14.5zM1248 43h14.5v14.6h-14.5zM1262 43h14.5v14.6h-14.5zM1276 43h14.5v14.6h-14.5zM1290 43h14.5v14.6h-14.5zM1304 43h14.5v14.6h-14.5zM1136 57h14.5v14.6h-14.5zM1150 57h14.5v14.6h-14.5zM1164 57h14.5v14.6h-14.5zM1248 57h14.5v14.6h-14.5zM1262 57h14.5v14.6h-14.5zM1276 57h14.5v14.6h-14.5zM1290 57h14.5v14.6h-14.5zM1304 57h14.5v14.6h-14.5zM1122 71h14.5v14.6h-14.5zM1136 71h14.5v14.6h-14.5zM1262 71h14.5v14.6h-14.5zM1276 71h14.5v14.6h-14.5zM1290 71h14.5v14.6h-14.5zM1304 71h14.5v14.6h-14.5zM1122 85h14.5v14.6h-14.5zM1276 85h14.5v14.6h-14.5zM1290 85h14.5v14.6h-14.5zM1304 85h14.5v14.6h-14.5zM1122 99h14.5v14.6h-14.5zM1290 99h14.5v14.6h-14.5zM1304 99h14.5v14.6h-14.5zM1290 183h14.5v14.6h-14.5zM1304 183h14.5v14.6h-14.5zM1290 197h14.5v14.6h-14.5zM1304 197h14.5v14.6h-14.5zM1276 211h14.5v14.6h-14.5zM1290 211h14.5v14.6h-14.5zM1304 211h14.5v14.6h-14.5zM1248 225h14.5v14.6h-14.5zM1262 225h14.5v14.6h-14.5zM1276 225h14.5v14.6h-14.5zM941 253h14.5v14.6h-14.5zM955 253h14.5v14.6h-14.5zM969 253h14.5v14.6h-14.5zM913 267h14.5v14.6h-14.5zM927 267h14.5v14.6h-14.5zM941 267h14.5v14.6h-14.5zM913 281h14.5v14.6h-14.5zM927 281h14.5v14.6h-14.5zM913 295h14.5v14.6h-14.5zM927 295h14.5v14.6h-14.5zM913 378h14.5v14.6h-14.5zM927 378h14.5v14.6h-14.5zM1094 378h14.5v14.6h-14.5zM913 392h14.5v14.6h-14.5zM927 392h14.5v14.6h-14.5zM1094 392h14.5v14.6h-14.5zM913 406h14.5v14.6h-14.5zM927 406h14.5v14.6h-14.5zM941 406h14.5v14.6h-14.5zM1080 406h14.5v14.6h-14.5zM1094 406h14.5v14.6h-14.5zM913 420h14.5v14.6h-14.5zM927 420h14.5v14.6h-14.5zM941 420h14.5v14.6h-14.5zM955 420h14.5v14.6h-14.5zM969 420h14.5v14.6h-14.5zM1052 420h14.5v14.6h-14.5zM1066 420h14.5v14.6h-14.5zM1080 420h14.5v14.6h-14.5zM913 434h14.5v14.6h-14.5zM927 434h14.5v14.6h-14.5zM941 434h14.5v14.6h-14.5zM955 434h14.5v14.6h-14.5zM969 434h14.5v14.6h-14.5zM1052 434h14.5v14.6h-14.5zM1066 434h14.5v14.6h-14.5zM1080 434h14.5v14.6h-14.5z"/><path fill="#9dc98b" d="M1178 43h14.5v14.6h-14.5zM1192 43h14.5v14.6h-14.5zM1206 43h14.5v14.6h-14.5zM1220 43h14.5v14.6h-14.5zM1234 43h14.5v14.6h-14.5zM1178 57h14.5v14.6h-14.5zM1192 57h14.5v14.6h-14.5zM1206 57h14.5v14.6h-14.5zM1220 57h14.5v14.6h-14.5zM1234 57h14.5v14.6h-14.5zM1150 71h14.5v14.6h-14.5zM1164 71h14.5v14.6h-14.5zM1178 71h14.5v14.6h-14.5zM1192 71h14.5v14.6h-14.5zM1206 71h14.5v14.6h-14.5zM1220 71h14.5v14.6h-14.5zM1234 71h14.5v14.6h-14.5zM1248 71h14.5v14.6h-14.5zM1136 85h14.5v14.6h-14.5zM1150 85h14.5v14.6h-14.5zM1234 85h14.5v14.6h-14.5zM1248 85h14.5v14.6h-14.5zM1262 85h14.5v14.6h-14.5zM1136 99h14.5v14.6h-14.5zM1248 99h14.5v14.6h-14.5zM1262 99h14.5v14.6h-14.5zM1276 99h14.5v14.6h-14.5zM1122 113h14.5v14.6h-14.5zM1262 113h14.5v14.6h-14.5zM1276 113h14.5v14.6h-14.5zM1290 113h14.5v14.6h-14.5zM1304 113h14.5v14.6h-14.5zM1122 127h14.5v14.6h-14.5zM1276 127h14.5v14.6h-14.5zM1290 127h14.5v14.6h-14.5zM1304 127h14.5v14.6h-14.5zM1276 141h14.5v14.6h-14.5zM1290 141h14.5v14.6h-14.5zM1304 141h14.5v14.6h-14.5zM1276 155h14.5v14.6h-14.5zM1290 155h14.5v14.6h-14.5zM1304 155h14.5v14.6h-14.5zM1276 169h14.5v14.6h-14.5zM1290 169h14.5v14.6h-14.5zM1304 169h14.5v14.6h-14.5zM1276 183h14.5v14.6h-14.5zM1262 197h14.5v14.6h-14.5zM1276 197h14.5v14.6h-14.5zM1248 211h14.5v14.6h-14.5zM1262 211h14.5v14.6h-14.5zM1220 225h14.5v14.6h-14.5zM1234 225h14.5v14.6h-14.5zM983 253h14.5v14.6h-14.5zM997 253h14.5v14.6h-14.5zM955 267h14.5v14.6h-14.5zM969 267h14.5v14.6h-14.5zM941 281h14.5v14.6h-14.5zM955 281h14.5v14.6h-14.5zM1080 281h14.5v14.6h-14.5zM941 295h14.5v14.6h-14.5zM913 309h14.5v14.6h-14.5zM927 309h14.5v14.6h-14.5zM941 309h14.5v14.6h-14.5zM913 323h14.5v14.6h-14.5zM927 323h14.5v14.6h-14.5zM941 323h14.5v14.6h-14.5zM913 336h14.5v14.6h-14.5zM927 336h14.5v14.6h-14.5zM941 336h14.5v14.6h-14.5zM913 350h14.5v14.6h-14.5zM927 350h14.5v14.6h-14.5zM941 350h14.5v14.6h-14.5zM1094 350h14.5v14.6h-14.5zM913 364h14.5v14.6h-14.5zM927 364h14.5v14.6h-14.5zM941 364h14.5v14.6h-14.5zM955 364h14.5v14.6h-14.5zM1094 364h14.5v14.6h-14.5zM941 378h14.5v14.6h-14.5zM955 378h14.5v14.6h-14.5zM969 378h14.5v14.6h-14.5zM1080 378h14.5v14.6h-14.5zM941 392h14.5v14.6h-14.5zM955 392h14.5v14.6h-14.5zM969 392h14.5v14.6h-14.5zM983 392h14.5v14.6h-14.5zM1066 392h14.5v14.6h-14.5zM1080 392h14.5v14.6h-14.5zM955 406h14.5v14.6h-14.5zM969 406h14.5v14.6h-14.5zM983 406h14.5v14.6h-14.5zM997 406h14.5v14.6h-14.5zM1011 406h14.5v14.6h-14.5zM1025 406h14.5v14.6h-14.5zM1038 406h14.5v14.6h-14.5zM1052 406h14.5v14.6h-14.5zM1066 406h14.5v14.6h-14.5zM983 420h14.5v14.6h-14.5zM997 420h14.5v14.6h-14.5zM1011 420h14.5v14.6h-14.5zM1025 420h14.5v14.6h-14.5zM1038 420h14.5v14.6h-14.5zM983 434h14.5v14.6h-14.5zM997 434h14.5v14.6h-14.5zM1011 434h14.5v14.6h-14.5zM1025 434h14.5v14.6h-14.5zM1038 434h14.5v14.6h-14.5z"/><path fill="#c1d54e" d="M997 85h14.5v14.6h-14.5zM1011 85h14.5v14.6h-14.5zM1025 85h14.5v14.6h-14.5zM1038 85h14.5v14.6h-14.5zM1052 85h14.5v14.6h-14.5zM983 99h14.5v14.6h-14.5zM997 99h14.5v14.6h-14.5zM1011 99h14.5v14.6h-14.5zM1052 99h14.5v14.6h-14.5zM1066 99h14.5v14.6h-14.5zM969 113h14.5v14.6h-14.5zM983 113h14.5v14.6h-14.5zM1080 113h14.5v14.6h-14.5zM955 127h14.5v14.6h-14.5zM969 127h14.5v14.6h-14.5zM955 141h14.5v14.6h-14.5zM969 141h14.5v14.6h-14.5zM1094 141h14.5v14.6h-14.5zM955 155h14.5v14.6h-14.5zM955 169h14.5v14.6h-14.5zM955 183h14.5v14.6h-14.5zM969 183h14.5v14.6h-14.5zM969 197h14.5v14.6h-14.5zM1080 197h14.5v14.6h-14.5zM983 211h14.5v14.6h-14.5zM1066 211h14.5v14.6h-14.5zM1164 253h14.5v14.6h-14.5zM1206 253h14.5v14.6h-14.5zM1150 267h14.5v14.6h-14.5zM1234 267h14.5v14.6h-14.5zM1248 281h14.5v14.6h-14.5zM1122 295h14.5v14.6h-14.5zM1248 295h14.5v14.6h-14.5zM1262 295h14.5v14.6h-14.5zM1262 309h14.5v14.6h-14.5zM1262 323h14.5v14.6h-14.5zM1122 336h14.5v14.6h-14.5zM1248 336h14.5v14.6h-14.5zM1262 336h14.5v14.6h-14.5zM1248 350h14.5v14.6h-14.5zM1262 350h14.5v14.6h-14.5zM1136 364h14.5v14.6h-14.5zM1234 364h14.5v14.6h-14.5zM1248 364h14.5v14.6h-14.5zM1150 378h14.5v14.6h-14.5zM1164 378h14.5v14.6h-14.5zM1206 378h14.5v14.6h-14.5zM1220 378h14.5v14.6h-14.5zM1234 378h14.5v14.6h-14.5zM1164 392h14.5v14.6h-14.5zM1178 392h14.5v14.6h-14.5zM1192 392h14.5v14.6h-14.5zM1206 392h14.5v14.6h-14.5zM1220 392h14.5v14.6h-14.5z"/><path fill="#99c997" d="M1164 85h14.5v14.6h-14.5zM1178 85h14.5v14.6h-14.5zM1192 85h14.5v14.6h-14.5zM1206 85h14.5v14.6h-14.5zM1220 85h14.5v14.6h-14.5zM1150 99h14.5v14.6h-14.5zM1164 99h14.5v14.6h-14.5zM1206 99h14.5v14.6h-14.5zM1220 99h14.5v14.6h-14.5zM1234 99h14.5v14.6h-14.5zM1136 113h14.5v14.6h-14.5zM1234 113h14.5v14.6h-14.5zM1248 113h14.5v14.6h-14.5zM1248 127h14.5v14.6h-14.5zM1262 127h14.5v14.6h-14.5zM1122 141h14.5v14.6h-14.5zM1248 141h14.5v14.6h-14.5zM1262 141h14.5v14.6h-14.5zM1262 155h14.5v14.6h-14.5zM1262 169h14.5v14.6h-14.5zM1248 183h14.5v14.6h-14.5zM1262 183h14.5v14.6h-14.5zM1136 197h14.5v14.6h-14.5zM1248 197h14.5v14.6h-14.5zM1150 211h14.5v14.6h-14.5zM1234 211h14.5v14.6h-14.5zM1011 253h14.5v14.6h-14.5zM1052 253h14.5v14.6h-14.5zM983 267h14.5v14.6h-14.5zM1066 267h14.5v14.6h-14.5zM969 281h14.5v14.6h-14.5zM955 295h14.5v14.6h-14.5zM969 295h14.5v14.6h-14.5zM1094 295h14.5v14.6h-14.5zM955 309h14.5v14.6h-14.5zM955 323h14.5v14.6h-14.5zM955 336h14.5v14.6h-14.5zM969 336h14.5v14.6h-14.5zM1094 336h14.5v14.6h-14.5zM955 350h14.5v14.6h-14.5zM969 350h14.5v14.6h-14.5zM969 364h14.5v14.6h-14.5zM983 364h14.5v14.6h-14.5zM1080 364h14.5v14.6h-14.5zM983 378h14.5v14.6h-14.5zM997 378h14.5v14.6h-14.5zM1011 378h14.5v14.6h-14.5zM1052 378h14.5v14.6h-14.5zM1066 378h14.5v14.6h-14.5zM997 392h14.5v14.6h-14.5zM1011 392h14.5v14.6h-14.5zM1025 392h14.5v14.6h-14.5zM1038 392h14.5v14.6h-14.5zM1052 392h14.5v14.6h-14.5z"/><path fill="#cad948" d="M1025 99h14.5v14.6h-14.5zM1038 99h14.5v14.6h-14.5zM997 113h14.5v14.6h-14.5zM1011 113h14.5v14.6h-14.5zM1025 113h14.5v14.6h-14.5zM1052 113h14.5v14.6h-14.5zM1066 113h14.5v14.6h-14.5zM983 127h14.5v14.6h-14.5zM997 127h14.5v14.6h-14.5zM1080 127h14.5v14.6h-14.5zM983 141h14.5v14.6h-14.5zM969 155h14.5v14.6h-14.5zM983 155h14.5v14.6h-14.5zM969 169h14.5v14.6h-14.5zM983 183h14.5v14.6h-14.5zM1094 183h14.5v14.6h-14.5zM983 197h14.5v14.6h-14.5zM997 211h14.5v14.6h-14.5zM1011 225h14.5v14.6h-14.5zM1052 225h14.5v14.6h-14.5zM1220 267h14.5v14.6h-14.5zM1234 281h14.5v14.6h-14.5zM1234 295h14.5v14.6h-14.5zM1248 309h14.5v14.6h-14.5zM1234 323h14.5v14.6h-14.5zM1248 323h14.5v14.6h-14.5zM1234 336h14.5v14.6h-14.5zM1136 350h14.5v14.6h-14.5zM1220 350h14.5v14.6h-14.5zM1234 350h14.5v14.6h-14.5zM1150 364h14.5v14.6h-14.5zM1164 364h14.5v14.6h-14.5zM1206 364h14.5v14.6h-14.5zM1220 364h14.5v14.6h-14.5zM1178 378h14.5v14.6h-14.5zM1192 378h14.5v14.6h-14.5z"/><path fill="#94c8a2" d="M1178 99h14.5v14.6h-14.5zM1192 99h14.5v14.6h-14.5zM1150 113h14.5v14.6h-14.5zM1164 113h14.5v14.6h-14.5zM1192 113h14.5v14.6h-14.5zM1206 113h14.5v14.6h-14.5zM1220 113h14.5v14.6h-14.5zM1136 127h14.5v14.6h-14.5zM1220 127h14.5v14.6h-14.5zM1234 127h14.5v14.6h-14.5zM1234 141h14.5v14.6h-14.5zM1234 155h14.5v14.6h-14.5zM1248 155h14.5v14.6h-14.5zM1248 169h14.5v14.6h-14.5zM1122 183h14.5v14.6h-14.5zM1234 183h14.5v14.6h-14.5zM1234 197h14.5v14.6h-14.5zM1220 211h14.5v14.6h-14.5zM1164 225h14.5v14.6h-14.5zM1206 225h14.5v14.6h-14.5zM997 267h14.5v14.6h-14.5zM983 281h14.5v14.6h-14.5zM983 295h14.5v14.6h-14.5zM969 309h14.5v14.6h-14.5zM969 323h14.5v14.6h-14.5zM983 323h14.5v14.6h-14.5zM983 336h14.5v14.6h-14.5zM983 350h14.5v14.6h-14.5zM997 350h14.5v14.6h-14.5zM1080 350h14.5v14.6h-14.5zM997 364h14.5v14.6h-14.5zM1011 364h14.5v14.6h-14.5zM1052 364h14.5v14.6h-14.5zM1066 364h14.5v14.6h-14.5zM1025 378h14.5v14.6h-14.5zM1038 378h14.5v14.6h-14.5z"/><path fill="#d2dc43" d="M1038 113h14.5v14.6h-14.5zM1011 127h14.5v14.6h-14.5zM1066 127h14.5v14.6h-14.5zM997 141h14.5v14.6h-14.5zM1094 155h14.5v14.6h-14.5zM983 169h14.5v14.6h-14.5zM997 197h14.5v14.6h-14.5zM1025 225h14.5v14.6h-14.5zM1178 253h14.5v14.6h-14.5zM1192 253h14.5v14.6h-14.5zM1220 281h14.5v14.6h-14.5zM1234 309h14.5v14.6h-14.5zM1122 323h14.5v14.6h-14.5zM1220 336h14.5v14.6h-14.5zM1150 350h14.5v14.6h-14.5zM1206 350h14.5v14.6h-14.5zM1178 364h14.5v14.6h-14.5zM1192 364h14.5v14.6h-14.5z"/><path fill="#92cab3" d="M1178 113h14.5v14.6h-14.5zM1150 127h14.5v14.6h-14.5zM1206 127h14.5v14.6h-14.5zM1220 141h14.5v14.6h-14.5zM1122 155h14.5v14.6h-14.5zM1234 169h14.5v14.6h-14.5zM1220 197h14.5v14.6h-14.5zM1192 225h14.5v14.6h-14.5zM1025 253h14.5v14.6h-14.5zM1038 253h14.5v14.6h-14.5zM997 281h14.5v14.6h-14.5zM983 309h14.5v14.6h-14.5zM1094 323h14.5v14.6h-14.5zM997 336h14.5v14.6h-14.5zM1011 350h14.5v14.6h-14.5zM1066 350h14.5v14.6h-14.5zM1025 364h14.5v14.6h-14.5zM1038 364h14.5v14.6h-14.5z"/><path fill="#dbe13f" d="M1025 127h14.5v14.6h-14.5zM1038 127h14.5v14.6h-14.5zM1052 127h14.5v14.6h-14.5zM1011 141h14.5v14.6h-14.5zM1080 141h14.5v14.6h-14.5zM997 155h14.5v14.6h-14.5zM997 169h14.5v14.6h-14.5zM1094 169h14.5v14.6h-14.5zM997 183h14.5v14.6h-14.5zM1011 211h14.5v14.6h-14.5zM1038 225h14.5v14.6h-14.5zM1206 267h14.5v14.6h-14.5zM1220 295h14.5v14.6h-14.5zM1122 309h14.5v14.6h-14.5zM1220 309h14.5v14.6h-14.5zM1220 323h14.5v14.6h-14.5zM1136 336h14.5v14.6h-14.5zM1206 336h14.5v14.6h-14.5zM1164 350h14.5v14.6h-14.5zM1178 350h14.5v14.6h-14.5zM1192 350h14.5v14.6h-14.5z"/><path fill="#91cbc1" d="M1164 127h14.5v14.6h-14.5zM1178 127h14.5v14.6h-14.5zM1192 127h14.5v14.6h-14.5zM1136 141h14.5v14.6h-14.5zM1206 141h14.5v14.6h-14.5zM1220 155h14.5v14.6h-14.5zM1122 169h14.5v14.6h-14.5zM1220 169h14.5v14.6h-14.5zM1220 183h14.5v14.6h-14.5zM1206 211h14.5v14.6h-14.5zM1178 225h14.5v14.6h-14.5zM1011 267h14.5v14.6h-14.5zM997 295h14.5v14.6h-14.5zM997 309h14.5v14.6h-14.5zM1094 309h14.5v14.6h-14.5zM997 323h14.5v14.6h-14.5zM1011 336h14.5v14.6h-14.5zM1080 336h14.5v14.6h-14.5zM1025 350h14.5v14.6h-14.5zM1038 350h14.5v14.6h-14.5zM1052 350h14.5v14.6h-14.5z"/><path fill="#e4e53c" d="M1025 141h14.5v14.6h-14.5zM1066 141h14.5v14.6h-14.5zM1011 155h14.5v14.6h-14.5zM1206 281h14.5v14.6h-14.5zM1206 323h14.5v14.6h-14.5zM1192 336h14.5v14.6h-14.5z"/><path fill="#edea3c" d="M1038 141h14.5v14.6h-14.5zM1052 141h14.5v14.6h-14.5zM1025 155h14.5v14.6h-14.5zM1011 169h14.5v14.6h-14.5zM1011 183h14.5v14.6h-14.5zM1080 183h14.5v14.6h-14.5zM1011 197h14.5v14.6h-14.5zM1052 211h14.5v14.6h-14.5zM1164 267h14.5v14.6h-14.5zM1150 281h14.5v14.6h-14.5zM1136 295h14.5v14.6h-14.5zM1206 295h14.5v14.6h-14.5zM1206 309h14.5v14.6h-14.5zM1192 323h14.5v14.6h-14.5zM1150 336h14.5v14.6h-14.5zM1164 336h14.5v14.6h-14.5zM1178 336h14.5v14.6h-14.5z"/><path fill="#90cccf" d="M1150 141h14.5v14.6h-14.5zM1192 141h14.5v14.6h-14.5zM1206 155h14.5v14.6h-14.5zM1011 281h14.5v14.6h-14.5zM1011 323h14.5v14.6h-14.5zM1025 336h14.5v14.6h-14.5z"/><path fill="#8fcbd8" d="M1164 141h14.5v14.6h-14.5zM1178 141h14.5v14.6h-14.5zM1192 155h14.5v14.6h-14.5zM1206 169h14.5v14.6h-14.5zM1136 183h14.5v14.6h-14.5zM1206 183h14.5v14.6h-14.5zM1206 197h14.5v14.6h-14.5zM1164 211h14.5v14.6h-14.5zM1052 267h14.5v14.6h-14.5zM1066 281h14.5v14.6h-14.5zM1011 295h14.5v14.6h-14.5zM1080 295h14.5v14.6h-14.5zM1011 309h14.5v14.6h-14.5zM1025 323h14.5v14.6h-14.5zM1038 336h14.5v14.6h-14.5zM1052 336h14.5v14.6h-14.5zM1066 336h14.5v14.6h-14.5z"/><path fill="#f7e337" d="M1038 155h14.5v14.6h-14.5zM1025 169h14.5v14.6h-14.5zM1192 309h14.5v14.6h-14.5zM1178 323h14.5v14.6h-14.5z"/><path fill="#f3d233" d="M1052 155h14.5v14.6h-14.5zM1066 155h14.5v14.6h-14.5zM1080 169h14.5v14.6h-14.5zM1025 183h14.5v14.6h-14.5zM1025 197h14.5v14.6h-14.5zM1038 211h14.5v14.6h-14.5zM1178 267h14.5v14.6h-14.5zM1192 281h14.5v14.6h-14.5zM1192 295h14.5v14.6h-14.5zM1136 309h14.5v14.6h-14.5zM1150 323h14.5v14.6h-14.5zM1164 323h14.5v14.6h-14.5z"/><path fill="#f5ee3c" d="M1080 155h14.5v14.6h-14.5zM1066 197h14.5v14.6h-14.5zM1025 211h14.5v14.6h-14.5zM1192 267h14.5v14.6h-14.5zM1136 323h14.5v14.6h-14.5z"/><path fill="#8acadf" d="M1136 155h14.5v14.6h-14.5zM1150 197h14.5v14.6h-14.5zM1192 211h14.5v14.6h-14.5zM1025 267h14.5v14.6h-14.5zM1080 323h14.5v14.6h-14.5z"/><path fill="#77c4ec" d="M1150 155h14.5v14.6h-14.5zM1164 155h14.5v14.6h-14.5zM1136 169h14.5v14.6h-14.5zM1192 183h14.5v14.6h-14.5zM1192 197h14.5v14.6h-14.5zM1178 211h14.5v14.6h-14.5zM1038 267h14.5v14.6h-14.5zM1025 281h14.5v14.6h-14.5zM1025 295h14.5v14.6h-14.5zM1080 309h14.5v14.6h-14.5zM1052 323h14.5v14.6h-14.5zM1066 323h14.5v14.6h-14.5z"/><path fill="#81c8e7" d="M1178 155h14.5v14.6h-14.5zM1192 169h14.5v14.6h-14.5zM1025 309h14.5v14.6h-14.5zM1038 323h14.5v14.6h-14.5z"/><path fill="#eec230" d="M1038 169h14.5v14.6h-14.5zM1178 309h14.5v14.6h-14.5z"/><path fill="#e5a52e" d="M1052 169h14.5v14.6h-14.5zM1066 169h14.5v14.6h-14.5zM1038 183h14.5v14.6h-14.5zM1066 183h14.5v14.6h-14.5zM1038 197h14.5v14.6h-14.5zM1052 197h14.5v14.6h-14.5zM1178 281h14.5v14.6h-14.5zM1178 295h14.5v14.6h-14.5zM1150 309h14.5v14.6h-14.5zM1164 309h14.5v14.6h-14.5z"/><path fill="#669dd4" d="M1150 169h14.5v14.6h-14.5zM1164 169h14.5v14.6h-14.5zM1150 183h14.5v14.6h-14.5zM1178 183h14.5v14.6h-14.5zM1164 197h14.5v14.6h-14.5zM1178 197h14.5v14.6h-14.5zM1038 281h14.5v14.6h-14.5zM1038 295h14.5v14.6h-14.5zM1052 309h14.5v14.6h-14.5zM1066 309h14.5v14.6h-14.5z"/><path fill="#6fbbea" d="M1178 169h14.5v14.6h-14.5zM1038 309h14.5v14.6h-14.5z"/><path fill="#df8e2d" d="M1052 183h14.5v14.6h-14.5zM1164 295h14.5v14.6h-14.5z"/><path fill="#5d87c3" d="M1164 183h14.5v14.6h-14.5zM1052 295h14.5v14.6h-14.5z"/><path fill="#6aa8dd" d="M1052 281h14.5v14.6h-14.5zM1066 295h14.5v14.6h-14.5z"/><path fill="#e9b22e" d="M1164 281h14.5v14.6h-14.5zM1150 295h14.5v14.6h-14.5z"/></g></g>
<g clip-path="url(#fbc3)"><g filter="url(#fbl)"><path fill="#a8cb74" d="M131 428h14.6v14.5h-14.6zM145 428h14.6v14.5h-14.6zM159 428h14.6v14.5h-14.6zM173 428h14.6v14.5h-14.6zM187 428h14.6v14.5h-14.6zM467 428h14.6v14.5h-14.6zM481 428h14.6v14.5h-14.6zM495 428h14.6v14.5h-14.6zM509 428h14.6v14.5h-14.6zM523 428h14.6v14.5h-14.6zM131 442h14.6v14.5h-14.6zM145 442h14.6v14.5h-14.6zM159 442h14.6v14.5h-14.6zM173 442h14.6v14.5h-14.6zM187 442h14.6v14.5h-14.6zM467 442h14.6v14.5h-14.6zM481 442h14.6v14.5h-14.6zM495 442h14.6v14.5h-14.6zM509 442h14.6v14.5h-14.6zM523 442h14.6v14.5h-14.6zM131 456h14.6v14.5h-14.6zM145 456h14.6v14.5h-14.6zM159 456h14.6v14.5h-14.6zM173 456h14.6v14.5h-14.6zM187 456h14.6v14.5h-14.6zM467 456h14.6v14.5h-14.6zM481 456h14.6v14.5h-14.6zM495 456h14.6v14.5h-14.6zM509 456h14.6v14.5h-14.6zM523 456h14.6v14.5h-14.6zM131 470h14.6v14.5h-14.6zM145 470h14.6v14.5h-14.6zM159 470h14.6v14.5h-14.6zM173 470h14.6v14.5h-14.6zM187 470h14.6v14.5h-14.6zM467 470h14.6v14.5h-14.6zM481 470h14.6v14.5h-14.6zM495 470h14.6v14.5h-14.6zM509 470h14.6v14.5h-14.6zM523 470h14.6v14.5h-14.6zM131 484h14.6v14.5h-14.6zM145 484h14.6v14.5h-14.6zM159 484h14.6v14.5h-14.6zM173 484h14.6v14.5h-14.6zM187 484h14.6v14.5h-14.6zM201 484h14.6v14.5h-14.6zM453 484h14.6v14.5h-14.6zM467 484h14.6v14.5h-14.6zM481 484h14.6v14.5h-14.6zM495 484h14.6v14.5h-14.6zM509 484h14.6v14.5h-14.6zM523 484h14.6v14.5h-14.6zM173 498h14.6v14.5h-14.6zM187 498h14.6v14.5h-14.6zM201 498h14.6v14.5h-14.6zM215 498h14.6v14.5h-14.6zM439 498h14.6v14.5h-14.6zM453 498h14.6v14.5h-14.6zM467 498h14.6v14.5h-14.6zM481 498h14.6v14.5h-14.6zM201 512h14.6v14.5h-14.6zM215 512h14.6v14.5h-14.6zM439 512h14.6v14.5h-14.6zM453 512h14.6v14.5h-14.6zM229 526h14.6v14.5h-14.6zM425 526h14.6v14.5h-14.6zM243 540h14.6v14.5h-14.6zM411 540h14.6v14.5h-14.6zM257 554h14.6v14.5h-14.6zM397 554h14.6v14.5h-14.6zM271 567h14.6v14.5h-14.6zM383 567h14.6v14.5h-14.6zM271 679h14.6v14.5h-14.6zM383 679h14.6v14.5h-14.6zM257 693h14.6v14.5h-14.6zM397 693h14.6v14.5h-14.6zM243 707h14.6v14.5h-14.6zM411 707h14.6v14.5h-14.6zM229 721h14.6v14.5h-14.6zM425 721h14.6v14.5h-14.6zM201 735h14.6v14.5h-14.6zM215 735h14.6v14.5h-14.6zM439 735h14.6v14.5h-14.6zM453 735h14.6v14.5h-14.6zM187 749h14.6v14.5h-14.6zM201 749h14.6v14.5h-14.6zM215 749h14.6v14.5h-14.6zM439 749h14.6v14.5h-14.6zM453 749h14.6v14.5h-14.6zM467 749h14.6v14.5h-14.6zM131 763h14.6v14.5h-14.6zM145 763h14.6v14.5h-14.6zM159 763h14.6v14.5h-14.6zM173 763h14.6v14.5h-14.6zM187 763h14.6v14.5h-14.6zM201 763h14.6v14.5h-14.6zM453 763h14.6v14.5h-14.6zM467 763h14.6v14.5h-14.6zM481 763h14.6v14.5h-14.6zM495 763h14.6v14.5h-14.6zM509 763h14.6v14.5h-14.6zM523 763h14.6v14.5h-14.6zM131 777h14.6v14.5h-14.6zM145 777h14.6v14.5h-14.6zM159 777h14.6v14.5h-14.6zM173 777h14.6v14.5h-14.6zM187 777h14.6v14.5h-14.6zM201 777h14.6v14.5h-14.6zM453 777h14.6v14.5h-14.6zM467 777h14.6v14.5h-14.6zM481 777h14.6v14.5h-14.6zM495 777h14.6v14.5h-14.6zM509 777h14.6v14.5h-14.6zM523 777h14.6v14.5h-14.6zM131 791h14.6v14.5h-14.6zM145 791h14.6v14.5h-14.6zM159 791h14.6v14.5h-14.6zM173 791h14.6v14.5h-14.6zM187 791h14.6v14.5h-14.6zM467 791h14.6v14.5h-14.6zM481 791h14.6v14.5h-14.6zM495 791h14.6v14.5h-14.6zM509 791h14.6v14.5h-14.6zM523 791h14.6v14.5h-14.6zM131 804h14.6v14.5h-14.6zM145 804h14.6v14.5h-14.6zM159 804h14.6v14.5h-14.6zM173 804h14.6v14.5h-14.6zM187 804h14.6v14.5h-14.6zM467 804h14.6v14.5h-14.6zM481 804h14.6v14.5h-14.6zM495 804h14.6v14.5h-14.6zM509 804h14.6v14.5h-14.6zM523 804h14.6v14.5h-14.6zM131 818h14.6v14.5h-14.6zM145 818h14.6v14.5h-14.6zM159 818h14.6v14.5h-14.6zM173 818h14.6v14.5h-14.6zM187 818h14.6v14.5h-14.6zM467 818h14.6v14.5h-14.6zM481 818h14.6v14.5h-14.6zM495 818h14.6v14.5h-14.6zM509 818h14.6v14.5h-14.6zM523 818h14.6v14.5h-14.6z"/><path fill="#afce66" d="M201 428h14.6v14.5h-14.6zM215 428h14.6v14.5h-14.6zM229 428h14.6v14.5h-14.6zM425 428h14.6v14.5h-14.6zM439 428h14.6v14.5h-14.6zM453 428h14.6v14.5h-14.6zM201 442h14.6v14.5h-14.6zM215 442h14.6v14.5h-14.6zM229 442h14.6v14.5h-14.6zM425 442h14.6v14.5h-14.6zM439 442h14.6v14.5h-14.6zM453 442h14.6v14.5h-14.6zM201 456h14.6v14.5h-14.6zM215 456h14.6v14.5h-14.6zM229 456h14.6v14.5h-14.6zM425 456h14.6v14.5h-14.6zM439 456h14.6v14.5h-14.6zM453 456h14.6v14.5h-14.6zM201 470h14.6v14.5h-14.6zM215 470h14.6v14.5h-14.6zM229 470h14.6v14.5h-14.6zM425 470h14.6v14.5h-14.6zM439 470h14.6v14.5h-14.6zM453 470h14.6v14.5h-14.6zM215 484h14.6v14.5h-14.6zM229 484h14.6v14.5h-14.6zM425 484h14.6v14.5h-14.6zM439 484h14.6v14.5h-14.6zM229 498h14.6v14.5h-14.6zM425 498h14.6v14.5h-14.6zM229 512h14.6v14.5h-14.6zM243 512h14.6v14.5h-14.6zM411 512h14.6v14.5h-14.6zM425 512h14.6v14.5h-14.6zM243 526h14.6v14.5h-14.6zM411 526h14.6v14.5h-14.6zM257 707h14.6v14.5h-14.6zM397 707h14.6v14.5h-14.6zM243 721h14.6v14.5h-14.6zM411 721h14.6v14.5h-14.6zM229 735h14.6v14.5h-14.6zM243 735h14.6v14.5h-14.6zM411 735h14.6v14.5h-14.6zM425 735h14.6v14.5h-14.6zM229 749h14.6v14.5h-14.6zM425 749h14.6v14.5h-14.6zM215 763h14.6v14.5h-14.6zM229 763h14.6v14.5h-14.6zM425 763h14.6v14.5h-14.6zM439 763h14.6v14.5h-14.6zM215 777h14.6v14.5h-14.6zM229 777h14.6v14.5h-14.6zM425 777h14.6v14.5h-14.6zM439 777h14.6v14.5h-14.6zM201 791h14.6v14.5h-14.6zM215 791h14.6v14.5h-14.6zM229 791h14.6v14.5h-14.6zM425 791h14.6v14.5h-14.6zM439 791h14.6v14.5h-14.6zM453 791h14.6v14.5h-14.6zM201 804h14.6v14.5h-14.6zM215 804h14.6v14.5h-14.6zM229 804h14.6v14.5h-14.6zM425 804h14.6v14.5h-14.6zM439 804h14.6v14.5h-14.6zM453 804h14.6v14.5h-14.6zM201 818h14.6v14.5h-14.6zM215 818h14.6v14.5h-14.6zM229 818h14.6v14.5h-14.6zM425 818h14.6v14.5h-14.6zM439 818h14.6v14.5h-14.6zM453 818h14.6v14.5h-14.6z"/><path fill="#b7d059" d="M243 428h14.6v14.5h-14.6zM257 428h14.6v14.5h-14.6zM271 428h14.6v14.5h-14.6zM383 428h14.6v14.5h-14.6zM397 428h14.6v14.5h-14.6zM411 428h14.6v14.5h-14.6zM243 442h14.6v14.5h-14.6zM257 442h14.6v14.5h-14.6zM271 442h14.6v14.5h-14.6zM383 442h14.6v14.5h-14.6zM397 442h14.6v14.5h-14.6zM411 442h14.6v14.5h-14.6zM243 456h14.6v14.5h-14.6zM257 456h14.6v14.5h-14.6zM397 456h14.6v14.5h-14.6zM411 456h14.6v14.5h-14.6zM243 470h14.6v14.5h-14.6zM257 470h14.6v14.5h-14.6zM397 470h14.6v14.5h-14.6zM411 470h14.6v14.5h-14.6zM243 484h14.6v14.5h-14.6zM257 484h14.6v14.5h-14.6zM397 484h14.6v14.5h-14.6zM411 484h14.6v14.5h-14.6zM243 498h14.6v14.5h-14.6zM411 498h14.6v14.5h-14.6zM257 526h14.6v14.5h-14.6zM397 526h14.6v14.5h-14.6zM257 540h14.6v14.5h-14.6zM397 540h14.6v14.5h-14.6zM257 721h14.6v14.5h-14.6zM397 721h14.6v14.5h-14.6zM243 749h14.6v14.5h-14.6zM411 749h14.6v14.5h-14.6zM243 763h14.6v14.5h-14.6zM257 763h14.6v14.5h-14.6zM397 763h14.6v14.5h-14.6zM411 763h14.6v14.5h-14.6zM243 777h14.6v14.5h-14.6zM257 777h14.6v14.5h-14.6zM397 777h14.6v14.5h-14.6zM411 777h14.6v14.5h-14.6zM243 791h14.6v14.5h-14.6zM257 791h14.6v14.5h-14.6zM397 791h14.6v14.5h-14.6zM411 791h14.6v14.5h-14.6zM243 804h14.6v14.5h-14.6zM257 804h14.6v14.5h-14.6zM271 804h14.6v14.5h-14.6zM383 804h14.6v14.5h-14.6zM397 804h14.6v14.5h-14.6zM411 804h14.6v14.5h-14.6zM243 818h14.6v14.5h-14.6zM257 818h14.6v14.5h-14.6zM271 818h14.6v14.5h-14.6zM383 818h14.6v14.5h-14.6zM397 818h14.6v14.5h-14.6zM411 818h14.6v14.5h-14.6z"/><path fill="#c1d54e" d="M285 428h14.6v14.5h-14.6zM299 428h14.6v14.5h-14.6zM313 428h14.6v14.5h-14.6zM327 428h14.6v14.5h-14.6zM341 428h14.6v14.5h-14.6zM355 428h14.6v14.5h-14.6zM369 428h14.6v14.5h-14.6zM285 442h14.6v14.5h-14.6zM299 442h14.6v14.5h-14.6zM313 442h14.6v14.5h-14.6zM327 442h14.6v14.5h-14.6zM341 442h14.6v14.5h-14.6zM355 442h14.6v14.5h-14.6zM369 442h14.6v14.5h-14.6zM271 456h14.6v14.5h-14.6zM285 456h14.6v14.5h-14.6zM299 456h14.6v14.5h-14.6zM313 456h14.6v14.5h-14.6zM341 456h14.6v14.5h-14.6zM355 456h14.6v14.5h-14.6zM369 456h14.6v14.5h-14.6zM383 456h14.6v14.5h-14.6zM271 470h14.6v14.5h-14.6zM285 470h14.6v14.5h-14.6zM369 470h14.6v14.5h-14.6zM383 470h14.6v14.5h-14.6zM271 484h14.6v14.5h-14.6zM383 484h14.6v14.5h-14.6zM257 498h14.6v14.5h-14.6zM397 498h14.6v14.5h-14.6zM257 512h14.6v14.5h-14.6zM397 512h14.6v14.5h-14.6zM271 554h14.6v14.5h-14.6zM383 554h14.6v14.5h-14.6zM271 693h14.6v14.5h-14.6zM383 693h14.6v14.5h-14.6zM257 735h14.6v14.5h-14.6zM397 735h14.6v14.5h-14.6zM257 749h14.6v14.5h-14.6zM397 749h14.6v14.5h-14.6zM271 763h14.6v14.5h-14.6zM383 763h14.6v14.5h-14.6zM271 777h14.6v14.5h-14.6zM285 777h14.6v14.5h-14.6zM369 777h14.6v14.5h-14.6zM383 777h14.6v14.5h-14.6zM271 791h14.6v14.5h-14.6zM285 791h14.6v14.5h-14.6zM299 791h14.6v14.5h-14.6zM313 791h14.6v14.5h-14.6zM341 791h14.6v14.5h-14.6zM355 791h14.6v14.5h-14.6zM369 791h14.6v14.5h-14.6zM383 791h14.6v14.5h-14.6zM285 804h14.6v14.5h-14.6zM299 804h14.6v14.5h-14.6zM313 804h14.6v14.5h-14.6zM327 804h14.6v14.5h-14.6zM341 804h14.6v14.5h-14.6zM355 804h14.6v14.5h-14.6zM369 804h14.6v14.5h-14.6zM285 818h14.6v14.5h-14.6zM299 818h14.6v14.5h-14.6zM313 818h14.6v14.5h-14.6zM327 818h14.6v14.5h-14.6zM341 818h14.6v14.5h-14.6zM355 818h14.6v14.5h-14.6zM369 818h14.6v14.5h-14.6z"/><path fill="#cad948" d="M327 456h14.6v14.5h-14.6zM299 470h14.6v14.5h-14.6zM313 470h14.6v14.5h-14.6zM327 470h14.6v14.5h-14.6zM341 470h14.6v14.5h-14.6zM355 470h14.6v14.5h-14.6zM285 484h14.6v14.5h-14.6zM299 484h14.6v14.5h-14.6zM355 484h14.6v14.5h-14.6zM369 484h14.6v14.5h-14.6zM271 498h14.6v14.5h-14.6zM383 498h14.6v14.5h-14.6zM271 512h14.6v14.5h-14.6zM383 512h14.6v14.5h-14.6zM271 526h14.6v14.5h-14.6zM383 526h14.6v14.5h-14.6zM271 540h14.6v14.5h-14.6zM383 540h14.6v14.5h-14.6zM285 679h14.6v14.5h-14.6zM369 679h14.6v14.5h-14.6zM271 707h14.6v14.5h-14.6zM383 707h14.6v14.5h-14.6zM271 721h14.6v14.5h-14.6zM383 721h14.6v14.5h-14.6zM271 735h14.6v14.5h-14.6zM383 735h14.6v14.5h-14.6zM271 749h14.6v14.5h-14.6zM383 749h14.6v14.5h-14.6zM285 763h14.6v14.5h-14.6zM369 763h14.6v14.5h-14.6zM299 777h14.6v14.5h-14.6zM313 777h14.6v14.5h-14.6zM327 777h14.6v14.5h-14.6zM341 777h14.6v14.5h-14.6zM355 777h14.6v14.5h-14.6zM327 791h14.6v14.5h-14.6z"/><path fill="#d2dc43" d="M313 484h14.6v14.5h-14.6zM327 484h14.6v14.5h-14.6zM341 484h14.6v14.5h-14.6zM285 498h14.6v14.5h-14.6zM299 498h14.6v14.5h-14.6zM355 498h14.6v14.5h-14.6zM369 498h14.6v14.5h-14.6zM285 512h14.6v14.5h-14.6zM369 512h14.6v14.5h-14.6zM285 567h14.6v14.5h-14.6zM369 567h14.6v14.5h-14.6zM285 735h14.6v14.5h-14.6zM369 735h14.6v14.5h-14.6zM285 749h14.6v14.5h-14.6zM299 749h14.6v14.5h-14.6zM355 749h14.6v14.5h-14.6zM369 749h14.6v14.5h-14.6zM299 763h14.6v14.5h-14.6zM313 763h14.6v14.5h-14.6zM327 763h14.6v14.5h-14.6zM341 763h14.6v14.5h-14.6zM355 763h14.6v14.5h-14.6z"/><path fill="#a3ca80" d="M131 498h14.6v14.5h-14.6zM145 498h14.6v14.5h-14.6zM159 498h14.6v14.5h-14.6zM495 498h14.6v14.5h-14.6zM509 498h14.6v14.5h-14.6zM523 498h14.6v14.5h-14.6zM131 512h14.6v14.5h-14.6zM145 512h14.6v14.5h-14.6zM159 512h14.6v14.5h-14.6zM173 512h14.6v14.5h-14.6zM187 512h14.6v14.5h-14.6zM467 512h14.6v14.5h-14.6zM481 512h14.6v14.5h-14.6zM495 512h14.6v14.5h-14.6zM509 512h14.6v14.5h-14.6zM523 512h14.6v14.5h-14.6zM131 526h14.6v14.5h-14.6zM145 526h14.6v14.5h-14.6zM159 526h14.6v14.5h-14.6zM173 526h14.6v14.5h-14.6zM187 526h14.6v14.5h-14.6zM201 526h14.6v14.5h-14.6zM215 526h14.6v14.5h-14.6zM439 526h14.6v14.5h-14.6zM453 526h14.6v14.5h-14.6zM467 526h14.6v14.5h-14.6zM481 526h14.6v14.5h-14.6zM495 526h14.6v14.5h-14.6zM509 526h14.6v14.5h-14.6zM523 526h14.6v14.5h-14.6zM215 540h14.6v14.5h-14.6zM229 540h14.6v14.5h-14.6zM425 540h14.6v14.5h-14.6zM439 540h14.6v14.5h-14.6zM243 554h14.6v14.5h-14.6zM411 554h14.6v14.5h-14.6zM215 707h14.6v14.5h-14.6zM229 707h14.6v14.5h-14.6zM425 707h14.6v14.5h-14.6zM439 707h14.6v14.5h-14.6zM131 721h14.6v14.5h-14.6zM145 721h14.6v14.5h-14.6zM159 721h14.6v14.5h-14.6zM173 721h14.6v14.5h-14.6zM187 721h14.6v14.5h-14.6zM201 721h14.6v14.5h-14.6zM215 721h14.6v14.5h-14.6zM439 721h14.6v14.5h-14.6zM453 721h14.6v14.5h-14.6zM467 721h14.6v14.5h-14.6zM481 721h14.6v14.5h-14.6zM495 721h14.6v14.5h-14.6zM509 721h14.6v14.5h-14.6zM523 721h14.6v14.5h-14.6zM131 735h14.6v14.5h-14.6zM145 735h14.6v14.5h-14.6zM159 735h14.6v14.5h-14.6zM173 735h14.6v14.5h-14.6zM187 735h14.6v14.5h-14.6zM467 735h14.6v14.5h-14.6zM481 735h14.6v14.5h-14.6zM495 735h14.6v14.5h-14.6zM509 735h14.6v14.5h-14.6zM523 735h14.6v14.5h-14.6zM131 749h14.6v14.5h-14.6zM145 749h14.6v14.5h-14.6zM159 749h14.6v14.5h-14.6zM173 749h14.6v14.5h-14.6zM481 749h14.6v14.5h-14.6zM495 749h14.6v14.5h-14.6zM509 749h14.6v14.5h-14.6zM523 749h14.6v14.5h-14.6z"/><path fill="#dbe13f" d="M313 498h14.6v14.5h-14.6zM327 498h14.6v14.5h-14.6zM341 498h14.6v14.5h-14.6zM285 526h14.6v14.5h-14.6zM369 526h14.6v14.5h-14.6zM285 721h14.6v14.5h-14.6zM369 721h14.6v14.5h-14.6zM313 749h14.6v14.5h-14.6zM327 749h14.6v14.5h-14.6zM341 749h14.6v14.5h-14.6z"/><path fill="#e4e53c" d="M299 512h14.6v14.5h-14.6zM355 512h14.6v14.5h-14.6zM285 540h14.6v14.5h-14.6zM369 540h14.6v14.5h-14.6zM285 554h14.6v14.5h-14.6zM369 554h14.6v14.5h-14.6zM285 693h14.6v14.5h-14.6zM369 693h14.6v14.5h-14.6zM285 707h14.6v14.5h-14.6zM369 707h14.6v14.5h-14.6zM299 735h14.6v14.5h-14.6zM355 735h14.6v14.5h-14.6z"/><path fill="#edea3c" d="M313 512h14.6v14.5h-14.6zM327 512h14.6v14.5h-14.6zM341 512h14.6v14.5h-14.6zM299 526h14.6v14.5h-14.6zM355 526h14.6v14.5h-14.6zM299 721h14.6v14.5h-14.6zM355 721h14.6v14.5h-14.6zM313 735h14.6v14.5h-14.6zM327 735h14.6v14.5h-14.6zM341 735h14.6v14.5h-14.6z"/><path fill="#f7e337" d="M313 526h14.6v14.5h-14.6zM327 526h14.6v14.5h-14.6zM341 526h14.6v14.5h-14.6zM299 540h14.6v14.5h-14.6zM355 540h14.6v14.5h-14.6zM299 707h14.6v14.5h-14.6zM355 707h14.6v14.5h-14.6zM313 721h14.6v14.5h-14.6zM341 721h14.6v14.5h-14.6z"/><path fill="#9dc98b" d="M131 540h14.6v14.5h-14.6zM145 540h14.6v14.5h-14.6zM159 540h14.6v14.5h-14.6zM173 540h14.6v14.5h-14.6zM187 540h14.6v14.5h-14.6zM201 540h14.6v14.5h-14.6zM453 540h14.6v14.5h-14.6zM467 540h14.6v14.5h-14.6zM481 540h14.6v14.5h-14.6zM495 540h14.6v14.5h-14.6zM509 540h14.6v14.5h-14.6zM523 540h14.6v14.5h-14.6zM131 554h14.6v14.5h-14.6zM145 554h14.6v14.5h-14.6zM159 554h14.6v14.5h-14.6zM173 554h14.6v14.5h-14.6zM187 554h14.6v14.5h-14.6zM215 554h14.6v14.5h-14.6zM229 554h14.6v14.5h-14.6zM425 554h14.6v14.5h-14.6zM439 554h14.6v14.5h-14.6zM467 554h14.6v14.5h-14.6zM481 554h14.6v14.5h-14.6zM495 554h14.6v14.5h-14.6zM509 554h14.6v14.5h-14.6zM523 554h14.6v14.5h-14.6zM131 567h14.6v14.5h-14.6zM145 567h14.6v14.5h-14.6zM509 567h14.6v14.5h-14.6zM523 567h14.6v14.5h-14.6zM131 679h14.6v14.5h-14.6zM145 679h14.6v14.5h-14.6zM509 679h14.6v14.5h-14.6zM523 679h14.6v14.5h-14.6zM131 693h14.6v14.5h-14.6zM145 693h14.6v14.5h-14.6zM159 693h14.6v14.5h-14.6zM173 693h14.6v14.5h-14.6zM187 693h14.6v14.5h-14.6zM229 693h14.6v14.5h-14.6zM243 693h14.6v14.5h-14.6zM411 693h14.6v14.5h-14.6zM425 693h14.6v14.5h-14.6zM467 693h14.6v14.5h-14.6zM481 693h14.6v14.5h-14.6zM495 693h14.6v14.5h-14.6zM509 693h14.6v14.5h-14.6zM523 693h14.6v14.5h-14.6zM131 707h14.6v14.5h-14.6zM145 707h14.6v14.5h-14.6zM159 707h14.6v14.5h-14.6zM173 707h14.6v14.5h-14.6zM187 707h14.6v14.5h-14.6zM201 707h14.6v14.5h-14.6zM453 707h14.6v14.5h-14.6zM467 707h14.6v14.5h-14.6zM481 707h14.6v14.5h-14.6zM495 707h14.6v14.5h-14.6zM509 707h14.6v14.5h-14.6zM523 707h14.6v14.5h-14.6z"/><path fill="#e9b22e" d="M313 540h14.6v14.5h-14.6zM341 540h14.6v14.5h-14.6zM299 554h14.6v14.5h-14.6zM355 554h14.6v14.5h-14.6zM299 693h14.6v14.5h-14.6zM355 693h14.6v14.5h-14.6zM313 707h14.6v14.5h-14.6zM341 707h14.6v14.5h-14.6z"/><path fill="#e5a52e" d="M327 540h14.6v14.5h-14.6zM327 707h14.6v14.5h-14.6z"/><path fill="#99c997" d="M201 554h14.6v14.5h-14.6zM453 554h14.6v14.5h-14.6zM159 567h14.6v14.5h-14.6zM173 567h14.6v14.5h-14.6zM187 567h14.6v14.5h-14.6zM201 567h14.6v14.5h-14.6zM257 567h14.6v14.5h-14.6zM397 567h14.6v14.5h-14.6zM453 567h14.6v14.5h-14.6zM467 567h14.6v14.5h-14.6zM481 567h14.6v14.5h-14.6zM495 567h14.6v14.5h-14.6zM131 581h14.6v14.5h-14.6zM145 581h14.6v14.5h-14.6zM159 581h14.6v14.5h-14.6zM173 581h14.6v14.5h-14.6zM481 581h14.6v14.5h-14.6zM495 581h14.6v14.5h-14.6zM509 581h14.6v14.5h-14.6zM523 581h14.6v14.5h-14.6zM131 595h14.6v14.5h-14.6zM145 595h14.6v14.5h-14.6zM159 595h14.6v14.5h-14.6zM495 595h14.6v14.5h-14.6zM509 595h14.6v14.5h-14.6zM523 595h14.6v14.5h-14.6zM131 609h14.6v14.5h-14.6zM145 609h14.6v14.5h-14.6zM159 609h14.6v14.5h-14.6zM495 609h14.6v14.5h-14.6zM509 609h14.6v14.5h-14.6zM523 609h14.6v14.5h-14.6zM131 623h14.6v14.5h-14.6zM145 623h14.6v14.5h-14.6zM509 623h14.6v14.5h-14.6zM523 623h14.6v14.5h-14.6zM131 637h14.6v14.5h-14.6zM145 637h14.6v14.5h-14.6zM159 637h14.6v14.5h-14.6zM495 637h14.6v14.5h-14.6zM509 637h14.6v14.5h-14.6zM523 637h14.6v14.5h-14.6zM131 651h14.6v14.5h-14.6zM145 651h14.6v14.5h-14.6zM159 651h14.6v14.5h-14.6zM495 651h14.6v14.5h-14.6zM509 651h14.6v14.5h-14.6zM523 651h14.6v14.5h-14.6zM131 665h14.6v14.5h-14.6zM145 665h14.6v14.5h-14.6zM159 665h14.6v14.5h-14.6zM173 665h14.6v14.5h-14.6zM481 665h14.6v14.5h-14.6zM495 665h14.6v14.5h-14.6zM509 665h14.6v14.5h-14.6zM523 665h14.6v14.5h-14.6zM159 679h14.6v14.5h-14.6zM173 679h14.6v14.5h-14.6zM187 679h14.6v14.5h-14.6zM257 679h14.6v14.5h-14.6zM397 679h14.6v14.5h-14.6zM467 679h14.6v14.5h-14.6zM481 679h14.6v14.5h-14.6zM495 679h14.6v14.5h-14.6zM201 693h14.6v14.5h-14.6zM215 693h14.6v14.5h-14.6zM439 693h14.6v14.5h-14.6zM453 693h14.6v14.5h-14.6z"/><path fill="#d9752b" d="M313 554h14.6v14.5h-14.6zM341 554h14.6v14.5h-14.6zM313 693h14.6v14.5h-14.6zM341 693h14.6v14.5h-14.6z"/><path fill="#d2592a" d="M327 554h14.6v14.5h-14.6z"/><path fill="#94c8a2" d="M215 567h14.6v14.5h-14.6zM229 567h14.6v14.5h-14.6zM243 567h14.6v14.5h-14.6zM299 567h14.6v14.5h-14.6zM355 567h14.6v14.5h-14.6zM411 567h14.6v14.5h-14.6zM425 567h14.6v14.5h-14.6zM439 567h14.6v14.5h-14.6zM187 581h14.6v14.5h-14.6zM201 581h14.6v14.5h-14.6zM453 581h14.6v14.5h-14.6zM467 581h14.6v14.5h-14.6zM173 595h14.6v14.5h-14.6zM481 595h14.6v14.5h-14.6zM173 609h14.6v14.5h-14.6zM481 609h14.6v14.5h-14.6zM159 623h14.6v14.5h-14.6zM173 623h14.6v14.5h-14.6zM481 623h14.6v14.5h-14.6zM495 623h14.6v14.5h-14.6zM173 637h14.6v14.5h-14.6zM481 637h14.6v14.5h-14.6zM173 651h14.6v14.5h-14.6zM481 651h14.6v14.5h-14.6zM187 665h14.6v14.5h-14.6zM467 665h14.6v14.5h-14.6zM201 679h14.6v14.5h-14.6zM215 679h14.6v14.5h-14.6zM229 679h14.6v14.5h-14.6zM243 679h14.6v14.5h-14.6zM411 679h14.6v14.5h-14.6zM425 679h14.6v14.5h-14.6zM439 679h14.6v14.5h-14.6zM453 679h14.6v14.5h-14.6z"/><path fill="#577bb9" d="M313 567h14.6v14.5h-14.6zM341 567h14.6v14.5h-14.6z"/><path fill="#4756a4" d="M327 567h14.6v14.5h-14.6z"/><path fill="#92cab3" d="M215 581h14.6v14.5h-14.6zM439 581h14.6v14.5h-14.6zM187 595h14.6v14.5h-14.6zM201 595h14.6v14.5h-14.6zM453 595h14.6v14.5h-14.6zM467 595h14.6v14.5h-14.6zM187 609h14.6v14.5h-14.6zM467 609h14.6v14.5h-14.6zM187 623h14.6v14.5h-14.6zM467 623h14.6v14.5h-14.6zM187 637h14.6v14.5h-14.6zM467 637h14.6v14.5h-14.6zM187 651h14.6v14.5h-14.6zM201 651h14.6v14.5h-14.6zM453 651h14.6v14.5h-14.6zM467 651h14.6v14.5h-14.6zM201 665h14.6v14.5h-14.6zM215 665h14.6v14.5h-14.6zM439 665h14.6v14.5h-14.6zM453 665h14.6v14.5h-14.6z"/><path fill="#91cbc1" d="M229 581h14.6v14.5h-14.6zM271 581h14.6v14.5h-14.6zM383 581h14.6v14.5h-14.6zM425 581h14.6v14.5h-14.6zM201 609h14.6v14.5h-14.6zM453 609h14.6v14.5h-14.6zM201 623h14.6v14.5h-14.6zM453 623h14.6v14.5h-14.6zM201 637h14.6v14.5h-14.6zM453 637h14.6v14.5h-14.6zM229 665h14.6v14.5h-14.6zM425 665h14.6v14.5h-14.6z"/><path fill="#90cccf" d="M243 581h14.6v14.5h-14.6zM257 581h14.6v14.5h-14.6zM397 581h14.6v14.5h-14.6zM411 581h14.6v14.5h-14.6zM215 595h14.6v14.5h-14.6zM439 595h14.6v14.5h-14.6zM215 651h14.6v14.5h-14.6zM439 651h14.6v14.5h-14.6zM243 665h14.6v14.5h-14.6zM257 665h14.6v14.5h-14.6zM271 665h14.6v14.5h-14.6zM383 665h14.6v14.5h-14.6zM397 665h14.6v14.5h-14.6zM411 665h14.6v14.5h-14.6zM299 679h14.6v14.5h-14.6zM355 679h14.6v14.5h-14.6z"/><path fill="#4d64ac" d="M285 581h14.6v14.5h-14.6zM369 581h14.6v14.5h-14.6zM271 595h14.6v14.5h-14.6zM383 595h14.6v14.5h-14.6z"/><path fill="#424e9e" d="M299 581h14.6v14.5h-14.6zM313 581h14.6v14.5h-14.6zM327 581h14.6v14.5h-14.6zM341 581h14.6v14.5h-14.6zM355 581h14.6v14.5h-14.6zM285 595h14.6v14.5h-14.6zM299 595h14.6v14.5h-14.6zM313 595h14.6v14.5h-14.6zM327 595h14.6v14.5h-14.6zM341 595h14.6v14.5h-14.6zM355 595h14.6v14.5h-14.6zM369 595h14.6v14.5h-14.6zM285 609h14.6v14.5h-14.6zM299 609h14.6v14.5h-14.6zM313 609h14.6v14.5h-14.6zM327 609h14.6v14.5h-14.6zM341 609h14.6v14.5h-14.6zM355 609h14.6v14.5h-14.6zM369 609h14.6v14.5h-14.6zM285 623h14.6v14.5h-14.6zM299 623h14.6v14.5h-14.6zM313 623h14.6v14.5h-14.6zM327 623h14.6v14.5h-14.6zM341 623h14.6v14.5h-14.6zM355 623h14.6v14.5h-14.6zM369 623h14.6v14.5h-14.6zM285 637h14.6v14.5h-14.6zM299 637h14.6v14.5h-14.6zM313 637h14.6v14.5h-14.6zM327 637h14.6v14.5h-14.6zM341 637h14.6v14.5h-14.6zM355 637h14.6v14.5h-14.6zM369 637h14.6v14.5h-14.6zM285 651h14.6v14.5h-14.6zM299 651h14.6v14.5h-14.6zM313 651h14.6v14.5h-14.6zM327 651h14.6v14.5h-14.6zM341 651h14.6v14.5h-14.6zM355 651h14.6v14.5h-14.6zM369 651h14.6v14.5h-14.6zM299 665h14.6v14.5h-14.6zM313 665h14.6v14.5h-14.6zM327 665h14.6v14.5h-14.6zM341 665h14.6v14.5h-14.6zM355 665h14.6v14.5h-14.6zM327 679h14.6v14.5h-14.6z"/><path fill="#8fcbd8" d="M229 595h14.6v14.5h-14.6zM425 595h14.6v14.5h-14.6zM215 609h14.6v14.5h-14.6zM439 609h14.6v14.5h-14.6zM215 623h14.6v14.5h-14.6zM439 623h14.6v14.5h-14.6zM215 637h14.6v14.5h-14.6zM439 637h14.6v14.5h-14.6zM229 651h14.6v14.5h-14.6zM425 651h14.6v14.5h-14.6z"/><path fill="#81c8e7" d="M243 595h14.6v14.5h-14.6zM411 595h14.6v14.5h-14.6zM229 609h14.6v14.5h-14.6zM425 609h14.6v14.5h-14.6zM229 623h14.6v14.5h-14.6zM425 623h14.6v14.5h-14.6zM229 637h14.6v14.5h-14.6zM425 637h14.6v14.5h-14.6zM243 651h14.6v14.5h-14.6zM411 651h14.6v14.5h-14.6z"/><path fill="#6aa8dd" d="M257 595h14.6v14.5h-14.6zM397 595h14.6v14.5h-14.6zM243 609h14.6v14.5h-14.6zM411 609h14.6v14.5h-14.6zM243 637h14.6v14.5h-14.6zM411 637h14.6v14.5h-14.6zM257 651h14.6v14.5h-14.6zM397 651h14.6v14.5h-14.6z"/><path fill="#526fb2" d="M257 609h14.6v14.5h-14.6zM397 609h14.6v14.5h-14.6zM257 637h14.6v14.5h-14.6zM397 637h14.6v14.5h-14.6z"/><path fill="#4451a0" d="M271 609h14.6v14.5h-14.6zM383 609h14.6v14.5h-14.6zM271 623h14.6v14.5h-14.6zM383 623h14.6v14.5h-14.6zM271 637h14.6v14.5h-14.6zM383 637h14.6v14.5h-14.6z"/><path fill="#669dd4" d="M243 623h14.6v14.5h-14.6zM411 623h14.6v14.5h-14.6z"/><path fill="#4a5ca8" d="M257 623h14.6v14.5h-14.6zM397 623h14.6v14.5h-14.6zM271 651h14.6v14.5h-14.6zM383 651h14.6v14.5h-14.6zM285 665h14.6v14.5h-14.6zM369 665h14.6v14.5h-14.6zM313 679h14.6v14.5h-14.6zM341 679h14.6v14.5h-14.6z"/><path fill="#d04b2a" d="M327 693h14.6v14.5h-14.6z"/><path fill="#f3d233" d="M327 721h14.6v14.5h-14.6z"/></g></g>
<g clip-path="url(#fbc4)"><g filter="url(#fbl)"><path fill="#a8cb74" d="M522 428h14.6v14.5h-14.6zM536 428h14.6v14.5h-14.6zM550 428h14.6v14.5h-14.6zM564 428h14.6v14.5h-14.6zM578 428h14.6v14.5h-14.6zM858 428h14.6v14.5h-14.6zM872 428h14.6v14.5h-14.6zM886 428h14.6v14.5h-14.6zM900 428h14.6v14.5h-14.6zM914 428h14.6v14.5h-14.6zM522 442h14.6v14.5h-14.6zM536 442h14.6v14.5h-14.6zM550 442h14.6v14.5h-14.6zM564 442h14.6v14.5h-14.6zM578 442h14.6v14.5h-14.6zM858 442h14.6v14.5h-14.6zM872 442h14.6v14.5h-14.6zM886 442h14.6v14.5h-14.6zM900 442h14.6v14.5h-14.6zM914 442h14.6v14.5h-14.6zM522 456h14.6v14.5h-14.6zM536 456h14.6v14.5h-14.6zM550 456h14.6v14.5h-14.6zM564 456h14.6v14.5h-14.6zM578 456h14.6v14.5h-14.6zM858 456h14.6v14.5h-14.6zM872 456h14.6v14.5h-14.6zM886 456h14.6v14.5h-14.6zM900 456h14.6v14.5h-14.6zM914 456h14.6v14.5h-14.6zM522 470h14.6v14.5h-14.6zM536 470h14.6v14.5h-14.6zM550 470h14.6v14.5h-14.6zM564 470h14.6v14.5h-14.6zM578 470h14.6v14.5h-14.6zM858 470h14.6v14.5h-14.6zM872 470h14.6v14.5h-14.6zM886 470h14.6v14.5h-14.6zM900 470h14.6v14.5h-14.6zM914 470h14.6v14.5h-14.6zM522 484h14.6v14.5h-14.6zM536 484h14.6v14.5h-14.6zM550 484h14.6v14.5h-14.6zM564 484h14.6v14.5h-14.6zM578 484h14.6v14.5h-14.6zM592 484h14.6v14.5h-14.6zM844 484h14.6v14.5h-14.6zM858 484h14.6v14.5h-14.6zM872 484h14.6v14.5h-14.6zM886 484h14.6v14.5h-14.6zM900 484h14.6v14.5h-14.6zM914 484h14.6v14.5h-14.6zM564 498h14.6v14.5h-14.6zM578 498h14.6v14.5h-14.6zM592 498h14.6v14.5h-14.6zM606 498h14.6v14.5h-14.6zM830 498h14.6v14.5h-14.6zM844 498h14.6v14.5h-14.6zM858 498h14.6v14.5h-14.6zM872 498h14.6v14.5h-14.6zM592 512h14.6v14.5h-14.6zM606 512h14.6v14.5h-14.6zM830 512h14.6v14.5h-14.6zM844 512h14.6v14.5h-14.6zM620 526h14.6v14.5h-14.6zM816 526h14.6v14.5h-14.6zM634 540h14.6v14.5h-14.6zM802 540h14.6v14.5h-14.6zM648 554h14.6v14.5h-14.6zM788 554h14.6v14.5h-14.6zM662 567h14.6v14.5h-14.6zM774 567h14.6v14.5h-14.6zM662 679h14.6v14.5h-14.6zM774 679h14.6v14.5h-14.6zM648 693h14.6v14.5h-14.6zM788 693h14.6v14.5h-14.6zM634 707h14.6v14.5h-14.6zM802 707h14.6v14.5h-14.6zM620 721h14.6v14.5h-14.6zM816 721h14.6v14.5h-14.6zM592 735h14.6v14.5h-14.6zM606 735h14.6v14.5h-14.6zM830 735h14.6v14.5h-14.6zM844 735h14.6v14.5h-14.6zM578 749h14.6v14.5h-14.6zM592 749h14.6v14.5h-14.6zM606 749h14.6v14.5h-14.6zM830 749h14.6v14.5h-14.6zM844 749h14.6v14.5h-14.6zM858 749h14.6v14.5h-14.6zM522 763h14.6v14.5h-14.6zM536 763h14.6v14.5h-14.6zM550 763h14.6v14.5h-14.6zM564 763h14.6v14.5h-14.6zM578 763h14.6v14.5h-14.6zM592 763h14.6v14.5h-14.6zM844 763h14.6v14.5h-14.6zM858 763h14.6v14.5h-14.6zM872 763h14.6v14.5h-14.6zM886 763h14.6v14.5h-14.6zM900 763h14.6v14.5h-14.6zM914 763h14.6v14.5h-14.6zM522 777h14.6v14.5h-14.6zM536 777h14.6v14.5h-14.6zM550 777h14.6v14.5h-14.6zM564 777h14.6v14.5h-14.6zM578 777h14.6v14.5h-14.6zM592 777h14.6v14.5h-14.6zM844 777h14.6v14.5h-14.6zM858 777h14.6v14.5h-14.6zM872 777h14.6v14.5h-14.6zM886 777h14.6v14.5h-14.6zM900 777h14.6v14.5h-14.6zM914 777h14.6v14.5h-14.6zM522 791h14.6v14.5h-14.6zM536 791h14.6v14.5h-14.6zM550 791h14.6v14.5h-14.6zM564 791h14.6v14.5h-14.6zM578 791h14.6v14.5h-14.6zM858 791h14.6v14.5h-14.6zM872 791h14.6v14.5h-14.6zM886 791h14.6v14.5h-14.6zM900 791h14.6v14.5h-14.6zM914 791h14.6v14.5h-14.6zM522 804h14.6v14.5h-14.6zM536 804h14.6v14.5h-14.6zM550 804h14.6v14.5h-14.6zM564 804h14.6v14.5h-14.6zM578 804h14.6v14.5h-14.6zM858 804h14.6v14.5h-14.6zM872 804h14.6v14.5h-14.6zM886 804h14.6v14.5h-14.6zM900 804h14.6v14.5h-14.6zM914 804h14.6v14.5h-14.6zM522 818h14.6v14.5h-14.6zM536 818h14.6v14.5h-14.6zM550 818h14.6v14.5h-14.6zM564 818h14.6v14.5h-14.6zM578 818h14.6v14.5h-14.6zM858 818h14.6v14.5h-14.6zM872 818h14.6v14.5h-14.6zM886 818h14.6v14.5h-14.6zM900 818h14.6v14.5h-14.6zM914 818h14.6v14.5h-14.6z"/><path fill="#a3ca80" d="M592 428h14.6v14.5h-14.6zM606 428h14.6v14.5h-14.6zM620 428h14.6v14.5h-14.6zM816 428h14.6v14.5h-14.6zM830 428h14.6v14.5h-14.6zM844 428h14.6v14.5h-14.6zM592 442h14.6v14.5h-14.6zM606 442h14.6v14.5h-14.6zM620 442h14.6v14.5h-14.6zM816 442h14.6v14.5h-14.6zM830 442h14.6v14.5h-14.6zM844 442h14.6v14.5h-14.6zM592 456h14.6v14.5h-14.6zM606 456h14.6v14.5h-14.6zM620 456h14.6v14.5h-14.6zM816 456h14.6v14.5h-14.6zM830 456h14.6v14.5h-14.6zM844 456h14.6v14.5h-14.6zM592 470h14.6v14.5h-14.6zM606 470h14.6v14.5h-14.6zM620 470h14.6v14.5h-14.6zM816 470h14.6v14.5h-14.6zM830 470h14.6v14.5h-14.6zM844 470h14.6v14.5h-14.6zM606 484h14.6v14.5h-14.6zM620 484h14.6v14.5h-14.6zM816 484h14.6v14.5h-14.6zM830 484h14.6v14.5h-14.6zM620 498h14.6v14.5h-14.6zM816 498h14.6v14.5h-14.6zM620 512h14.6v14.5h-14.6zM634 512h14.6v14.5h-14.6zM802 512h14.6v14.5h-14.6zM816 512h14.6v14.5h-14.6zM634 526h14.6v14.5h-14.6zM802 526h14.6v14.5h-14.6zM648 707h14.6v14.5h-14.6zM788 707h14.6v14.5h-14.6zM634 721h14.6v14.5h-14.6zM802 721h14.6v14.5h-14.6zM620 735h14.6v14.5h-14.6zM634 735h14.6v14.5h-14.6zM802 735h14.6v14.5h-14.6zM816 735h14.6v14.5h-14.6zM620 749h14.6v14.5h-14.6zM816 749h14.6v14.5h-14.6zM606 763h14.6v14.5h-14.6zM620 763h14.6v14.5h-14.6zM816 763h14.6v14.5h-14.6zM830 763h14.6v14.5h-14.6zM606 777h14.6v14.5h-14.6zM620 777h14.6v14.5h-14.6zM816 777h14.6v14.5h-14.6zM830 777h14.6v14.5h-14.6zM592 791h14.6v14.5h-14.6zM606 791h14.6v14.5h-14.6zM620 791h14.6v14.5h-14.6zM816 791h14.6v14.5h-14.6zM830 791h14.6v14.5h-14.6zM844 791h14.6v14.5h-14.6zM592 804h14.6v14.5h-14.6zM606 804h14.6v14.5h-14.6zM620 804h14.6v14.5h-14.6zM816 804h14.6v14.5h-14.6zM830 804h14.6v14.5h-14.6zM844 804h14.6v14.5h-14.6zM592 818h14.6v14.5h-14.6zM606 818h14.6v14.5h-14.6zM620 818h14.6v14.5h-14.6zM816 818h14.6v14.5h-14.6zM830 818h14.6v14.5h-14.6zM844 818h14.6v14.5h-14.6z"/><path fill="#9dc98b" d="M634 428h14.6v14.5h-14.6zM648 428h14.6v14.5h-14.6zM662 428h14.6v14.5h-14.6zM774 428h14.6v14.5h-14.6zM788 428h14.6v14.5h-14.6zM802 428h14.6v14.5h-14.6zM634 442h14.6v14.5h-14.6zM648 442h14.6v14.5h-14.6zM662 442h14.6v14.5h-14.6zM774 442h14.6v14.5h-14.6zM788 442h14.6v14.5h-14.6zM802 442h14.6v14.5h-14.6zM634 456h14.6v14.5h-14.6zM648 456h14.6v14.5h-14.6zM788 456h14.6v14.5h-14.6zM802 456h14.6v14.5h-14.6zM634 470h14.6v14.5h-14.6zM648 470h14.6v14.5h-14.6zM788 470h14.6v14.5h-14.6zM802 470h14.6v14.5h-14.6zM634 484h14.6v14.5h-14.6zM648 484h14.6v14.5h-14.6zM788 484h14.6v14.5h-14.6zM802 484h14.6v14.5h-14.6zM634 498h14.6v14.5h-14.6zM802 498h14.6v14.5h-14.6zM648 526h14.6v14.5h-14.6zM788 526h14.6v14.5h-14.6zM648 540h14.6v14.5h-14.6zM788 540h14.6v14.5h-14.6zM648 721h14.6v14.5h-14.6zM788 721h14.6v14.5h-14.6zM634 749h14.6v14.5h-14.6zM802 749h14.6v14.5h-14.6zM634 763h14.6v14.5h-14.6zM648 763h14.6v14.5h-14.6zM788 763h14.6v14.5h-14.6zM802 763h14.6v14.5h-14.6zM634 777h14.6v14.5h-14.6zM648 777h14.6v14.5h-14.6zM788 777h14.6v14.5h-14.6zM802 777h14.6v14.5h-14.6zM634 791h14.6v14.5h-14.6zM648 791h14.6v14.5h-14.6zM788 791h14.6v14.5h-14.6zM802 791h14.6v14.5h-14.6zM634 804h14.6v14.5h-14.6zM648 804h14.6v14.5h-14.6zM662 804h14.6v14.5h-14.6zM774 804h14.6v14.5h-14.6zM788 804h14.6v14.5h-14.6zM802 804h14.6v14.5h-14.6zM634 818h14.6v14.5h-14.6zM648 818h14.6v14.5h-14.6zM662 818h14.6v14.5h-14.6zM774 818h14.6v14.5h-14.6zM788 818h14.6v14.5h-14.6zM802 818h14.6v14.5h-14.6z"/><path fill="#99c997" d="M676 428h14.6v14.5h-14.6zM690 428h14.6v14.5h-14.6zM704 428h14.6v14.5h-14.6zM718 428h14.6v14.5h-14.6zM732 428h14.6v14.5h-14.6zM746 428h14.6v14.5h-14.6zM760 428h14.6v14.5h-14.6zM676 442h14.6v14.5h-14.6zM690 442h14.6v14.5h-14.6zM704 442h14.6v14.5h-14.6zM718 442h14.6v14.5h-14.6zM732 442h14.6v14.5h-14.6zM746 442h14.6v14.5h-14.6zM760 442h14.6v14.5h-14.6zM662 456h14.6v14.5h-14.6zM676 456h14.6v14.5h-14.6zM690 456h14.6v14.5h-14.6zM704 456h14.6v14.5h-14.6zM732 456h14.6v14.5h-14.6zM746 456h14.6v14.5h-14.6zM760 456h14.6v14.5h-14.6zM774 456h14.6v14.5h-14.6zM662 470h14.6v14.5h-14.6zM676 470h14.6v14.5h-14.6zM760 470h14.6v14.5h-14.6zM774 470h14.6v14.5h-14.6zM662 484h14.6v14.5h-14.6zM774 484h14.6v14.5h-14.6zM648 498h14.6v14.5h-14.6zM788 498h14.6v14.5h-14.6zM648 512h14.6v14.5h-14.6zM788 512h14.6v14.5h-14.6zM662 554h14.6v14.5h-14.6zM774 554h14.6v14.5h-14.6zM662 693h14.6v14.5h-14.6zM774 693h14.6v14.5h-14.6zM648 735h14.6v14.5h-14.6zM788 735h14.6v14.5h-14.6zM648 749h14.6v14.5h-14.6zM788 749h14.6v14.5h-14.6zM662 763h14.6v14.5h-14.6zM774 763h14.6v14.5h-14.6zM662 777h14.6v14.5h-14.6zM676 777h14.6v14.5h-14.6zM760 777h14.6v14.5h-14.6zM774 777h14.6v14.5h-14.6zM662 791h14.6v14.5h-14.6zM676 791h14.6v14.5h-14.6zM690 791h14.6v14.5h-14.6zM704 791h14.6v14.5h-14.6zM732 791h14.6v14.5h-14.6zM746 791h14.6v14.5h-14.6zM760 791h14.6v14.5h-14.6zM774 791h14.6v14.5h-14.6zM676 804h14.6v14.5h-14.6zM690 804h14.6v14.5h-14.6zM704 804h14.6v14.5h-14.6zM718 804h14.6v14.5h-14.6zM732 804h14.6v14.5h-14.6zM746 804h14.6v14.5h-14.6zM760 804h14.6v14.5h-14.6zM676 818h14.6v14.5h-14.6zM690 818h14.6v14.5h-14.6zM704 818h14.6v14.5h-14.6zM718 818h14.6v14.5h-14.6zM732 818h14.6v14.5h-14.6zM746 818h14.6v14.5h-14.6zM760 818h14.6v14.5h-14.6z"/><path fill="#94c8a2" d="M718 456h14.6v14.5h-14.6zM690 470h14.6v14.5h-14.6zM704 470h14.6v14.5h-14.6zM718 470h14.6v14.5h-14.6zM732 470h14.6v14.5h-14.6zM746 470h14.6v14.5h-14.6zM676 484h14.6v14.5h-14.6zM690 484h14.6v14.5h-14.6zM746 484h14.6v14.5h-14.6zM760 484h14.6v14.5h-14.6zM662 498h14.6v14.5h-14.6zM774 498h14.6v14.5h-14.6zM662 512h14.6v14.5h-14.6zM774 512h14.6v14.5h-14.6zM662 526h14.6v14.5h-14.6zM774 526h14.6v14.5h-14.6zM662 540h14.6v14.5h-14.6zM774 540h14.6v14.5h-14.6zM662 707h14.6v14.5h-14.6zM774 707h14.6v14.5h-14.6zM662 721h14.6v14.5h-14.6zM774 721h14.6v14.5h-14.6zM662 735h14.6v14.5h-14.6zM774 735h14.6v14.5h-14.6zM662 749h14.6v14.5h-14.6zM774 749h14.6v14.5h-14.6zM676 763h14.6v14.5h-14.6zM760 763h14.6v14.5h-14.6zM690 777h14.6v14.5h-14.6zM704 777h14.6v14.5h-14.6zM718 777h14.6v14.5h-14.6zM732 777h14.6v14.5h-14.6zM746 777h14.6v14.5h-14.6zM718 791h14.6v14.5h-14.6z"/><path fill="#92cab3" d="M704 484h14.6v14.5h-14.6zM718 484h14.6v14.5h-14.6zM732 484h14.6v14.5h-14.6zM676 498h14.6v14.5h-14.6zM690 498h14.6v14.5h-14.6zM746 498h14.6v14.5h-14.6zM760 498h14.6v14.5h-14.6zM676 512h14.6v14.5h-14.6zM760 512h14.6v14.5h-14.6zM662 595h14.6v14.5h-14.6zM774 595h14.6v14.5h-14.6zM676 735h14.6v14.5h-14.6zM760 735h14.6v14.5h-14.6zM676 749h14.6v14.5h-14.6zM690 749h14.6v14.5h-14.6zM746 749h14.6v14.5h-14.6zM760 749h14.6v14.5h-14.6zM690 763h14.6v14.5h-14.6zM704 763h14.6v14.5h-14.6zM718 763h14.6v14.5h-14.6zM732 763h14.6v14.5h-14.6zM746 763h14.6v14.5h-14.6z"/><path fill="#afce66" d="M522 498h14.6v14.5h-14.6zM536 498h14.6v14.5h-14.6zM550 498h14.6v14.5h-14.6zM886 498h14.6v14.5h-14.6zM900 498h14.6v14.5h-14.6zM914 498h14.6v14.5h-14.6zM522 512h14.6v14.5h-14.6zM536 512h14.6v14.5h-14.6zM550 512h14.6v14.5h-14.6zM564 512h14.6v14.5h-14.6zM578 512h14.6v14.5h-14.6zM858 512h14.6v14.5h-14.6zM872 512h14.6v14.5h-14.6zM886 512h14.6v14.5h-14.6zM900 512h14.6v14.5h-14.6zM914 512h14.6v14.5h-14.6zM522 526h14.6v14.5h-14.6zM536 526h14.6v14.5h-14.6zM550 526h14.6v14.5h-14.6zM564 526h14.6v14.5h-14.6zM578 526h14.6v14.5h-14.6zM592 526h14.6v14.5h-14.6zM606 526h14.6v14.5h-14.6zM830 526h14.6v14.5h-14.6zM844 526h14.6v14.5h-14.6zM858 526h14.6v14.5h-14.6zM872 526h14.6v14.5h-14.6zM886 526h14.6v14.5h-14.6zM900 526h14.6v14.5h-14.6zM914 526h14.6v14.5h-14.6zM606 540h14.6v14.5h-14.6zM620 540h14.6v14.5h-14.6zM816 540h14.6v14.5h-14.6zM830 540h14.6v14.5h-14.6zM634 554h14.6v14.5h-14.6zM802 554h14.6v14.5h-14.6zM606 707h14.6v14.5h-14.6zM620 707h14.6v14.5h-14.6zM816 707h14.6v14.5h-14.6zM830 707h14.6v14.5h-14.6zM522 721h14.6v14.5h-14.6zM536 721h14.6v14.5h-14.6zM550 721h14.6v14.5h-14.6zM564 721h14.6v14.5h-14.6zM578 721h14.6v14.5h-14.6zM592 721h14.6v14.5h-14.6zM606 721h14.6v14.5h-14.6zM830 721h14.6v14.5h-14.6zM844 721h14.6v14.5h-14.6zM858 721h14.6v14.5h-14.6zM872 721h14.6v14.5h-14.6zM886 721h14.6v14.5h-14.6zM900 721h14.6v14.5h-14.6zM914 721h14.6v14.5h-14.6zM522 735h14.6v14.5h-14.6zM536 735h14.6v14.5h-14.6zM550 735h14.6v14.5h-14.6zM564 735h14.6v14.5h-14.6zM578 735h14.6v14.5h-14.6zM858 735h14.6v14.5h-14.6zM872 735h14.6v14.5h-14.6zM886 735h14.6v14.5h-14.6zM900 735h14.6v14.5h-14.6zM914 735h14.6v14.5h-14.6zM522 749h14.6v14.5h-14.6zM536 749h14.6v14.5h-14.6zM550 749h14.6v14.5h-14.6zM564 749h14.6v14.5h-14.6zM872 749h14.6v14.5h-14.6zM886 749h14.6v14.5h-14.6zM900 749h14.6v14.5h-14.6zM914 749h14.6v14.5h-14.6z"/><path fill="#91cbc1" d="M704 498h14.6v14.5h-14.6zM718 498h14.6v14.5h-14.6zM732 498h14.6v14.5h-14.6zM676 526h14.6v14.5h-14.6zM760 526h14.6v14.5h-14.6zM676 567h14.6v14.5h-14.6zM760 567h14.6v14.5h-14.6zM662 651h14.6v14.5h-14.6zM774 651h14.6v14.5h-14.6zM676 679h14.6v14.5h-14.6zM760 679h14.6v14.5h-14.6zM676 721h14.6v14.5h-14.6zM760 721h14.6v14.5h-14.6zM704 749h14.6v14.5h-14.6zM718 749h14.6v14.5h-14.6zM732 749h14.6v14.5h-14.6z"/><path fill="#90cccf" d="M690 512h14.6v14.5h-14.6zM746 512h14.6v14.5h-14.6zM676 540h14.6v14.5h-14.6zM760 540h14.6v14.5h-14.6zM676 554h14.6v14.5h-14.6zM760 554h14.6v14.5h-14.6zM676 693h14.6v14.5h-14.6zM760 693h14.6v14.5h-14.6zM676 707h14.6v14.5h-14.6zM760 707h14.6v14.5h-14.6zM690 735h14.6v14.5h-14.6zM746 735h14.6v14.5h-14.6z"/><path fill="#8fcbd8" d="M704 512h14.6v14.5h-14.6zM718 512h14.6v14.5h-14.6zM732 512h14.6v14.5h-14.6zM690 526h14.6v14.5h-14.6zM746 526h14.6v14.5h-14.6zM690 721h14.6v14.5h-14.6zM746 721h14.6v14.5h-14.6zM704 735h14.6v14.5h-14.6zM718 735h14.6v14.5h-14.6zM732 735h14.6v14.5h-14.6z"/><path fill="#81c8e7" d="M704 526h14.6v14.5h-14.6zM718 526h14.6v14.5h-14.6zM732 526h14.6v14.5h-14.6zM690 540h14.6v14.5h-14.6zM746 540h14.6v14.5h-14.6zM690 707h14.6v14.5h-14.6zM746 707h14.6v14.5h-14.6zM704 721h14.6v14.5h-14.6zM732 721h14.6v14.5h-14.6z"/><path fill="#b7d059" d="M522 540h14.6v14.5h-14.6zM536 540h14.6v14.5h-14.6zM550 540h14.6v14.5h-14.6zM564 540h14.6v14.5h-14.6zM578 540h14.6v14.5h-14.6zM592 540h14.6v14.5h-14.6zM844 540h14.6v14.5h-14.6zM858 540h14.6v14.5h-14.6zM872 540h14.6v14.5h-14.6zM886 540h14.6v14.5h-14.6zM900 540h14.6v14.5h-14.6zM914 540h14.6v14.5h-14.6zM522 554h14.6v14.5h-14.6zM536 554h14.6v14.5h-14.6zM550 554h14.6v14.5h-14.6zM564 554h14.6v14.5h-14.6zM578 554h14.6v14.5h-14.6zM606 554h14.6v14.5h-14.6zM620 554h14.6v14.5h-14.6zM816 554h14.6v14.5h-14.6zM830 554h14.6v14.5h-14.6zM858 554h14.6v14.5h-14.6zM872 554h14.6v14.5h-14.6zM886 554h14.6v14.5h-14.6zM900 554h14.6v14.5h-14.6zM914 554h14.6v14.5h-14.6zM522 567h14.6v14.5h-14.6zM536 567h14.6v14.5h-14.6zM900 567h14.6v14.5h-14.6zM914 567h14.6v14.5h-14.6zM522 679h14.6v14.5h-14.6zM536 679h14.6v14.5h-14.6zM900 679h14.6v14.5h-14.6zM914 679h14.6v14.5h-14.6zM522 693h14.6v14.5h-14.6zM536 693h14.6v14.5h-14.6zM550 693h14.6v14.5h-14.6zM564 693h14.6v14.5h-14.6zM578 693h14.6v14.5h-14.6zM620 693h14.6v14.5h-14.6zM634 693h14.6v14.5h-14.6zM802 693h14.6v14.5h-14.6zM816 693h14.6v14.5h-14.6zM858 693h14.6v14.5h-14.6zM872 693h14.6v14.5h-14.6zM886 693h14.6v14.5h-14.6zM900 693h14.6v14.5h-14.6zM914 693h14.6v14.5h-14.6zM522 707h14.6v14.5h-14.6zM536 707h14.6v14.5h-14.6zM550 707h14.6v14.5h-14.6zM564 707h14.6v14.5h-14.6zM578 707h14.6v14.5h-14.6zM592 707h14.6v14.5h-14.6zM844 707h14.6v14.5h-14.6zM858 707h14.6v14.5h-14.6zM872 707h14.6v14.5h-14.6zM886 707h14.6v14.5h-14.6zM900 707h14.6v14.5h-14.6zM914 707h14.6v14.5h-14.6z"/><path fill="#6aa8dd" d="M704 540h14.6v14.5h-14.6zM732 540h14.6v14.5h-14.6zM690 554h14.6v14.5h-14.6zM746 554h14.6v14.5h-14.6zM690 693h14.6v14.5h-14.6zM746 693h14.6v14.5h-14.6zM704 707h14.6v14.5h-14.6zM732 707h14.6v14.5h-14.6z"/><path fill="#669dd4" d="M718 540h14.6v14.5h-14.6zM718 707h14.6v14.5h-14.6z"/><path fill="#c1d54e" d="M592 554h14.6v14.5h-14.6zM844 554h14.6v14.5h-14.6zM550 567h14.6v14.5h-14.6zM564 567h14.6v14.5h-14.6zM578 567h14.6v14.5h-14.6zM592 567h14.6v14.5h-14.6zM648 567h14.6v14.5h-14.6zM788 567h14.6v14.5h-14.6zM844 567h14.6v14.5h-14.6zM858 567h14.6v14.5h-14.6zM872 567h14.6v14.5h-14.6zM886 567h14.6v14.5h-14.6zM522 581h14.6v14.5h-14.6zM536 581h14.6v14.5h-14.6zM550 581h14.6v14.5h-14.6zM564 581h14.6v14.5h-14.6zM872 581h14.6v14.5h-14.6zM886 581h14.6v14.5h-14.6zM900 581h14.6v14.5h-14.6zM914 581h14.6v14.5h-14.6zM522 595h14.6v14.5h-14.6zM536 595h14.6v14.5h-14.6zM550 595h14.6v14.5h-14.6zM886 595h14.6v14.5h-14.6zM900 595h14.6v14.5h-14.6zM914 595h14.6v14.5h-14.6zM522 609h14.6v14.5h-14.6zM536 609h14.6v14.5h-14.6zM550 609h14.6v14.5h-14.6zM886 609h14.6v14.5h-14.6zM900 609h14.6v14.5h-14.6zM914 609h14.6v14.5h-14.6zM522 623h14.6v14.5h-14.6zM536 623h14.6v14.5h-14.6zM900 623h14.6v14.5h-14.6zM914 623h14.6v14.5h-14.6zM522 637h14.6v14.5h-14.6zM536 637h14.6v14.5h-14.6zM550 637h14.6v14.5h-14.6zM886 637h14.6v14.5h-14.6zM900 637h14.6v14.5h-14.6zM914 637h14.6v14.5h-14.6zM522 651h14.6v14.5h-14.6zM536 651h14.6v14.5h-14.6zM550 651h14.6v14.5h-14.6zM886 651h14.6v14.5h-14.6zM900 651h14.6v14.5h-14.6zM914 651h14.6v14.5h-14.6zM522 665h14.6v14.5h-14.6zM536 665h14.6v14.5h-14.6zM550 665h14.6v14.5h-14.6zM564 665h14.6v14.5h-14.6zM872 665h14.6v14.5h-14.6zM886 665h14.6v14.5h-14.6zM900 665h14.6v14.5h-14.6zM914 665h14.6v14.5h-14.6zM550 679h14.6v14.5h-14.6zM564 679h14.6v14.5h-14.6zM578 679h14.6v14.5h-14.6zM648 679h14.6v14.5h-14.6zM788 679h14.6v14.5h-14.6zM858 679h14.6v14.5h-14.6zM872 679h14.6v14.5h-14.6zM886 679h14.6v14.5h-14.6zM592 693h14.6v14.5h-14.6zM606 693h14.6v14.5h-14.6zM830 693h14.6v14.5h-14.6zM844 693h14.6v14.5h-14.6z"/><path fill="#526fb2" d="M704 554h14.6v14.5h-14.6zM732 554h14.6v14.5h-14.6zM662 609h14.6v14.5h-14.6zM774 609h14.6v14.5h-14.6zM704 693h14.6v14.5h-14.6zM732 693h14.6v14.5h-14.6z"/><path fill="#4a5ca8" d="M718 554h14.6v14.5h-14.6zM676 665h14.6v14.5h-14.6zM760 665h14.6v14.5h-14.6zM690 679h14.6v14.5h-14.6zM746 679h14.6v14.5h-14.6z"/><path fill="#cad948" d="M606 567h14.6v14.5h-14.6zM620 567h14.6v14.5h-14.6zM634 567h14.6v14.5h-14.6zM802 567h14.6v14.5h-14.6zM816 567h14.6v14.5h-14.6zM830 567h14.6v14.5h-14.6zM578 581h14.6v14.5h-14.6zM592 581h14.6v14.5h-14.6zM844 581h14.6v14.5h-14.6zM858 581h14.6v14.5h-14.6zM564 595h14.6v14.5h-14.6zM872 595h14.6v14.5h-14.6zM564 609h14.6v14.5h-14.6zM872 609h14.6v14.5h-14.6zM550 623h14.6v14.5h-14.6zM564 623h14.6v14.5h-14.6zM872 623h14.6v14.5h-14.6zM886 623h14.6v14.5h-14.6zM564 637h14.6v14.5h-14.6zM872 637h14.6v14.5h-14.6zM564 651h14.6v14.5h-14.6zM872 651h14.6v14.5h-14.6zM578 665h14.6v14.5h-14.6zM858 665h14.6v14.5h-14.6zM592 679h14.6v14.5h-14.6zM606 679h14.6v14.5h-14.6zM620 679h14.6v14.5h-14.6zM634 679h14.6v14.5h-14.6zM802 679h14.6v14.5h-14.6zM816 679h14.6v14.5h-14.6zM830 679h14.6v14.5h-14.6zM844 679h14.6v14.5h-14.6z"/><path fill="#4d64ac" d="M690 567h14.6v14.5h-14.6zM746 567h14.6v14.5h-14.6zM676 581h14.6v14.5h-14.6zM760 581h14.6v14.5h-14.6zM662 637h14.6v14.5h-14.6zM774 637h14.6v14.5h-14.6z"/><path fill="#4451a0" d="M704 567h14.6v14.5h-14.6zM718 567h14.6v14.5h-14.6zM732 567h14.6v14.5h-14.6zM704 679h14.6v14.5h-14.6zM732 679h14.6v14.5h-14.6z"/><path fill="#d2dc43" d="M606 581h14.6v14.5h-14.6zM662 581h14.6v14.5h-14.6zM774 581h14.6v14.5h-14.6zM830 581h14.6v14.5h-14.6zM578 595h14.6v14.5h-14.6zM592 595h14.6v14.5h-14.6zM844 595h14.6v14.5h-14.6zM858 595h14.6v14.5h-14.6zM578 609h14.6v14.5h-14.6zM858 609h14.6v14.5h-14.6zM578 623h14.6v14.5h-14.6zM858 623h14.6v14.5h-14.6zM578 637h14.6v14.5h-14.6zM858 637h14.6v14.5h-14.6zM578 651h14.6v14.5h-14.6zM592 651h14.6v14.5h-14.6zM844 651h14.6v14.5h-14.6zM858 651h14.6v14.5h-14.6zM592 665h14.6v14.5h-14.6zM606 665h14.6v14.5h-14.6zM662 665h14.6v14.5h-14.6zM774 665h14.6v14.5h-14.6zM830 665h14.6v14.5h-14.6zM844 665h14.6v14.5h-14.6z"/><path fill="#dbe13f" d="M620 581h14.6v14.5h-14.6zM816 581h14.6v14.5h-14.6zM592 609h14.6v14.5h-14.6zM844 609h14.6v14.5h-14.6zM592 623h14.6v14.5h-14.6zM844 623h14.6v14.5h-14.6zM592 637h14.6v14.5h-14.6zM844 637h14.6v14.5h-14.6zM620 665h14.6v14.5h-14.6zM816 665h14.6v14.5h-14.6z"/><path fill="#e4e53c" d="M634 581h14.6v14.5h-14.6zM648 581h14.6v14.5h-14.6zM788 581h14.6v14.5h-14.6zM802 581h14.6v14.5h-14.6zM606 595h14.6v14.5h-14.6zM830 595h14.6v14.5h-14.6zM606 651h14.6v14.5h-14.6zM830 651h14.6v14.5h-14.6zM634 665h14.6v14.5h-14.6zM648 665h14.6v14.5h-14.6zM788 665h14.6v14.5h-14.6zM802 665h14.6v14.5h-14.6z"/><path fill="#424e9e" d="M690 581h14.6v14.5h-14.6zM704 581h14.6v14.5h-14.6zM718 581h14.6v14.5h-14.6zM732 581h14.6v14.5h-14.6zM746 581h14.6v14.5h-14.6zM676 595h14.6v14.5h-14.6zM690 595h14.6v14.5h-14.6zM704 595h14.6v14.5h-14.6zM718 595h14.6v14.5h-14.6zM732 595h14.6v14.5h-14.6zM746 595h14.6v14.5h-14.6zM760 595h14.6v14.5h-14.6zM676 609h14.6v14.5h-14.6zM690 609h14.6v14.5h-14.6zM704 609h14.6v14.5h-14.6zM718 609h14.6v14.5h-14.6zM732 609h14.6v14.5h-14.6zM746 609h14.6v14.5h-14.6zM760 609h14.6v14.5h-14.6zM676 623h14.6v14.5h-14.6zM690 623h14.6v14.5h-14.6zM704 623h14.6v14.5h-14.6zM718 623h14.6v14.5h-14.6zM732 623h14.6v14.5h-14.6zM746 623h14.6v14.5h-14.6zM760 623h14.6v14.5h-14.6zM676 637h14.6v14.5h-14.6zM690 637h14.6v14.5h-14.6zM704 637h14.6v14.5h-14.6zM718 637h14.6v14.5h-14.6zM732 637h14.6v14.5h-14.6zM746 637h14.6v14.5h-14.6zM760 637h14.6v14.5h-14.6zM676 651h14.6v14.5h-14.6zM690 651h14.6v14.5h-14.6zM704 651h14.6v14.5h-14.6zM718 651h14.6v14.5h-14.6zM732 651h14.6v14.5h-14.6zM746 651h14.6v14.5h-14.6zM760 651h14.6v14.5h-14.6zM690 665h14.6v14.5h-14.6zM704 665h14.6v14.5h-14.6zM718 665h14.6v14.5h-14.6zM732 665h14.6v14.5h-14.6zM746 665h14.6v14.5h-14.6zM718 679h14.6v14.5h-14.6z"/><path fill="#edea3c" d="M620 595h14.6v14.5h-14.6zM816 595h14.6v14.5h-14.6zM606 609h14.6v14.5h-14.6zM830 609h14.6v14.5h-14.6zM606 623h14.6v14.5h-14.6zM830 623h14.6v14.5h-14.6zM606 637h14.6v14.5h-14.6zM830 637h14.6v14.5h-14.6zM620 651h14.6v14.5h-14.6zM816 651h14.6v14.5h-14.6z"/><path fill="#f7e337" d="M634 595h14.6v14.5h-14.6zM802 595h14.6v14.5h-14.6zM620 609h14.6v14.5h-14.6zM816 609h14.6v14.5h-14.6zM620 623h14.6v14.5h-14.6zM816 623h14.6v14.5h-14.6zM620 637h14.6v14.5h-14.6zM816 637h14.6v14.5h-14.6zM634 651h14.6v14.5h-14.6zM802 651h14.6v14.5h-14.6z"/><path fill="#e9b22e" d="M648 595h14.6v14.5h-14.6zM788 595h14.6v14.5h-14.6zM634 609h14.6v14.5h-14.6zM802 609h14.6v14.5h-14.6zM634 637h14.6v14.5h-14.6zM802 637h14.6v14.5h-14.6zM648 651h14.6v14.5h-14.6zM788 651h14.6v14.5h-14.6z"/><path fill="#d9752b" d="M648 609h14.6v14.5h-14.6zM788 609h14.6v14.5h-14.6zM648 637h14.6v14.5h-14.6zM788 637h14.6v14.5h-14.6z"/><path fill="#e5a52e" d="M634 623h14.6v14.5h-14.6zM802 623h14.6v14.5h-14.6z"/><path fill="#d2592a" d="M648 623h14.6v14.5h-14.6zM788 623h14.6v14.5h-14.6z"/><path fill="#4554a2" d="M662 623h14.6v14.5h-14.6zM774 623h14.6v14.5h-14.6z"/><path fill="#4858a6" d="M718 693h14.6v14.5h-14.6z"/><path fill="#77c4ec" d="M718 721h14.6v14.5h-14.6z"/></g></g>
<g clip-path="url(#fbc5)"><g filter="url(#fbl)"><path fill="#b7d059" d="M913 428h14.5v14.5h-14.5zM927 428h14.5v14.5h-14.5zM941 428h14.5v14.5h-14.5zM955 428h14.5v14.5h-14.5zM969 428h14.5v14.5h-14.5zM983 428h14.5v14.5h-14.5zM997 428h14.5v14.5h-14.5zM1011 428h14.5v14.5h-14.5zM1025 428h14.5v14.5h-14.5zM1038 428h14.5v14.5h-14.5zM1052 428h14.5v14.5h-14.5zM913 442h14.5v14.5h-14.5zM927 442h14.5v14.5h-14.5zM941 442h14.5v14.5h-14.5zM955 442h14.5v14.5h-14.5zM969 442h14.5v14.5h-14.5zM983 442h14.5v14.5h-14.5zM997 442h14.5v14.5h-14.5zM1011 442h14.5v14.5h-14.5zM1025 442h14.5v14.5h-14.5zM1038 442h14.5v14.5h-14.5zM1052 442h14.5v14.5h-14.5zM913 456h14.5v14.5h-14.5zM927 456h14.5v14.5h-14.5zM941 456h14.5v14.5h-14.5zM955 456h14.5v14.5h-14.5zM969 456h14.5v14.5h-14.5zM983 456h14.5v14.5h-14.5zM997 456h14.5v14.5h-14.5zM1011 456h14.5v14.5h-14.5zM1025 456h14.5v14.5h-14.5zM1038 456h14.5v14.5h-14.5zM1052 456h14.5v14.5h-14.5zM1066 456h14.5v14.5h-14.5zM913 470h14.5v14.5h-14.5zM927 470h14.5v14.5h-14.5zM941 470h14.5v14.5h-14.5zM955 470h14.5v14.5h-14.5zM969 470h14.5v14.5h-14.5zM983 470h14.5v14.5h-14.5zM1052 470h14.5v14.5h-14.5zM1066 470h14.5v14.5h-14.5zM913 484h14.5v14.5h-14.5zM927 484h14.5v14.5h-14.5zM941 484h14.5v14.5h-14.5zM955 484h14.5v14.5h-14.5zM1080 484h14.5v14.5h-14.5zM913 498h14.5v14.5h-14.5zM927 498h14.5v14.5h-14.5zM941 498h14.5v14.5h-14.5zM955 498h14.5v14.5h-14.5zM913 512h14.5v14.5h-14.5zM927 512h14.5v14.5h-14.5zM941 512h14.5v14.5h-14.5zM1094 512h14.5v14.5h-14.5zM913 526h14.5v14.5h-14.5zM927 526h14.5v14.5h-14.5zM941 526h14.5v14.5h-14.5zM913 540h14.5v14.5h-14.5zM927 540h14.5v14.5h-14.5zM941 540h14.5v14.5h-14.5zM913 554h14.5v14.5h-14.5zM927 554h14.5v14.5h-14.5zM941 554h14.5v14.5h-14.5zM913 567h14.5v14.5h-14.5zM927 567h14.5v14.5h-14.5zM941 567h14.5v14.5h-14.5zM955 567h14.5v14.5h-14.5zM1094 567h14.5v14.5h-14.5zM941 581h14.5v14.5h-14.5zM955 581h14.5v14.5h-14.5zM969 595h14.5v14.5h-14.5zM997 609h14.5v14.5h-14.5zM1052 609h14.5v14.5h-14.5zM1164 637h14.5v14.5h-14.5zM1220 637h14.5v14.5h-14.5zM1248 651h14.5v14.5h-14.5zM1262 665h14.5v14.5h-14.5zM1276 665h14.5v14.5h-14.5zM1262 679h14.5v14.5h-14.5zM1276 679h14.5v14.5h-14.5zM1290 679h14.5v14.5h-14.5zM1304 679h14.5v14.5h-14.5zM1276 693h14.5v14.5h-14.5zM1290 693h14.5v14.5h-14.5zM1304 693h14.5v14.5h-14.5zM1276 707h14.5v14.5h-14.5zM1290 707h14.5v14.5h-14.5zM1304 707h14.5v14.5h-14.5zM1276 721h14.5v14.5h-14.5zM1290 721h14.5v14.5h-14.5zM1304 721h14.5v14.5h-14.5zM1122 735h14.5v14.5h-14.5zM1276 735h14.5v14.5h-14.5zM1290 735h14.5v14.5h-14.5zM1304 735h14.5v14.5h-14.5zM1262 749h14.5v14.5h-14.5zM1276 749h14.5v14.5h-14.5zM1290 749h14.5v14.5h-14.5zM1304 749h14.5v14.5h-14.5zM1136 763h14.5v14.5h-14.5zM1262 763h14.5v14.5h-14.5zM1276 763h14.5v14.5h-14.5zM1290 763h14.5v14.5h-14.5zM1304 763h14.5v14.5h-14.5zM1150 777h14.5v14.5h-14.5zM1164 777h14.5v14.5h-14.5zM1234 777h14.5v14.5h-14.5zM1248 777h14.5v14.5h-14.5zM1262 777h14.5v14.5h-14.5zM1276 777h14.5v14.5h-14.5zM1290 777h14.5v14.5h-14.5zM1304 777h14.5v14.5h-14.5zM1150 791h14.5v14.5h-14.5zM1164 791h14.5v14.5h-14.5zM1178 791h14.5v14.5h-14.5zM1192 791h14.5v14.5h-14.5zM1206 791h14.5v14.5h-14.5zM1220 791h14.5v14.5h-14.5zM1234 791h14.5v14.5h-14.5zM1248 791h14.5v14.5h-14.5zM1262 791h14.5v14.5h-14.5zM1276 791h14.5v14.5h-14.5zM1290 791h14.5v14.5h-14.5zM1304 791h14.5v14.5h-14.5zM1164 804h14.5v14.5h-14.5zM1178 804h14.5v14.5h-14.5zM1192 804h14.5v14.5h-14.5zM1206 804h14.5v14.5h-14.5zM1220 804h14.5v14.5h-14.5zM1234 804h14.5v14.5h-14.5zM1248 804h14.5v14.5h-14.5zM1262 804h14.5v14.5h-14.5zM1276 804h14.5v14.5h-14.5zM1290 804h14.5v14.5h-14.5zM1304 804h14.5v14.5h-14.5zM1164 818h14.5v14.5h-14.5zM1178 818h14.5v14.5h-14.5zM1192 818h14.5v14.5h-14.5zM1206 818h14.5v14.5h-14.5zM1220 818h14.5v14.5h-14.5zM1234 818h14.5v14.5h-14.5zM1248 818h14.5v14.5h-14.5zM1262 818h14.5v14.5h-14.5zM1276 818h14.5v14.5h-14.5zM1290 818h14.5v14.5h-14.5zM1304 818h14.5v14.5h-14.5z"/><path fill="#afce66" d="M1066 428h14.5v14.5h-14.5zM1080 428h14.5v14.5h-14.5zM1066 442h14.5v14.5h-14.5zM1080 442h14.5v14.5h-14.5zM1080 456h14.5v14.5h-14.5zM1094 456h14.5v14.5h-14.5zM1080 470h14.5v14.5h-14.5zM1094 470h14.5v14.5h-14.5zM1094 484h14.5v14.5h-14.5zM1094 498h14.5v14.5h-14.5zM913 581h14.5v14.5h-14.5zM927 581h14.5v14.5h-14.5zM913 595h14.5v14.5h-14.5zM927 595h14.5v14.5h-14.5zM941 595h14.5v14.5h-14.5zM955 595h14.5v14.5h-14.5zM941 609h14.5v14.5h-14.5zM955 609h14.5v14.5h-14.5zM969 609h14.5v14.5h-14.5zM983 609h14.5v14.5h-14.5zM1234 637h14.5v14.5h-14.5zM1248 637h14.5v14.5h-14.5zM1262 637h14.5v14.5h-14.5zM1276 637h14.5v14.5h-14.5zM1262 651h14.5v14.5h-14.5zM1276 651h14.5v14.5h-14.5zM1290 651h14.5v14.5h-14.5zM1304 651h14.5v14.5h-14.5zM1290 665h14.5v14.5h-14.5zM1304 665h14.5v14.5h-14.5zM1122 679h14.5v14.5h-14.5zM1122 749h14.5v14.5h-14.5zM1122 763h14.5v14.5h-14.5zM1122 777h14.5v14.5h-14.5zM1136 777h14.5v14.5h-14.5zM1122 791h14.5v14.5h-14.5zM1136 791h14.5v14.5h-14.5zM1136 804h14.5v14.5h-14.5zM1150 804h14.5v14.5h-14.5zM1136 818h14.5v14.5h-14.5zM1150 818h14.5v14.5h-14.5z"/><path fill="#a8cb74" d="M1094 428h14.5v14.5h-14.5zM1108 428h14.5v14.5h-14.5zM1122 428h14.5v14.5h-14.5zM1094 442h14.5v14.5h-14.5zM1108 442h14.5v14.5h-14.5zM1122 442h14.5v14.5h-14.5zM1108 456h14.5v14.5h-14.5zM1108 470h14.5v14.5h-14.5zM1108 484h14.5v14.5h-14.5zM1108 498h14.5v14.5h-14.5zM1108 512h14.5v14.5h-14.5zM1108 526h14.5v14.5h-14.5zM1108 540h14.5v14.5h-14.5zM1108 554h14.5v14.5h-14.5zM1108 567h14.5v14.5h-14.5zM1080 581h14.5v14.5h-14.5zM1094 581h14.5v14.5h-14.5zM1108 581h14.5v14.5h-14.5zM1122 581h14.5v14.5h-14.5zM1136 581h14.5v14.5h-14.5zM1066 595h14.5v14.5h-14.5zM1080 595h14.5v14.5h-14.5zM1094 595h14.5v14.5h-14.5zM1108 595h14.5v14.5h-14.5zM1122 595h14.5v14.5h-14.5zM1136 595h14.5v14.5h-14.5zM1150 595h14.5v14.5h-14.5zM913 609h14.5v14.5h-14.5zM927 609h14.5v14.5h-14.5zM1066 609h14.5v14.5h-14.5zM1080 609h14.5v14.5h-14.5zM1094 609h14.5v14.5h-14.5zM1108 609h14.5v14.5h-14.5zM1122 609h14.5v14.5h-14.5zM1136 609h14.5v14.5h-14.5zM1150 609h14.5v14.5h-14.5zM1290 609h14.5v14.5h-14.5zM1304 609h14.5v14.5h-14.5zM913 623h14.5v14.5h-14.5zM927 623h14.5v14.5h-14.5zM941 623h14.5v14.5h-14.5zM955 623h14.5v14.5h-14.5zM969 623h14.5v14.5h-14.5zM983 623h14.5v14.5h-14.5zM997 623h14.5v14.5h-14.5zM1011 623h14.5v14.5h-14.5zM1025 623h14.5v14.5h-14.5zM1038 623h14.5v14.5h-14.5zM1052 623h14.5v14.5h-14.5zM1066 623h14.5v14.5h-14.5zM1080 623h14.5v14.5h-14.5zM1094 623h14.5v14.5h-14.5zM1108 623h14.5v14.5h-14.5zM1122 623h14.5v14.5h-14.5zM1136 623h14.5v14.5h-14.5zM1150 623h14.5v14.5h-14.5zM1164 623h14.5v14.5h-14.5zM1178 623h14.5v14.5h-14.5zM1192 623h14.5v14.5h-14.5zM1206 623h14.5v14.5h-14.5zM1220 623h14.5v14.5h-14.5zM1234 623h14.5v14.5h-14.5zM1248 623h14.5v14.5h-14.5zM1262 623h14.5v14.5h-14.5zM1276 623h14.5v14.5h-14.5zM1290 623h14.5v14.5h-14.5zM1304 623h14.5v14.5h-14.5zM913 637h14.5v14.5h-14.5zM927 637h14.5v14.5h-14.5zM1066 637h14.5v14.5h-14.5zM1080 637h14.5v14.5h-14.5zM1094 637h14.5v14.5h-14.5zM1108 637h14.5v14.5h-14.5zM1122 637h14.5v14.5h-14.5zM1136 637h14.5v14.5h-14.5zM1150 637h14.5v14.5h-14.5zM1290 637h14.5v14.5h-14.5zM1304 637h14.5v14.5h-14.5zM1066 651h14.5v14.5h-14.5zM1080 651h14.5v14.5h-14.5zM1094 651h14.5v14.5h-14.5zM1108 651h14.5v14.5h-14.5zM1122 651h14.5v14.5h-14.5zM1136 651h14.5v14.5h-14.5zM1150 651h14.5v14.5h-14.5zM1080 665h14.5v14.5h-14.5zM1094 665h14.5v14.5h-14.5zM1108 665h14.5v14.5h-14.5zM1122 665h14.5v14.5h-14.5zM1136 665h14.5v14.5h-14.5zM1108 679h14.5v14.5h-14.5zM1108 693h14.5v14.5h-14.5zM1108 707h14.5v14.5h-14.5zM1108 721h14.5v14.5h-14.5zM1108 735h14.5v14.5h-14.5zM1108 749h14.5v14.5h-14.5zM1108 763h14.5v14.5h-14.5zM1108 777h14.5v14.5h-14.5zM1108 791h14.5v14.5h-14.5zM1094 804h14.5v14.5h-14.5zM1108 804h14.5v14.5h-14.5zM1122 804h14.5v14.5h-14.5zM1094 818h14.5v14.5h-14.5zM1108 818h14.5v14.5h-14.5zM1122 818h14.5v14.5h-14.5z"/><path fill="#a3ca80" d="M1136 428h14.5v14.5h-14.5zM1150 428h14.5v14.5h-14.5zM1136 442h14.5v14.5h-14.5zM1150 442h14.5v14.5h-14.5zM1122 456h14.5v14.5h-14.5zM1136 456h14.5v14.5h-14.5zM1122 470h14.5v14.5h-14.5zM1136 470h14.5v14.5h-14.5zM1122 484h14.5v14.5h-14.5zM1122 498h14.5v14.5h-14.5zM1290 581h14.5v14.5h-14.5zM1304 581h14.5v14.5h-14.5zM1262 595h14.5v14.5h-14.5zM1276 595h14.5v14.5h-14.5zM1290 595h14.5v14.5h-14.5zM1304 595h14.5v14.5h-14.5zM1234 609h14.5v14.5h-14.5zM1248 609h14.5v14.5h-14.5zM1262 609h14.5v14.5h-14.5zM1276 609h14.5v14.5h-14.5zM941 637h14.5v14.5h-14.5zM955 637h14.5v14.5h-14.5zM969 637h14.5v14.5h-14.5zM983 637h14.5v14.5h-14.5zM913 651h14.5v14.5h-14.5zM927 651h14.5v14.5h-14.5zM941 651h14.5v14.5h-14.5zM955 651h14.5v14.5h-14.5zM913 665h14.5v14.5h-14.5zM927 665h14.5v14.5h-14.5zM1094 679h14.5v14.5h-14.5zM1094 749h14.5v14.5h-14.5zM1094 763h14.5v14.5h-14.5zM1080 777h14.5v14.5h-14.5zM1094 777h14.5v14.5h-14.5zM1080 791h14.5v14.5h-14.5zM1094 791h14.5v14.5h-14.5zM1066 804h14.5v14.5h-14.5zM1080 804h14.5v14.5h-14.5zM1066 818h14.5v14.5h-14.5zM1080 818h14.5v14.5h-14.5z"/><path fill="#9dc98b" d="M1164 428h14.5v14.5h-14.5zM1178 428h14.5v14.5h-14.5zM1192 428h14.5v14.5h-14.5zM1206 428h14.5v14.5h-14.5zM1220 428h14.5v14.5h-14.5zM1234 428h14.5v14.5h-14.5zM1248 428h14.5v14.5h-14.5zM1262 428h14.5v14.5h-14.5zM1276 428h14.5v14.5h-14.5zM1290 428h14.5v14.5h-14.5zM1304 428h14.5v14.5h-14.5zM1164 442h14.5v14.5h-14.5zM1178 442h14.5v14.5h-14.5zM1192 442h14.5v14.5h-14.5zM1206 442h14.5v14.5h-14.5zM1220 442h14.5v14.5h-14.5zM1234 442h14.5v14.5h-14.5zM1248 442h14.5v14.5h-14.5zM1262 442h14.5v14.5h-14.5zM1276 442h14.5v14.5h-14.5zM1290 442h14.5v14.5h-14.5zM1304 442h14.5v14.5h-14.5zM1150 456h14.5v14.5h-14.5zM1164 456h14.5v14.5h-14.5zM1178 456h14.5v14.5h-14.5zM1192 456h14.5v14.5h-14.5zM1206 456h14.5v14.5h-14.5zM1220 456h14.5v14.5h-14.5zM1234 456h14.5v14.5h-14.5zM1248 456h14.5v14.5h-14.5zM1262 456h14.5v14.5h-14.5zM1276 456h14.5v14.5h-14.5zM1290 456h14.5v14.5h-14.5zM1304 456h14.5v14.5h-14.5zM1150 470h14.5v14.5h-14.5zM1164 470h14.5v14.5h-14.5zM1234 470h14.5v14.5h-14.5zM1248 470h14.5v14.5h-14.5zM1262 470h14.5v14.5h-14.5zM1276 470h14.5v14.5h-14.5zM1290 470h14.5v14.5h-14.5zM1304 470h14.5v14.5h-14.5zM1136 484h14.5v14.5h-14.5zM1262 484h14.5v14.5h-14.5zM1276 484h14.5v14.5h-14.5zM1290 484h14.5v14.5h-14.5zM1304 484h14.5v14.5h-14.5zM1262 498h14.5v14.5h-14.5zM1276 498h14.5v14.5h-14.5zM1290 498h14.5v14.5h-14.5zM1304 498h14.5v14.5h-14.5zM1122 512h14.5v14.5h-14.5zM1276 512h14.5v14.5h-14.5zM1290 512h14.5v14.5h-14.5zM1304 512h14.5v14.5h-14.5zM1276 526h14.5v14.5h-14.5zM1290 526h14.5v14.5h-14.5zM1304 526h14.5v14.5h-14.5zM1276 540h14.5v14.5h-14.5zM1290 540h14.5v14.5h-14.5zM1304 540h14.5v14.5h-14.5zM1276 554h14.5v14.5h-14.5zM1290 554h14.5v14.5h-14.5zM1304 554h14.5v14.5h-14.5zM1122 567h14.5v14.5h-14.5zM1262 567h14.5v14.5h-14.5zM1276 567h14.5v14.5h-14.5zM1290 567h14.5v14.5h-14.5zM1304 567h14.5v14.5h-14.5zM1262 581h14.5v14.5h-14.5zM1276 581h14.5v14.5h-14.5zM1248 595h14.5v14.5h-14.5zM1164 609h14.5v14.5h-14.5zM1220 609h14.5v14.5h-14.5zM997 637h14.5v14.5h-14.5zM1052 637h14.5v14.5h-14.5zM969 651h14.5v14.5h-14.5zM941 665h14.5v14.5h-14.5zM955 665h14.5v14.5h-14.5zM913 679h14.5v14.5h-14.5zM927 679h14.5v14.5h-14.5zM941 679h14.5v14.5h-14.5zM955 679h14.5v14.5h-14.5zM913 693h14.5v14.5h-14.5zM927 693h14.5v14.5h-14.5zM941 693h14.5v14.5h-14.5zM913 707h14.5v14.5h-14.5zM927 707h14.5v14.5h-14.5zM941 707h14.5v14.5h-14.5zM913 721h14.5v14.5h-14.5zM927 721h14.5v14.5h-14.5zM941 721h14.5v14.5h-14.5zM913 735h14.5v14.5h-14.5zM927 735h14.5v14.5h-14.5zM941 735h14.5v14.5h-14.5zM1094 735h14.5v14.5h-14.5zM913 749h14.5v14.5h-14.5zM927 749h14.5v14.5h-14.5zM941 749h14.5v14.5h-14.5zM955 749h14.5v14.5h-14.5zM913 763h14.5v14.5h-14.5zM927 763h14.5v14.5h-14.5zM941 763h14.5v14.5h-14.5zM955 763h14.5v14.5h-14.5zM1080 763h14.5v14.5h-14.5zM913 777h14.5v14.5h-14.5zM927 777h14.5v14.5h-14.5zM941 777h14.5v14.5h-14.5zM955 777h14.5v14.5h-14.5zM969 777h14.5v14.5h-14.5zM983 777h14.5v14.5h-14.5zM1052 777h14.5v14.5h-14.5zM1066 777h14.5v14.5h-14.5zM913 791h14.5v14.5h-14.5zM927 791h14.5v14.5h-14.5zM941 791h14.5v14.5h-14.5zM955 791h14.5v14.5h-14.5zM969 791h14.5v14.5h-14.5zM983 791h14.5v14.5h-14.5zM997 791h14.5v14.5h-14.5zM1011 791h14.5v14.5h-14.5zM1025 791h14.5v14.5h-14.5zM1038 791h14.5v14.5h-14.5zM1052 791h14.5v14.5h-14.5zM1066 791h14.5v14.5h-14.5zM913 804h14.5v14.5h-14.5zM927 804h14.5v14.5h-14.5zM941 804h14.5v14.5h-14.5zM955 804h14.5v14.5h-14.5zM969 804h14.5v14.5h-14.5zM983 804h14.5v14.5h-14.5zM997 804h14.5v14.5h-14.5zM1011 804h14.5v14.5h-14.5zM1025 804h14.5v14.5h-14.5zM1038 804h14.5v14.5h-14.5zM1052 804h14.5v14.5h-14.5zM913 818h14.5v14.5h-14.5zM927 818h14.5v14.5h-14.5zM941 818h14.5v14.5h-14.5zM955 818h14.5v14.5h-14.5zM969 818h14.5v14.5h-14.5zM983 818h14.5v14.5h-14.5zM997 818h14.5v14.5h-14.5zM1011 818h14.5v14.5h-14.5zM1025 818h14.5v14.5h-14.5zM1038 818h14.5v14.5h-14.5zM1052 818h14.5v14.5h-14.5z"/><path fill="#c1d54e" d="M997 470h14.5v14.5h-14.5zM1011 470h14.5v14.5h-14.5zM1025 470h14.5v14.5h-14.5zM1038 470h14.5v14.5h-14.5zM969 484h14.5v14.5h-14.5zM983 484h14.5v14.5h-14.5zM997 484h14.5v14.5h-14.5zM1011 484h14.5v14.5h-14.5zM1025 484h14.5v14.5h-14.5zM1038 484h14.5v14.5h-14.5zM1052 484h14.5v14.5h-14.5zM1066 484h14.5v14.5h-14.5zM969 498h14.5v14.5h-14.5zM983 498h14.5v14.5h-14.5zM997 498h14.5v14.5h-14.5zM1066 498h14.5v14.5h-14.5zM1080 498h14.5v14.5h-14.5zM955 512h14.5v14.5h-14.5zM969 512h14.5v14.5h-14.5zM983 512h14.5v14.5h-14.5zM1080 512h14.5v14.5h-14.5zM955 526h14.5v14.5h-14.5zM969 526h14.5v14.5h-14.5zM1094 526h14.5v14.5h-14.5zM955 540h14.5v14.5h-14.5zM969 540h14.5v14.5h-14.5zM955 554h14.5v14.5h-14.5zM969 554h14.5v14.5h-14.5zM969 567h14.5v14.5h-14.5zM969 581h14.5v14.5h-14.5zM983 581h14.5v14.5h-14.5zM983 595h14.5v14.5h-14.5zM1011 609h14.5v14.5h-14.5zM1206 637h14.5v14.5h-14.5zM1220 651h14.5v14.5h-14.5zM1234 651h14.5v14.5h-14.5zM1234 665h14.5v14.5h-14.5zM1248 665h14.5v14.5h-14.5zM1248 679h14.5v14.5h-14.5zM1248 693h14.5v14.5h-14.5zM1262 693h14.5v14.5h-14.5zM1248 707h14.5v14.5h-14.5zM1262 707h14.5v14.5h-14.5zM1122 721h14.5v14.5h-14.5zM1248 721h14.5v14.5h-14.5zM1262 721h14.5v14.5h-14.5zM1248 735h14.5v14.5h-14.5zM1262 735h14.5v14.5h-14.5zM1136 749h14.5v14.5h-14.5zM1150 749h14.5v14.5h-14.5zM1234 749h14.5v14.5h-14.5zM1248 749h14.5v14.5h-14.5zM1150 763h14.5v14.5h-14.5zM1164 763h14.5v14.5h-14.5zM1178 763h14.5v14.5h-14.5zM1192 763h14.5v14.5h-14.5zM1206 763h14.5v14.5h-14.5zM1220 763h14.5v14.5h-14.5zM1234 763h14.5v14.5h-14.5zM1248 763h14.5v14.5h-14.5zM1178 777h14.5v14.5h-14.5zM1192 777h14.5v14.5h-14.5zM1206 777h14.5v14.5h-14.5zM1220 777h14.5v14.5h-14.5z"/><path fill="#99c997" d="M1178 470h14.5v14.5h-14.5zM1192 470h14.5v14.5h-14.5zM1206 470h14.5v14.5h-14.5zM1220 470h14.5v14.5h-14.5zM1150 484h14.5v14.5h-14.5zM1164 484h14.5v14.5h-14.5zM1178 484h14.5v14.5h-14.5zM1192 484h14.5v14.5h-14.5zM1206 484h14.5v14.5h-14.5zM1220 484h14.5v14.5h-14.5zM1234 484h14.5v14.5h-14.5zM1248 484h14.5v14.5h-14.5zM1136 498h14.5v14.5h-14.5zM1150 498h14.5v14.5h-14.5zM1220 498h14.5v14.5h-14.5zM1234 498h14.5v14.5h-14.5zM1248 498h14.5v14.5h-14.5zM1136 512h14.5v14.5h-14.5zM1234 512h14.5v14.5h-14.5zM1248 512h14.5v14.5h-14.5zM1262 512h14.5v14.5h-14.5zM1122 526h14.5v14.5h-14.5zM1248 526h14.5v14.5h-14.5zM1262 526h14.5v14.5h-14.5zM1248 540h14.5v14.5h-14.5zM1262 540h14.5v14.5h-14.5zM1248 554h14.5v14.5h-14.5zM1262 554h14.5v14.5h-14.5zM1248 567h14.5v14.5h-14.5zM1234 581h14.5v14.5h-14.5zM1248 581h14.5v14.5h-14.5zM1234 595h14.5v14.5h-14.5zM1206 609h14.5v14.5h-14.5zM1011 637h14.5v14.5h-14.5zM983 651h14.5v14.5h-14.5zM997 651h14.5v14.5h-14.5zM969 665h14.5v14.5h-14.5zM983 665h14.5v14.5h-14.5zM969 679h14.5v14.5h-14.5zM955 693h14.5v14.5h-14.5zM969 693h14.5v14.5h-14.5zM955 707h14.5v14.5h-14.5zM969 707h14.5v14.5h-14.5zM955 721h14.5v14.5h-14.5zM969 721h14.5v14.5h-14.5zM1094 721h14.5v14.5h-14.5zM955 735h14.5v14.5h-14.5zM969 735h14.5v14.5h-14.5zM969 749h14.5v14.5h-14.5zM983 749h14.5v14.5h-14.5zM1066 749h14.5v14.5h-14.5zM1080 749h14.5v14.5h-14.5zM969 763h14.5v14.5h-14.5zM983 763h14.5v14.5h-14.5zM997 763h14.5v14.5h-14.5zM1011 763h14.5v14.5h-14.5zM1025 763h14.5v14.5h-14.5zM1038 763h14.5v14.5h-14.5zM1052 763h14.5v14.5h-14.5zM1066 763h14.5v14.5h-14.5zM997 777h14.5v14.5h-14.5zM1011 777h14.5v14.5h-14.5zM1025 777h14.5v14.5h-14.5zM1038 777h14.5v14.5h-14.5z"/><path fill="#cad948" d="M1011 498h14.5v14.5h-14.5zM1025 498h14.5v14.5h-14.5zM1038 498h14.5v14.5h-14.5zM1052 498h14.5v14.5h-14.5zM997 512h14.5v14.5h-14.5zM1011 512h14.5v14.5h-14.5zM983 526h14.5v14.5h-14.5zM997 526h14.5v14.5h-14.5zM983 540h14.5v14.5h-14.5zM1094 540h14.5v14.5h-14.5zM983 554h14.5v14.5h-14.5zM983 567h14.5v14.5h-14.5zM997 595h14.5v14.5h-14.5zM1192 637h14.5v14.5h-14.5zM1234 679h14.5v14.5h-14.5zM1234 693h14.5v14.5h-14.5zM1234 707h14.5v14.5h-14.5zM1220 721h14.5v14.5h-14.5zM1234 721h14.5v14.5h-14.5zM1136 735h14.5v14.5h-14.5zM1206 735h14.5v14.5h-14.5zM1220 735h14.5v14.5h-14.5zM1234 735h14.5v14.5h-14.5zM1164 749h14.5v14.5h-14.5zM1178 749h14.5v14.5h-14.5zM1192 749h14.5v14.5h-14.5zM1206 749h14.5v14.5h-14.5zM1220 749h14.5v14.5h-14.5z"/><path fill="#94c8a2" d="M1164 498h14.5v14.5h-14.5zM1178 498h14.5v14.5h-14.5zM1192 498h14.5v14.5h-14.5zM1206 498h14.5v14.5h-14.5zM1206 512h14.5v14.5h-14.5zM1220 512h14.5v14.5h-14.5zM1220 526h14.5v14.5h-14.5zM1234 526h14.5v14.5h-14.5zM1122 540h14.5v14.5h-14.5zM1234 540h14.5v14.5h-14.5zM1234 554h14.5v14.5h-14.5zM1234 567h14.5v14.5h-14.5zM1220 595h14.5v14.5h-14.5zM1025 637h14.5v14.5h-14.5zM983 679h14.5v14.5h-14.5zM983 693h14.5v14.5h-14.5zM983 707h14.5v14.5h-14.5zM983 721h14.5v14.5h-14.5zM997 721h14.5v14.5h-14.5zM983 735h14.5v14.5h-14.5zM997 735h14.5v14.5h-14.5zM1011 735h14.5v14.5h-14.5zM1080 735h14.5v14.5h-14.5zM997 749h14.5v14.5h-14.5zM1011 749h14.5v14.5h-14.5zM1025 749h14.5v14.5h-14.5zM1038 749h14.5v14.5h-14.5zM1052 749h14.5v14.5h-14.5z"/><path fill="#d2dc43" d="M1025 512h14.5v14.5h-14.5zM1038 512h14.5v14.5h-14.5zM1052 512h14.5v14.5h-14.5zM1066 512h14.5v14.5h-14.5zM1011 526h14.5v14.5h-14.5zM1080 526h14.5v14.5h-14.5zM997 540h14.5v14.5h-14.5zM997 554h14.5v14.5h-14.5zM997 567h14.5v14.5h-14.5zM997 581h14.5v14.5h-14.5zM1011 595h14.5v14.5h-14.5zM1025 609h14.5v14.5h-14.5zM1206 651h14.5v14.5h-14.5zM1150 665h14.5v14.5h-14.5zM1220 665h14.5v14.5h-14.5zM1220 679h14.5v14.5h-14.5zM1220 693h14.5v14.5h-14.5zM1122 707h14.5v14.5h-14.5zM1220 707h14.5v14.5h-14.5zM1136 721h14.5v14.5h-14.5zM1206 721h14.5v14.5h-14.5zM1150 735h14.5v14.5h-14.5zM1164 735h14.5v14.5h-14.5zM1178 735h14.5v14.5h-14.5zM1192 735h14.5v14.5h-14.5z"/><path fill="#92cab3" d="M1150 512h14.5v14.5h-14.5zM1164 512h14.5v14.5h-14.5zM1178 512h14.5v14.5h-14.5zM1192 512h14.5v14.5h-14.5zM1136 526h14.5v14.5h-14.5zM1206 526h14.5v14.5h-14.5zM1220 540h14.5v14.5h-14.5zM1220 554h14.5v14.5h-14.5zM1220 567h14.5v14.5h-14.5zM1220 581h14.5v14.5h-14.5zM1206 595h14.5v14.5h-14.5zM1192 609h14.5v14.5h-14.5zM1011 651h14.5v14.5h-14.5zM997 665h14.5v14.5h-14.5zM1066 665h14.5v14.5h-14.5zM997 679h14.5v14.5h-14.5zM997 693h14.5v14.5h-14.5zM997 707h14.5v14.5h-14.5zM1094 707h14.5v14.5h-14.5zM1011 721h14.5v14.5h-14.5zM1080 721h14.5v14.5h-14.5zM1025 735h14.5v14.5h-14.5zM1038 735h14.5v14.5h-14.5zM1052 735h14.5v14.5h-14.5zM1066 735h14.5v14.5h-14.5z"/><path fill="#dbe13f" d="M1025 526h14.5v14.5h-14.5zM1038 526h14.5v14.5h-14.5zM1066 526h14.5v14.5h-14.5zM1011 540h14.5v14.5h-14.5zM1011 581h14.5v14.5h-14.5zM1066 581h14.5v14.5h-14.5zM1206 665h14.5v14.5h-14.5zM1206 707h14.5v14.5h-14.5zM1150 721h14.5v14.5h-14.5zM1192 721h14.5v14.5h-14.5z"/><path fill="#e4e53c" d="M1052 526h14.5v14.5h-14.5zM1025 540h14.5v14.5h-14.5zM1011 554h14.5v14.5h-14.5zM1094 554h14.5v14.5h-14.5zM1011 567h14.5v14.5h-14.5zM1178 637h14.5v14.5h-14.5zM1206 679h14.5v14.5h-14.5zM1206 693h14.5v14.5h-14.5zM1192 707h14.5v14.5h-14.5zM1164 721h14.5v14.5h-14.5zM1178 721h14.5v14.5h-14.5z"/><path fill="#91cbc1" d="M1150 526h14.5v14.5h-14.5zM1178 526h14.5v14.5h-14.5zM1192 526h14.5v14.5h-14.5zM1206 540h14.5v14.5h-14.5zM1150 581h14.5v14.5h-14.5zM1206 581h14.5v14.5h-14.5zM1011 665h14.5v14.5h-14.5zM1011 707h14.5v14.5h-14.5zM1025 721h14.5v14.5h-14.5zM1066 721h14.5v14.5h-14.5z"/><path fill="#90cccf" d="M1164 526h14.5v14.5h-14.5zM1192 540h14.5v14.5h-14.5zM1122 554h14.5v14.5h-14.5zM1206 554h14.5v14.5h-14.5zM1206 567h14.5v14.5h-14.5zM1038 637h14.5v14.5h-14.5zM1011 679h14.5v14.5h-14.5zM1011 693h14.5v14.5h-14.5zM1025 707h14.5v14.5h-14.5zM1038 721h14.5v14.5h-14.5zM1052 721h14.5v14.5h-14.5z"/><path fill="#edea3c" d="M1038 540h14.5v14.5h-14.5zM1080 540h14.5v14.5h-14.5zM1025 554h14.5v14.5h-14.5zM1025 595h14.5v14.5h-14.5zM1038 609h14.5v14.5h-14.5zM1192 651h14.5v14.5h-14.5zM1122 693h14.5v14.5h-14.5zM1192 693h14.5v14.5h-14.5zM1136 707h14.5v14.5h-14.5zM1178 707h14.5v14.5h-14.5z"/><path fill="#f5ee3c" d="M1052 540h14.5v14.5h-14.5zM1066 540h14.5v14.5h-14.5zM1025 567h14.5v14.5h-14.5zM1025 581h14.5v14.5h-14.5zM1164 651h14.5v14.5h-14.5zM1192 665h14.5v14.5h-14.5zM1136 679h14.5v14.5h-14.5zM1192 679h14.5v14.5h-14.5zM1150 707h14.5v14.5h-14.5zM1164 707h14.5v14.5h-14.5z"/><path fill="#8fcbd8" d="M1136 540h14.5v14.5h-14.5zM1178 540h14.5v14.5h-14.5zM1192 554h14.5v14.5h-14.5zM1192 595h14.5v14.5h-14.5zM1178 609h14.5v14.5h-14.5zM1025 651h14.5v14.5h-14.5zM1025 693h14.5v14.5h-14.5zM1094 693h14.5v14.5h-14.5zM1038 707h14.5v14.5h-14.5zM1080 707h14.5v14.5h-14.5z"/><path fill="#8acadf" d="M1150 540h14.5v14.5h-14.5zM1164 540h14.5v14.5h-14.5zM1192 567h14.5v14.5h-14.5zM1192 581h14.5v14.5h-14.5zM1052 651h14.5v14.5h-14.5zM1025 665h14.5v14.5h-14.5zM1025 679h14.5v14.5h-14.5zM1080 679h14.5v14.5h-14.5zM1052 707h14.5v14.5h-14.5zM1066 707h14.5v14.5h-14.5z"/><path fill="#f7e337" d="M1038 554h14.5v14.5h-14.5zM1080 567h14.5v14.5h-14.5zM1052 595h14.5v14.5h-14.5zM1178 693h14.5v14.5h-14.5z"/><path fill="#eec230" d="M1052 554h14.5v14.5h-14.5zM1080 554h14.5v14.5h-14.5zM1038 567h14.5v14.5h-14.5zM1038 595h14.5v14.5h-14.5zM1178 651h14.5v14.5h-14.5zM1178 679h14.5v14.5h-14.5zM1136 693h14.5v14.5h-14.5zM1164 693h14.5v14.5h-14.5z"/><path fill="#e9b22e" d="M1066 554h14.5v14.5h-14.5zM1038 581h14.5v14.5h-14.5zM1178 665h14.5v14.5h-14.5zM1150 693h14.5v14.5h-14.5z"/><path fill="#6fbbea" d="M1136 554h14.5v14.5h-14.5zM1164 554h14.5v14.5h-14.5zM1178 567h14.5v14.5h-14.5zM1178 595h14.5v14.5h-14.5zM1038 651h14.5v14.5h-14.5zM1038 679h14.5v14.5h-14.5zM1052 693h14.5v14.5h-14.5zM1080 693h14.5v14.5h-14.5z"/><path fill="#6aa8dd" d="M1150 554h14.5v14.5h-14.5zM1178 581h14.5v14.5h-14.5zM1038 665h14.5v14.5h-14.5zM1066 693h14.5v14.5h-14.5z"/><path fill="#81c8e7" d="M1178 554h14.5v14.5h-14.5zM1136 567h14.5v14.5h-14.5zM1164 595h14.5v14.5h-14.5zM1038 693h14.5v14.5h-14.5z"/><path fill="#df8e2d" d="M1052 567h14.5v14.5h-14.5zM1164 679h14.5v14.5h-14.5z"/><path fill="#d6672a" d="M1066 567h14.5v14.5h-14.5zM1052 581h14.5v14.5h-14.5zM1164 665h14.5v14.5h-14.5zM1150 679h14.5v14.5h-14.5z"/><path fill="#4d64ac" d="M1150 567h14.5v14.5h-14.5zM1164 581h14.5v14.5h-14.5zM1052 665h14.5v14.5h-14.5zM1066 679h14.5v14.5h-14.5z"/><path fill="#5d87c3" d="M1164 567h14.5v14.5h-14.5zM1052 679h14.5v14.5h-14.5z"/></g></g>
</svg>
<canvas id="c0" width="378" height="377" style="left:145.2px;top:57.0px;width:377.5px;height:377.3px"></canvas>
<canvas id="c1" width="378" height="377" style="left:536.4px;top:57.0px;width:377.2px;height:377.3px"></canvas>
<canvas id="c2" width="378" height="377" style="left:926.9px;top:57.0px;width:376.6px;height:377.3px"></canvas>
<canvas id="c3" width="378" height="377" style="left:145.2px;top:442.0px;width:377.5px;height:376.4px"></canvas>
<canvas id="c4" width="378" height="377" style="left:536.4px;top:442.0px;width:377.2px;height:376.4px"></canvas>
<canvas id="c5" width="378" height="377" style="left:926.9px;top:442.0px;width:376.6px;height:376.4px"></canvas>
<svg width="1450" height="1831" viewBox="0 0 1450 1831">
<g fill="none" stroke="#22302f" stroke-width="1.45" stroke-dasharray="8.8 6.2" stroke-linecap="butt">
<clipPath id="cp0"><rect x="145.2" y="57.0" width="377.5" height="377.3"/></clipPath>
<g clip-path="url(#cp0)">
<path d="M341.2,305.4 348.7,304.4 355.7,302.7 362.2,300.5 368.7,297.5 373.6,294.7 378.6,291.4 383.9,287.4 394.6,278.5 397.1,276.8 399.1,275.9 401.1,275.4 402.6,275.5 404.1,275.9 408.1,277.7 410.1,278.3 412.6,278.6 415.1,278.4 418.1,277.6 421.6,275.9 425.1,273.6 428.2,270.9 430.6,268.4 432.9,265.4 434.7,262.4 436.2,259.4 437.4,256.4 438.3,252.9 438.8,249.9 439.1,246.4 439,242.9 438.5,239.4 437.7,235.9 436.6,232.9 435.3,229.9 433.5,226.9 431.4,223.9 429.2,221.4 426,218.4 422.6,216 419.1,214.1 415.6,213 412.6,212.7 410.1,213 408.1,213.6 404.1,215.4 402.6,215.8 400.6,215.9 398.6,215.2 396.6,214.2 394.6,212.8 383.3,203.4 376.1,198.2 368.7,193.8 364.7,191.9 360.7,190.3 354.2,188.2 347.2,186.7 339.7,185.7 332.7,185.5 325.7,186 318.7,187 311.7,188.8 305.2,191 297.7,194.6 290.7,198.9 284.6,203.4 273.8,212.4 269.8,215 267.8,215.8 265.8,215.9 263.8,215.4 259.8,213.6 257.3,212.9 254.3,212.7 251.3,213.3 247.3,214.9 243.2,217.4 239.3,220.7 236.1,224.4 234.4,226.9 232.6,229.9 231.3,232.9 230.1,236.4 229.4,239.4 228.9,242.9 228.8,246.4 229.1,249.9 229.7,253.4 230.5,256.4 231.9,259.9 233.4,262.9 235.4,265.9 237.3,268.4 239.8,271.1 242.6,273.4 245.5,275.4 248.3,276.9 251.3,278 253.8,278.5 256.3,278.6 258.3,278.2 263.6,275.9 265.3,275.5 267.3,275.4 269.3,276.1 271.3,277.1 273.3,278.5 285.2,288.4 292.8,293.8 296.7,296.2 301.2,298.5 305.7,300.5 310.2,302.1 317.7,304.1 325.7,305.3 333.7,305.8 341.2,305.4"/>
<path d="M341.5,307.9 346.7,307.3 352.2,306.2 357.2,304.9 362.2,303.3 367.2,301.3 371.7,299.2 386.6,291.5 389.1,290.5 391.6,289.9 394.1,290 396.1,290.7 403.6,296.5 406.6,298.1 410.1,299.5 414.6,300.8 420.1,302 425.6,302.8 431.1,303.2 436.6,303.3 442.1,303.1 447.5,302.5 453,301.5 458,300.2 463.3,298.4 468.2,296.4 473,294 478.2,290.9 483,287.5 487.1,283.9 491.1,279.9 494.4,275.9 497.5,271.4 500,266.9 502.1,261.9 503.6,257.4 504.6,252.4 505.1,247.4 505,242.4 504.3,237.4 503.1,232.4 501.4,227.4 499.2,222.9 495.9,217.4 491.5,211.9 486.6,206.9 481.1,202.4 475,198.4 468.5,195 461.5,192.2 454.5,190.2 446.1,188.6 437.6,188 429.1,188.2 420.1,189.3 412.6,191 407.1,193 404.6,194.2 402.6,195.5 397.9,199.4 396.1,200.6 394.1,201.3 392.1,201.5 389.6,201 387.1,200 369.7,191.1 364.2,188.8 358.7,186.8 352.7,185.2 346.2,183.9 339.7,183.2 333.7,183 327.7,183.2 321.2,184 314.7,185.3 308.7,187 303.7,188.8 298.2,191.1 280.8,200 278.3,201 275.8,201.5 273.8,201.3 271.8,200.6 270,199.4 265.3,195.5 263.3,194.2 260.8,193 254.8,190.9 247.3,189.3 238.3,188.2 229.3,188 220.8,188.8 212.4,190.4 204.9,192.8 197.9,195.7 191.4,199.3 185.5,203.4 179.9,208.2 175.1,213.4 171,218.9 167.7,224.9 165.8,229.4 164.2,234.4 163.2,239.4 162.8,244.4 163,249.4 163.7,254.4 164.9,259.4 166.8,264.4 169.2,269.4 172,273.9 175.5,278.4 179.2,282.4 183.6,286.4 188.2,289.9 192.9,292.9 198.4,295.8 202.9,297.8 207.9,299.6 212.9,301 217.9,302 222.8,302.8 228.3,303.2 233.3,303.3 238.8,303.1 243.8,302.6 249.3,301.7 254.3,300.5 258.3,299.3 261.3,298.1 264.3,296.5 271.8,290.7 273.8,290 275.8,289.8 278.3,290.3 281.3,291.5 294.3,298.3 300.7,301.3 306.7,303.6 312.2,305.3 319.7,307 327.2,308 334.2,308.3 341.5,307.9"/>
<path d="M372.6,181.4 370.2,181.8 367.2,181.6 347.2,178.5 340.7,177.9 334.2,177.7 327.7,177.9 320.7,178.5 300.2,181.7 297.2,181.7 294.8,181.3 293.1,180.3 292.3,179.3 291.7,178.3 291,175.8 290.7,171.8 291,166.3 291.8,160.3 293,155.3 294.7,150.3 296.5,146.3 298.7,142.4 301.2,138.8 303.7,135.8 306.7,132.8 310.2,130 313.7,127.7 317.2,125.8 320.7,124.4 324.7,123.2 328.7,122.5 332.7,122.1 336.7,122.2 340.7,122.7 344.7,123.6 348.7,125 352.7,126.8 356.2,128.9 359.7,131.5 362.7,134.3 365.7,137.5 368.5,141.3 370.9,145.3 372.8,149.3 374.6,154.3 376,159.8 376.9,165.8 377.2,171.8 376.9,175.8 376.1,178.4 375.6,179.3 374.8,180.3 373.6,181.1 372.6,181.4"/>
<path d="M337.7,369 332.7,369.2 327.7,368.7 322.7,367.5 317.7,365.7 313.2,363.3 308.7,360.2 304.7,356.5 301.2,352.5 297.9,347.5 295.3,342.5 293.3,337 291.8,331 290.9,324 290.8,317.5 291,315.5 291.5,313.5 292.3,312 293.3,310.9 294.3,310.2 295.8,309.7 297.7,309.5 299.7,309.6 303.2,310 320.7,312.8 327.2,313.4 333.2,313.6 339.7,313.5 346.7,312.9 352.7,312 364.7,310 368.7,309.6 370.7,309.6 372.6,309.9 374.1,310.5 375.3,311.5 375.9,312.5 376.5,314 377.1,318 377,324 376.2,330 375,335.5 373.4,340.5 371.2,345.4 368.7,349.7 365.9,353.5 362.7,357 359.2,360.2 355.2,363 351.2,365.2 346.7,367.1 342.2,368.3 337.7,369"/>
<path d="M351.7,173.8 333.7,173.7 319.2,173.9 314.7,173.7 312.2,173.2 310.4,172.3 309.9,171.8 309.4,170.8 309.3,169.3 309.8,167.8 310.5,166.3 312.8,163.3 316.2,160.2 320.2,157.7 324.2,156 328.7,154.8 332.7,154.3 337.2,154.5 340.2,155 342.7,155.6 345.7,156.7 348.2,157.9 350.7,159.5 352.7,161 354.7,162.8 356.4,164.8 357.7,166.8 358.3,168.3 358.6,169.8 358.3,171.3 357.5,172.3 356.2,173.1 354.2,173.6 351.7,173.8"/>
<path d="M334.7,337 329.7,336.7 325.2,335.7 320.7,333.9 316.7,331.5 313.2,328.5 311.7,326.7 310.5,325 309.8,323.5 309.3,322 309.4,320.5 309.9,319.5 311.2,318.5 312.7,317.9 315.7,317.5 319.2,317.4 333.7,317.6 351.7,317.5 355.7,318.1 357.2,318.7 358,319.5 358.5,320.5 358.6,321.5 358.3,323 357.7,324.5 356.7,326.1 355.2,327.9 351.7,331.1 347.7,333.6 343.7,335.3 339.2,336.5 334.7,337"/>
</g>
<clipPath id="cp1"><rect x="536.4" y="57.0" width="377.2" height="377.3"/></clipPath>
<g clip-path="url(#cp1)">
<path d="M728.1,353 732.7,352.3 736.7,351.1 740.7,349.4 744.7,347.1 748.2,344.4 751.7,341 754.5,337.5 756.6,334 757.8,331.5 758.6,329 759.2,326.5 759.3,324.5 759.1,322.5 758.7,321 756,314.5 755.8,313 756.1,311 757.2,308.4 758.8,305.9 767.7,294.8 772.1,288.6 775.9,282.4 778.8,276.4 781.6,268.9 783.6,260.9 784.8,252.4 785.1,244.4 784.6,236.4 783.2,228.4 781.1,220.9 778.3,213.9 775.3,207.9 771.9,202.4 767.7,196.5 758.8,185.4 757.2,182.9 756.2,180.8 755.8,178.8 755.9,177.3 756.5,175.3 758.7,170.3 759.2,168.3 759.3,166.3 759,163.8 758.3,161.3 757.3,158.8 756,156.3 753.4,152.3 750.2,148.8 746.2,145.3 742.2,142.7 737.7,140.6 733.2,139.2 728.7,138.4 724.3,138.2 719.8,138.6 715.3,139.6 710.8,141.2 706.8,143.3 702.8,146.1 699.3,149.3 696.3,152.8 693.7,156.8 692.4,159.3 691.5,161.8 690.9,164.3 690.7,166.8 690.9,168.8 691.3,170.3 694,176.8 694.2,178.3 693.9,180.3 692.8,182.9 691.2,185.4 682.3,196.5 677.8,202.7 674.1,208.9 671.2,214.9 668.4,222.4 666.4,230.4 665.2,238.9 664.9,246.9 665.4,254.9 666.8,262.9 668.9,270.4 671.7,277.4 674.7,283.4 678.1,288.9 682.3,294.8 691.2,305.9 692.8,308.4 693.8,310.5 694.2,312.5 694.1,314 693.5,316 691.3,321 690.8,323 690.7,325 691,327.5 691.7,330 692.8,332.8 694.2,335.5 697.3,339.8 700.8,343.5 704.8,346.7 708.8,349.1 713.3,351.1 718.3,352.5 723.3,353.1 728.1,353"/>
<path d="M728.9,428.5 733.2,427.9 737.2,427 741.2,425.7 745.2,424 749.2,421.9 752.7,419.7 756.7,416.8 760.2,413.8 763.7,410.3 766.7,406.9 769.7,403.1 772.6,398.7 775.1,394.4 777.6,389.5 779.6,384.7 781.3,380 782.7,375 783.9,370 784.7,365 785.2,360 785.4,355 785.4,349.5 785,344 784.4,339 783.5,334 782.4,329 781.1,324.5 779.6,320.5 778.2,317.5 776.8,315 775.3,313 771.8,309 770.8,307.4 770,305.4 769.8,303.4 770.1,301.4 771.2,298.4 779.8,280.9 782.1,275.4 784,269.9 785.6,263.9 786.8,257.4 787.5,250.9 787.6,244.9 787.4,238.9 786.6,232.9 785.4,226.9 783.8,220.9 781.9,215.4 779.8,210.4 771.2,192.9 770.1,189.9 769.8,187.9 770,185.9 770.8,183.9 771.8,182.3 775.3,178.3 776.8,176.3 778.2,173.8 779.6,170.8 781.1,166.8 782.5,161.8 783.7,156.3 784.5,151.3 785.1,145.8 785.4,140.3 785.4,134.8 785.1,129.8 784.4,124.3 783.4,119.3 782.2,114.3 780.6,109.3 778.6,104.1 776.4,99.3 773.9,94.8 771.2,90.3 768.2,86.2 764.7,82.1 761.2,78.5 757.7,75.4 753.7,72.3 749.7,69.7 745.7,67.5 741.2,65.6 736.7,64.1 732.7,63.3 728.2,62.7 724.3,62.6 719.8,62.9 715.8,63.6 711.8,64.6 707.3,66.2 702.8,68.3 698.8,70.6 694.8,73.4 691.3,76.2 687.8,79.5 684.3,83.2 681.3,86.9 678.2,91.3 675.5,95.8 673.1,100.3 670.9,105.3 669,110.3 667.5,115.3 666.3,120.3 665.5,125.3 664.8,130.8 664.6,135.8 664.6,141.3 664.9,146.8 665.5,151.8 666.4,156.8 667.5,161.8 668.9,166.8 670.4,170.8 671.8,173.8 673.2,176.3 674.7,178.3 678.2,182.3 679.2,183.9 680,185.9 680.2,187.9 679.9,189.9 678.8,192.9 670.2,210.4 667.9,215.9 666,221.4 664.4,227.4 663.2,233.9 662.5,240.4 662.4,246.4 662.6,252.4 663.4,258.4 664.6,264.4 666.2,270.4 668.1,275.9 670.2,280.9 678.8,298.4 679.9,301.4 680.2,303.4 680,305.4 679.2,307.4 678.2,309 674.7,313 673.2,315 671.5,318 670.2,321 668.6,325.5 667.3,330.5 666.2,335.5 665.3,341 664.8,346.5 664.5,352 664.7,357.5 665,362.5 665.8,368 666.8,373 668.1,378 669.9,383.4 671.9,388.5 674.4,393.5 676.9,397.9 679.8,402.4 683.3,406.9 686.8,410.8 690.3,414.2 694.3,417.5 698.3,420.4 702.8,423 706.8,424.9 711.3,426.6 715.8,427.7 720.3,428.5 724.8,428.7 728.9,428.5"/>
<path d="M655.9,287.5 652.4,287.9 647.9,287.7 642.9,287 637.9,285.9 633.5,284.4 629.5,282.7 625.3,280.4 621.6,277.9 618.1,274.9 615.2,271.9 612.4,268.4 610.2,264.9 608.4,261.4 606.9,257.4 605.8,253.4 605.2,249.4 605.1,244.9 605.3,240.9 606.1,236.9 607.2,232.9 608.9,228.9 610.8,225.4 613.1,221.9 616,218.5 619.2,215.4 622.3,212.9 626.1,210.4 630,208.4 633.9,206.7 638.2,205.4 642.7,204.4 647.4,203.7 653.4,203.5 655.4,203.7 657.4,204.3 658.9,205.2 659.8,206.4 660.4,207.6 660.7,209.4 660.7,211.9 660.5,214.9 658.5,227.4 657.6,234.4 657.1,240.4 657,245.9 657.2,251.4 657.7,257.4 658.6,264.4 660.4,275.9 660.7,278.9 660.7,281.4 660.4,283.7 659.4,285.6 657.9,286.8 655.9,287.5"/>
<path d="M804.1,287.4 797.6,287.9 795.1,287.7 793.1,287.2 791.6,286.5 790.5,285.4 789.7,283.9 789.3,281.9 789.3,279.4 789.5,276.4 791.5,263.9 792.4,256.9 792.8,251.4 793,245.9 792.9,240.4 792.4,234.4 791.5,227.4 789.5,214.9 789.3,211.9 789.3,209.4 789.9,206.9 791.1,205.2 793.1,204.1 795.6,203.6 799.6,203.5 804.1,203.9 809.1,204.7 813.6,205.9 817.7,207.4 821.5,209.1 825.5,211.4 829,213.9 832.5,216.9 835.3,219.9 837.6,222.9 839.8,226.4 841.6,229.9 843.1,233.9 844.2,237.9 844.8,241.9 844.9,245.9 844.7,249.9 844.1,253.9 842.9,257.9 841.4,261.9 839.5,265.4 837.3,268.9 834.5,272.3 831.5,275.3 828.4,277.9 824.7,280.4 821.1,282.4 817.1,284.2 813.1,285.6 808.6,286.7 804.1,287.4"/>
<path d="M650.4,268.5 649.4,268.7 648.4,268.7 646.9,268.2 645.6,267.4 642.9,265.2 640.2,261.9 638.2,258.4 636.6,254.4 635.6,250.4 635.3,246.4 635.4,242.4 636.2,238.4 637.3,234.9 639,231.4 641.4,227.9 643.9,225.2 646.4,223.4 647.9,222.8 648.9,222.6 649.9,222.6 650.5,222.9 651.4,223.6 651.9,224.4 652.6,226.9 653,230.9 652.9,261.9 652.6,264.4 652.1,266.4 651.4,267.7 650.4,268.5"/>
<path d="M802.1,268.5 801.1,268.7 800.1,268.7 799.1,268.2 798.4,267.4 797.9,266.4 797.5,264.9 797,260.4 797,232.9 797.2,228.4 797.6,225.9 798.1,224.4 799.1,223.1 800.6,222.6 801.6,222.6 803.1,223.1 805.6,224.8 808.1,227.2 810.4,230.4 812.3,233.9 813.6,237.4 814.4,240.9 814.7,244.9 814.6,248.9 814,252.4 812.9,255.9 811.3,259.4 809.4,262.4 807.1,265.2 804.6,267.3 802.1,268.5"/>
</g>
<clipPath id="cp2"><rect x="926.9" y="57.0" width="376.6" height="377.3"/></clipPath>
<g clip-path="url(#cp2)">
<path d="M1186.7,215.9 1188.7,215 1190.1,213.9 1191.4,212.4 1192.6,210.4 1193.7,207.9 1194.4,205.4 1194.9,202.4 1195.1,199.4 1195,196.4 1194.6,193.4 1193.2,187.9 1192,184.9 1190.7,182.3 1189.1,179.8 1187.2,177.3 1183.2,173.3 1178.7,170.1 1173.7,167.7 1171.2,166.8 1168.3,166.1 1165.3,165.6 1162.3,165.4 1159.3,165.5 1156.8,165.8 1154.3,166.3 1151.8,167.2 1149.8,168.2 1147.8,169.5 1146.3,171 1145.2,172.8 1144.7,174.3 1144.6,176.3 1145,178.3 1145.9,180.3 1147.1,182.3 1149,184.9 1153.6,189.9 1168.8,205.1 1173.2,209.5 1176.2,212.1 1179.2,214.3 1181.7,215.5 1184.2,216.1 1186.7,215.9"/>
<path d="M1073.8,325.5 1077.6,324.5 1080.6,323.1 1083,321.5 1084.7,319.5 1085.6,317.5 1085.8,315 1085.2,312.5 1083.6,309.5 1081,305.9 1076.3,300.9 1059.7,284.2 1053.7,278.8 1050.2,276.5 1047.2,275.4 1045.7,275.2 1044.2,275.3 1042.7,275.8 1041.7,276.3 1040.3,277.4 1039.2,278.6 1038.2,280.1 1037.2,282.1 1035.9,286.4 1035.3,291.4 1035.6,296.4 1036.6,301.4 1038.2,306 1040.7,310.6 1043.6,314.5 1047.2,318 1051.2,320.9 1055.2,323 1059.7,324.6 1064.6,325.7 1069.1,325.9 1073.8,325.5"/>
<path d="M1192.9,231.4 1196.6,230.2 1200.3,228.4 1204.1,225.9 1208.3,222.4 1212.3,218.4 1215.7,214.4 1218.8,209.9 1221.3,205.4 1223.2,200.9 1224.7,196.4 1225.8,191.9 1226.5,186.9 1226.6,181.8 1226.4,177.3 1225.5,172.3 1224.4,167.8 1222.7,163.3 1220.5,158.8 1218,154.8 1215.1,151 1211.6,147.3 1208.2,144.3 1204.1,141.4 1200.1,139.1 1195.7,137.1 1191.2,135.6 1186.7,134.5 1181.7,133.9 1177.2,133.7 1172.2,134 1167.3,134.9 1162.8,136.1 1159.3,137.3 1155.8,138.9 1152.3,140.7 1148.8,142.9 1145.3,145.5 1142.3,148.1 1139.4,151 1136.9,153.8 1134.4,157.1 1132.6,159.8 1131,162.8 1130,165.3 1129.2,168.3 1129,170.8 1129.1,173.3 1129.6,175.8 1131.2,179.3 1135.9,186.4 1136.5,187.9 1136.8,190.9 1137.1,191.9 1137.8,192.9 1139.7,194.9 1148.3,202 1153.8,207.1 1158.3,211.9 1165.3,220.4 1167.3,222.5 1169.2,223.8 1172.7,224.3 1174.2,224.9 1180.7,229.3 1184.2,231 1186.2,231.5 1188.2,231.8 1190.7,231.7 1192.9,231.4"/>
<path d="M1055.7,357.5 1060.2,357 1064.1,356.2 1068.6,354.9 1072.6,353.4 1076.6,351.4 1080.6,349 1084.1,346.6 1087.6,343.7 1091,340.3 1094,336.9 1096.9,333 1098.9,329.5 1100.4,326 1101.2,323 1101.4,320 1101.2,317 1100.4,314.5 1099.5,312.5 1095.4,306.4 1094.3,304.4 1093.8,302.9 1093.6,300.4 1093.3,299.4 1092.6,298.4 1090.7,296.4 1082.1,289.3 1076.6,284.2 1072.1,279.4 1065.1,270.9 1063.1,268.8 1061.2,267.5 1057.7,267 1056.2,266.4 1049.7,262 1046.2,260.3 1044.2,259.8 1042.2,259.5 1038.2,259.8 1034.7,260.7 1031.3,262.3 1027.7,264.4 1023.8,267.4 1020,270.9 1016.7,274.4 1013.6,278.4 1011,282.4 1008.9,286.4 1007,290.9 1005.7,294.9 1004.6,299.4 1004,303.9 1003.8,308.4 1004,313 1004.6,317.5 1005.6,322 1006.9,326 1008.6,330 1010.8,334 1013.5,338 1016.3,341.4 1019.3,344.5 1022.8,347.4 1026.4,350 1030.3,352.2 1034.3,354 1038.2,355.4 1042.2,356.5 1046.7,357.2 1051.2,357.6 1055.7,357.5"/>
<path d="M1044.7,231.4 1041.2,231.8 1037.7,231.4 1033.8,230.2 1029.8,228.2 1025.7,225.4 1021,221.4 1017.2,217.4 1013.6,212.9 1010.7,208.4 1008.4,203.9 1006.6,199.4 1005.1,194.4 1004.2,189.4 1003.8,184.9 1003.8,179.8 1004.4,174.8 1005.5,169.8 1006.9,165.3 1008.9,160.8 1011.1,156.8 1013.8,152.9 1016.8,149.3 1020.3,145.9 1024.2,142.8 1028.3,140.2 1032.8,137.9 1037.2,136.2 1041.7,134.9 1046.2,134.1 1051.2,133.7 1056.2,133.8 1060.7,134.4 1064.6,135.2 1068.6,136.4 1072.6,137.9 1076.1,139.6 1079.6,141.6 1083.1,144 1086.6,146.8 1089.5,149.5 1092.5,152.7 1095,155.7 1097.5,159.3 1099.1,162.3 1100.4,165.3 1101.2,168.3 1101.4,171.3 1101.3,173.8 1100.6,176.3 1099.5,178.8 1094.5,186.4 1093.9,187.9 1093.5,191.4 1093,192.4 1091.7,193.9 1081.6,202.4 1076.8,206.9 1071.7,212.4 1064.6,221 1062.6,223 1061.6,223.6 1060.7,224 1057.7,224.3 1056.2,224.9 1049.2,229.6 1047.2,230.6 1044.7,231.4"/>
<path d="M1180.7,357.5 1176.2,357.6 1171.7,357.2 1167.3,356.4 1163.3,355.4 1158.8,353.8 1154.8,351.9 1150.8,349.7 1146.8,346.9 1142.8,343.7 1139.4,340.3 1135.9,336.3 1133.2,332.5 1131.3,329 1129.9,325.5 1129.1,322 1129,318.5 1129.6,315.5 1130.6,313 1132.1,310.5 1135.3,305.9 1136.1,304.4 1136.6,302.9 1136.8,300.4 1137.1,299.4 1137.8,298.4 1139.7,296.4 1148.3,289.3 1153.8,284.2 1158.3,279.4 1166.8,269.2 1168.3,268 1169.2,267.5 1172.7,267 1174.2,266.4 1180.7,262 1183.7,260.5 1187.2,259.6 1190.7,259.6 1194.2,260.2 1197.4,261.4 1201.1,263.4 1204.6,265.8 1208.3,268.9 1211.9,272.4 1214.9,275.9 1217.8,279.9 1220.2,283.9 1222.2,287.9 1223.8,291.9 1225,295.9 1225.9,299.9 1226.5,304.4 1226.6,309 1226.4,313.5 1225.7,318 1224.8,322 1223.5,326 1221.8,330 1219.6,334 1217.3,337.5 1214.6,340.9 1211.6,344 1208.2,347 1204.8,349.5 1201.1,351.7 1197.1,353.6 1193.2,355.1 1189.2,356.3 1185.2,357 1180.7,357.5"/>
<path d="M1047.2,215.9 1045.2,216.1 1043.2,215.7 1041.2,214.6 1039.7,213.3 1038.3,211.4 1037.1,208.9 1036.1,205.9 1035.6,202.9 1035.3,199.9 1035.4,196.9 1035.8,193.4 1036.4,190.4 1037.4,187.4 1038.7,184.4 1040.2,181.5 1042,178.8 1044.1,176.3 1046.1,174.3 1048.2,172.5 1050.5,170.8 1053.2,169.3 1055.7,168.1 1058.2,167.1 1061.2,166.3 1064.1,165.7 1067.1,165.4 1070.1,165.4 1072.6,165.6 1075.6,166.2 1078.1,167 1080.1,167.9 1082.1,169.1 1083.6,170.4 1084.7,171.8 1085.4,173.3 1085.8,175.3 1085.6,177.3 1085,179.3 1084,181.3 1082.6,183.4 1080.1,186.4 1076.8,189.9 1056.7,210 1054.2,212.1 1051.7,213.9 1049.2,215.3 1047.2,215.9"/>
<path d="M1166.8,325.5 1161.8,325.9 1157.3,325.6 1152.8,324.5 1149.3,322.9 1147.8,321.8 1146.5,320.5 1145.7,319.5 1145,318 1144.7,316.5 1144.6,315 1144.9,313.5 1145.4,312 1146.4,310 1147.8,307.9 1151.7,303.4 1169.7,285.2 1175.2,280 1179.2,277 1182.2,275.6 1183.7,275.3 1185.2,275.2 1187.7,275.8 1188.8,276.4 1190.2,277.5 1192.2,280.1 1193.9,283.9 1194.8,287.9 1195.1,292.4 1194.8,296.9 1193.8,301.4 1192.4,305.4 1190.4,309.5 1188.2,312.7 1185.4,316 1182.2,318.8 1178.7,321.2 1174.7,323.2 1170.7,324.6 1166.8,325.5"/>
</g>
<clipPath id="cp3"><rect x="145.2" y="442.0" width="377.5" height="376.4"/></clipPath>
<g clip-path="url(#cp3)">
<path d="M389.1,662.4 392.6,662.3 396.3,661.9 399.6,661.2 403.1,660.2 406.1,658.9 409.1,657.4 412.1,655.4 414.5,653.4 417,650.9 419.1,648.4 420.7,645.9 422.3,642.9 423.5,639.9 424.3,636.9 424.9,633.9 425.1,630.4 424.9,627 424.4,624 423.5,620.5 422.3,617.5 420.7,614.5 419.1,612 417,609.5 414.5,607 412.1,605 409.1,603 406.1,601.5 403.1,600.2 399.6,599.2 396.3,598.5 392.6,598.1 389.1,598"/>
<path d="M278.8,598 275.3,598.1 271.6,598.5 268.3,599.2 264.8,600.2 261.8,601.5 258.8,603 255.8,605 253.4,607 250.9,609.5 248.8,612 247.2,614.5 245.6,617.5 244.4,620.5 243.6,623.5 243,626.5 242.8,630 243,633.4 243.5,636.4 244.4,639.9 245.6,642.9 247.2,645.9 248.8,648.4 250.9,650.9 253.4,653.4 255.8,655.4 258.8,657.4 261.8,658.9 264.8,660.2 268.3,661.2 271.6,661.9 275.3,662.3 278.8,662.4"/>
<path d="M384.6,669.5 391.6,672.2 398.6,674.1 405.6,675.3 412.1,675.8 419.1,675.4 425.5,674.4 431.6,672.6 437.6,670.1 442.9,666.9 448,662.9 452.4,658.4 456.1,653.4 459,647.9 461.1,642.4 462.4,636.4 462.8,630.4 462.4,624.5 461.2,618.5 459,612.5 456.1,607 452.4,602 448,597.5 442.9,593.5 437.6,590.3 431.6,587.8 425.5,586 419.1,585 412.1,584.6 405.6,585.1 398.6,586.3 391.6,588.2 384.6,590.9"/>
<path d="M283.3,590.9 276.3,588.2 269.3,586.3 262.3,585.1 255.8,584.6 248.8,585 242.4,586 236.3,587.8 230.3,590.3 225,593.5 219.9,597.5 215.5,602 211.8,607 208.9,612.5 206.8,618 205.5,624 205.1,630 205.5,635.9 206.7,641.9 208.9,647.9 211.8,653.4 215.5,658.4 219.9,662.9 225,666.9 230.3,670.1 236.3,672.6 242.4,674.4 248.8,675.4 255.8,675.8 262.3,675.3 269.3,674.1 276.3,672.2 283.3,669.5"/>
<path d="M294.6,579.5 291.9,572.5 290,565.6 288.8,558.6 288.4,552.1 288.7,545.1 289.8,538.7 291.5,532.6 294.1,526.6 297.2,521.2 301.2,516.1 305.7,511.8 310.7,508.1 316.2,505.2 321.7,503.1 327.7,501.8 333.7,501.4 339.7,501.7 345.7,503 351.7,505.2 357.2,508.1 362.2,511.8 366.7,516.1 370.7,521.2 373.8,526.6 376.4,532.6 378.1,538.7 379.2,545.1 379.5,552.1 379.1,558.6 377.9,565.6 376,572.5 373.3,579.5"/>
<path d="M338.7,758.8 335.7,759 332.2,759 328.7,758.7 325.7,758.3 319.7,756.6 316.7,755.5 313.7,754 308.2,750.6 303.2,746.4 300.8,743.8 298.8,741.3 295.1,735.8 292.3,729.8 290.1,723.3 288.9,716.8 288.4,709.8 288.7,702.8 289.9,695.3 291.9,687.9 294.6,680.9"/>
<path d="M373.3,680.9 375.8,687.4 377.7,693.8 378.9,700.3 379.5,706.8 379.4,713.3 378.6,719.3 377.1,725.5 375,731.3 372.1,736.8 368.7,741.9 364.7,746.4 360.2,750.2 355.2,753.5 350.2,755.9 344.7,757.7 338.7,758.8"/>
<path d="M301.7,575 301.8,571.5 302.2,567.9 302.9,564.6 304,561.1 305.2,558 306.8,555.1 308.7,552.1 310.7,549.6 313.2,547.1 315.7,545.1 318.2,543.4 321.2,541.9 324.2,540.7 327.2,539.8 330.2,539.3 333.7,539.1 337.2,539.3 340.2,539.7 343.7,540.7 346.7,541.9 349.7,543.4 352.2,545.1 354.7,547.1 357.2,549.6 359.2,552.1 361.1,555.1 362.7,558 363.9,561.1 365,564.6 365.7,567.9 366.1,571.5 366.2,575"/>
<path d="M334.2,721.3 330.7,721.1 327.7,720.7 324.2,719.7 321.2,718.5 318.2,717 315.7,715.3 313.2,713.3 310.7,710.8 308.7,708.3 306.8,705.3 305.2,702.4 304,699.3 302.9,695.8 302.2,692.5 301.8,688.9 301.7,685.4"/>
<path d="M366.2,685.4 366.1,688.9 365.7,692.5 365,695.8 363.9,699.3 362.7,702.4 361.1,705.3 359.2,708.3 357.2,710.8 354.7,713.3 352.2,715.3 349.7,717 346.7,718.5 343.7,719.7 340.7,720.6 337.7,721.1 334.2,721.3"/>
</g>
<clipPath id="cp4"><rect x="536.4" y="442.0" width="377.2" height="376.4"/></clipPath>
<g clip-path="url(#cp4)">
<path d="M725.5,721.3 728.7,721.1 731.7,720.6 734.7,719.7 737.7,718.5 740.7,717 743.2,715.3 745.7,713.3 748.2,710.8 750.2,708.3 752.1,705.3 753.7,702.4 754.9,699.3 756,695.8 756.7,692.5 757.1,688.9 757.2,685.4"/>
<path d="M757.2,575 757.1,571.5 756.7,567.9 756,564.6 754.9,561.1 753.7,558 752.1,555.1 750.2,552.1 748.2,549.6 745.7,547.1 743.2,545.1 740.7,543.4 737.7,541.9 734.7,540.7 731.7,539.8 728.7,539.3 725.2,539.1 721.8,539.3 718.8,539.7 715.3,540.7 712.3,541.9 709.3,543.4 706.8,545.1 704.3,547.1 701.8,549.6 699.8,552.1 697.9,555.1 696.3,558 695.1,561.1 694,564.6 693.3,567.9 692.9,571.5 692.8,575"/>
<path d="M692.8,685.4 692.9,688.9 693.3,692.5 694,695.8 695.1,699.3 696.3,702.4 697.9,705.3 699.8,708.3 701.9,710.8 704.3,713.3 706.8,715.3 709.8,717.2 712.8,718.7 715.8,719.9 718.8,720.7 722.3,721.2 725.5,721.3"/>
<path d="M730.1,758.7 735.7,757.7 741.2,755.9 746.7,753.2 751.7,749.8 756.2,745.9 759.8,741.8 763.2,736.8 766,731.3 768.2,725.5 769.6,719.3 770.4,713.3 770.5,706.8 769.9,700.3 768.7,693.8 766.8,687.4 764.3,680.9"/>
<path d="M764.3,579.5 767,572.5 768.9,565.6 770.1,558.6 770.5,552.1 770.2,545.1 769.2,538.7 767.4,532.6 764.8,526.6 761.7,521.2 757.7,516.1 753.2,511.8 748.2,508.1 742.7,505.2 737.2,503.1 731.2,501.8 725.2,501.4 719.3,501.7 713.3,503 707.3,505.2 701.8,508.1 696.8,511.8 692.3,516.1 688.3,521.2 685.2,526.6 682.6,532.6 680.8,538.7 679.8,545.1 679.5,552.1 679.9,558.6 681.1,565.6 683,572.5 685.7,579.5"/>
<path d="M685.7,680.9 683,687.9 681,695.3 679.8,702.8 679.5,709.8 680,716.8 681.3,723.7 683.6,730.3 686.3,736 689.8,741.3 691.9,743.8 694.3,746.4 699.3,750.6 704.8,754 707.8,755.5 710.8,756.6 713.8,757.6 717.3,758.3 720.8,758.8 723.8,759 730.1,758.7"/>
<path d="M652.9,675.4 646.4,675.8 640.4,675.5 634.4,674.6 628.5,673 623,670.8 618,668.1 613.4,664.9 609,661 605.4,656.9 602.1,651.9 599.6,646.9 597.7,641.4 596.6,635.9 596.2,630.4 596.5,625 597.6,619.5 599.2,614.5 601.5,609.5 604.3,605 608,600.5 612.1,596.5 616.5,593.2 621.5,590.3 626.8,588 632.4,586.3 637.9,585.2 643.9,584.7 649.9,584.8 655.9,585.4 661.9,586.6 667.9,588.4 674.4,590.9"/>
<path d="M674.4,669.5 668.9,671.7 663.9,673.3 658.4,674.6 652.9,675.4"/>
<path d="M810.1,675.4 806.1,675.7 801.6,675.7 797.6,675.4 793.1,674.8 788.6,673.9 784.1,672.7 779.6,671.2 775.6,669.5"/>
<path d="M775.6,590.9 781.1,588.7 787.1,586.9 792.6,585.7 798.6,584.9 804.6,584.6 810.1,585 815.6,585.8 820.5,587.1 825.7,589 830.5,591.4 835,594.3 839,597.5 842.5,601 845.7,605 848.5,609.5 850.6,614 852.3,619 853.3,624 853.8,629 853.6,634.4 852.8,639.4 851.4,644.4 849.3,649.4 846.7,653.9 843.4,658.4 839.6,662.4 835.3,665.9 831,668.7 826,671.2 821,673.1 815.6,674.6 810.1,675.4"/>
<path d="M669.9,662.4 666.4,662.3 662.7,661.9 659.4,661.2 655.9,660.2 652.9,658.9 649.9,657.4 646.9,655.4 644.5,653.4 642,650.9 640,648.4 638.3,645.9 636.7,642.9 635.5,639.9 634.7,636.9 634.2,633.9 633.9,630.4 634.1,627 634.6,624 635.5,620.5 636.7,617.5 638.3,614.5 640,612 642,609.5 644.5,607 646.9,605 649.9,603 652.9,601.5 655.9,600.2 659.4,599.2 662.7,598.5 666.4,598.1 669.9,598"/>
<path d="M781.6,662.4 780.1,662.4"/>
<path d="M780.1,598 783.6,598.1 787.1,598.5 790.6,599.2 793.6,600.1 796.6,601.2 799.6,602.8 802.4,604.5 805.1,606.6 807.6,609 809.7,611.5 811.4,614 813,617 814.3,620 815.2,623 815.8,626 816.1,629.5 815.9,632.9 815.5,635.9 814.8,638.9 813.7,641.9 812.3,644.9 810.8,647.4 808.9,649.9 806.6,652.4 804.1,654.6 801.1,656.8 798.2,658.4 795.1,659.8 792.1,660.8 788.6,661.7 785.1,662.2 781.6,662.4"/>
</g>
<clipPath id="cp5"><rect x="926.9" y="442.0" width="376.6" height="376.4"/></clipPath>
<g clip-path="url(#cp5)">
<path d="M1177.2,613.6 1179.6,611 1181.9,608 1183.8,605 1185.4,602 1186.5,599 1187.6,595.5 1188.1,592.5 1188.5,589 1188.4,585.5 1188,582.5 1187.3,579 1186.2,576 1184.8,573 1183.4,570.5 1181.5,568 1179.3,565.6 1176.7,563.3 1174.2,561.6 1171.7,560.1 1168.8,558.8 1165.8,557.9 1162.3,557.1 1159.3,556.8 1155.8,556.8 1152.3,557.2 1149.3,557.8 1145.8,558.9 1142.8,560.1 1139.9,561.7 1136.9,563.7 1134.4,565.6 1131.8,568"/>
<path d="M1077.3,703.3 1080.1,702.8 1083.1,702 1086.1,700.9 1088.5,699.8 1091.5,698.1 1094,696.4 1098.6,692.4"/>
<path d="M1053.2,646.8 1049.6,650.9 1046.6,655.4 1044.4,659.9 1042.8,664.9 1042,669.9 1042,674.9 1042.8,679.9 1044.4,684.9 1046.7,689.4 1049.7,693.3 1053.4,696.8 1057.7,699.7 1062.1,701.8 1067.1,703.1 1072.1,703.6 1077.3,703.3"/>
<path d="M1178.7,622.2 1185.8,619 1192,615.5 1197.6,611.5 1202.6,607 1207.2,602 1210.8,597 1213.8,591.5 1216.3,585.5 1217.9,579.5 1218.7,573 1218.7,566.6 1217.8,560.6 1216,554.6 1213.5,549.1 1210.1,543.7 1206.1,539.1 1201.5,535.1 1196.1,531.7 1190.7,529.2 1184.7,527.4 1178.7,526.5 1172.2,526.4 1165.8,527.3 1159.8,528.9 1153.8,531.3 1148.3,534.4 1143.3,538 1138.4,542.6 1133.9,547.7 1129.9,553.3 1126.4,559.4 1123.2,566.6"/>
<path d="M1060.2,733.8 1064.1,733.2 1067.6,732.4 1071.1,731.3 1074.6,730 1078.1,728.3 1081.6,726.3 1085.1,723.9 1088.1,721.5 1091,718.8 1094,715.7 1096.5,712.7 1099,709.4 1101.5,705.5 1103.5,702 1105.5,697.9 1107.2,693.8"/>
<path d="M1051.7,638.2 1047.2,640.1 1042.7,642.4 1038.4,644.9 1034.1,647.9 1030.4,650.9 1026.8,654.4 1023.6,657.9 1021,661.4 1018.7,664.9 1016.6,668.9 1014.6,673.4 1013.3,677.4 1012.4,681.4 1011.8,685.9 1011.6,690.4 1011.8,694.3 1012.4,698.8 1013.4,702.8 1014.8,706.8 1016.6,710.8 1018.8,714.6 1021.3,718 1024.3,721.3 1027.6,724.3 1031,726.8 1034.7,729 1038.7,730.9 1042.7,732.2 1046.7,733.2 1051.2,733.9 1055.7,734 1060.2,733.8"/>
<path d="M1051.7,622.2 1044.6,619 1038.4,615.5 1032.8,611.5 1027.8,607 1023.2,602 1019.6,597 1016.6,591.5 1014.1,585.5 1012.5,579.5 1011.7,573 1011.7,566.6 1012.6,560.6 1014.4,554.6 1016.9,549.1 1020.3,543.7 1024.3,539.1 1028.9,535.1 1034.3,531.7 1039.7,529.2 1045.7,527.4 1051.7,526.5 1058.2,526.4 1064.6,527.3 1070.6,528.9 1076.6,531.3 1082.1,534.4 1087.1,538 1092,542.6 1096.5,547.7 1100.5,553.3 1104,559.4 1107.2,566.6"/>
<path d="M1179.7,733.8 1175.7,734 1171.2,733.9 1167.3,733.4 1162.8,732.4 1158.3,731 1154.3,729.3 1150.3,727.2 1146.3,724.6 1142.8,722 1139.4,718.8 1135.9,715.1 1132.9,711.4 1129.9,707.1 1127.4,702.9 1125.1,698.3 1123.2,693.8"/>
<path d="M1178.7,638.2 1182.8,639.9 1187.2,642.1 1191.2,644.4 1194.9,646.9 1198.8,649.9 1202.1,652.9 1205,655.9 1208,659.4 1210.4,662.9 1212.6,666.4 1214.3,669.9 1215.9,673.9 1217.2,677.9 1218.1,681.9 1218.6,685.9 1218.8,689.9 1218.7,693.8 1218.2,697.8 1217.3,701.8 1216,705.8 1214.6,709.3 1212.7,712.8 1210.4,716.3 1208,719.3 1205.1,722.3 1202.1,724.8 1198.6,727.3 1195.2,729.3 1191.7,730.9 1187.7,732.2 1183.7,733.2 1179.7,733.8"/>
<path d="M1053.2,613.6 1050.8,611 1048.8,608.5 1046.9,605.5 1045.3,602.5 1044,599.5 1043,596 1042.3,593 1042,589.5 1042,586 1042.3,583 1043,579.5 1044,576.5 1045.3,573.5 1046.7,571 1048.5,568.5 1050.7,566 1053.2,563.7 1055.7,561.9 1058.2,560.4 1061.2,559 1064.1,558 1067.6,557.2 1070.6,556.9 1074.1,556.8 1077.6,557.1 1080.6,557.7 1084.1,558.7 1087.1,559.9 1090,561.4 1093,563.3 1096,565.6 1098.6,568"/>
<path d="M1161.8,703.3 1157.8,703.6 1153.8,703.4 1149.8,702.7 1145.8,701.5 1141.9,699.8 1138.4,697.8 1134.9,695.2 1131.8,692.4"/>
<path d="M1177.2,646.8 1180.5,650.4 1183.2,654.4 1185.4,658.4 1187,662.9 1188.1,667.4 1188.5,671.9 1188.3,676.4 1187.4,680.9 1186,684.9 1184,688.9 1181.2,692.8 1178.2,695.8 1174.7,698.5 1170.7,700.7 1166.3,702.4 1161.8,703.3"/>
</g>
</g>
<g fill="none" stroke="#1c1f3c" stroke-width="1.3">
<path d="M387.54,598.01 387.40,597.78 387.25,597.54 387.11,597.31 386.97,597.08 386.82,596.85 386.68,596.62 386.53,596.39 386.38,596.16 386.23,595.93 386.08,595.70 385.93,595.48 385.78,595.25 385.63,595.02 385.47,594.80 385.32,594.57 385.16,594.35 385.00,594.13 384.85,593.91 384.69,593.68 384.53,593.46 384.37,593.24 384.20,593.02 384.04,592.80 383.88,592.59 383.71,592.37 383.55,592.15 383.38,591.94 383.21,591.72 383.05,591.51 382.88,591.29 382.71,591.08 382.53,590.87 382.36,590.66 382.19,590.44 382.02,590.23 381.84,590.03 381.67,589.82 381.49,589.61 381.31,589.40 381.13,589.20 380.95,588.99 380.77,588.79 380.59,588.58 380.41,588.38 380.23,588.18 380.04,587.98 379.86,587.77 379.67,587.57 379.49,587.38 379.30,587.18 379.11,586.98 378.92,586.78 378.73,586.59 378.54,586.39 378.35,586.20 378.16,586.01 377.96,585.81 377.77,585.62 377.57,585.43 377.38,585.24 377.18,585.05 376.98,584.86 376.79,584.68 376.59,584.49 376.39,584.30 376.19,584.12 375.98,583.94 375.78,583.75 375.58,583.57 375.38,583.39 375.17,583.21 374.96,583.03 374.76,582.85 374.55,582.67 374.34,582.50 374.14,582.32 373.93,582.15 373.72,581.97 373.50,581.80 373.29,581.63 373.08,581.46 372.87,581.29 372.65,581.12 372.44,580.95 372.22,580.78 372.01,580.62 371.79,580.45 371.57,580.28 371.36,580.12 371.14,579.96 370.92,579.80 370.70,579.64 370.48,579.48 370.25,579.32 370.03,579.16 369.81,579.00 369.58,578.85 369.36,578.69 369.13,578.54 368.91,578.38 368.68,578.23 368.46,578.08 368.23,577.93 368.00,577.78 367.77,577.63 367.54,577.49 367.31,577.34 367.08,577.20 366.85,577.05 366.62,576.91 366.38,576.77 366.15,576.63 365.91,576.49 365.68,576.35 365.44,576.21 365.21,576.07 364.97,575.94 364.73,575.80 364.50,575.67 364.26,575.54 364.02,575.40 363.78,575.27 363.54,575.14 363.30,575.02 363.06,574.89 362.82,574.76 362.57,574.64 362.33,574.51 362.09,574.39 361.85,574.27 361.60,574.15 361.36,574.03 361.11,573.91 360.86,573.79 360.62,573.67 360.37,573.56 360.12,573.44 359.88,573.33 359.63,573.21 359.38,573.10 359.13,572.99 358.88,572.88 358.63,572.78 358.38,572.67 358.13,572.56 357.87,572.46 357.62,572.35 357.37,572.25 357.12,572.15 356.86,572.05 356.61,571.95 356.35,571.85 356.10,571.75 355.84,571.66 355.59,571.56 355.33,571.47 355.08,571.38 354.82,571.28 354.56,571.19 354.30,571.10 354.05,571.02 353.79,570.93 353.53,570.84 353.27,570.76 353.01,570.67 352.75,570.59 352.49,570.51 352.23,570.43 351.97,570.35 351.71,570.27 351.44,570.20 351.18,570.12 350.92,570.05 350.66,569.97 350.39,569.90 350.13,569.83 349.87,569.76 349.60,569.69 349.34,569.62 349.07,569.56 348.81,569.49 348.54,569.43 348.28,569.36 348.01,569.30 347.75,569.24 347.48,569.18 347.21,569.12 346.95,569.07 346.68,569.01 346.41,568.95 346.15,568.90 345.88,568.85 345.61,568.80 345.34,568.75 345.07,568.70 344.81,568.65 344.54,568.60 344.27,568.56 344.00,568.51 343.73,568.47 343.46,568.43 343.19,568.39 342.92,568.35 342.65,568.31 342.38,568.27 342.11,568.23 341.84,568.20 341.57,568.17 341.30,568.13 341.03,568.10 340.76,568.07 340.48,568.04 340.21,568.01 339.94,567.99 339.67,567.96 339.40,567.94 339.13,567.91 338.86,567.89 338.58,567.87 338.31,567.85 338.04,567.83 337.77,567.82 337.49,567.80 337.22,567.79 336.95,567.77 336.68,567.76 336.40,567.75 336.13,567.74 335.86,567.73 335.59,567.72 335.31,567.71 335.04,567.71 334.77,567.70 334.50,567.70 334.22,567.70 333.95,567.70 333.68,567.70 333.40,567.70 333.13,567.70 332.86,567.71 332.59,567.71 332.31,567.72 332.04,567.73 331.77,567.74 331.50,567.75 331.22,567.76 330.95,567.77 330.68,567.79 330.41,567.80 330.13,567.82 329.86,567.83 329.59,567.85 329.32,567.87 329.04,567.89 328.77,567.91 328.50,567.94 328.23,567.96 327.96,567.99 327.69,568.01 327.42,568.04 327.14,568.07 326.87,568.10 326.60,568.13 326.33,568.17 326.06,568.20 325.79,568.23 325.52,568.27 325.25,568.31 324.98,568.35 324.71,568.39 324.44,568.43 324.17,568.47 323.90,568.51 323.63,568.56 323.36,568.60 323.09,568.65 322.83,568.70 322.56,568.75 322.29,568.80 322.02,568.85 321.75,568.90 321.49,568.95 321.22,569.01 320.95,569.07 320.69,569.12 320.42,569.18 320.15,569.24 319.89,569.30 319.62,569.36 319.36,569.43 319.09,569.49 318.83,569.56 318.56,569.62 318.30,569.69 318.03,569.76 317.77,569.83 317.51,569.90 317.24,569.97 316.98,570.05 316.72,570.12 316.46,570.20 316.19,570.27 315.93,570.35 315.67,570.43 315.41,570.51 315.15,570.59 314.89,570.67 314.63,570.76 314.37,570.84 314.11,570.93 313.85,571.02 313.60,571.10 313.34,571.19 313.08,571.28 312.82,571.38 312.57,571.47 312.31,571.56 312.06,571.66 311.80,571.75 311.55,571.85 311.29,571.95 311.04,572.05 310.78,572.15 310.53,572.25 310.28,572.35 310.03,572.46 309.77,572.56 309.52,572.67 309.27,572.78 309.02,572.88 308.77,572.99 308.52,573.10 308.27,573.21 308.02,573.33 307.78,573.44 307.53,573.56 307.28,573.67 307.04,573.79 306.79,573.91 306.54,574.03 306.30,574.15 306.05,574.27 305.81,574.39 305.57,574.51 305.33,574.64 305.08,574.76 304.84,574.89 304.60,575.02 304.36,575.14 304.12,575.27 303.88,575.40 303.64,575.54 303.40,575.67 303.17,575.80 302.93,575.94 302.69,576.07 302.46,576.21 302.22,576.35 301.99,576.49 301.75,576.63 301.52,576.77 301.28,576.91 301.05,577.05 300.82,577.20 300.59,577.34 300.36,577.49 300.13,577.63 299.90,577.78 299.67,577.93 299.44,578.08 299.22,578.23 298.99,578.38 298.77,578.54 298.54,578.69 298.32,578.85 298.09,579.00 297.87,579.16 297.65,579.32 297.42,579.48 297.20,579.64 296.98,579.80 296.76,579.96 296.54,580.12 296.33,580.28 296.11,580.45 295.89,580.62 295.68,580.78 295.46,580.95 295.25,581.12 295.03,581.29 294.82,581.46 294.61,581.63 294.40,581.80 294.18,581.97 293.97,582.15 293.76,582.32 293.56,582.50 293.35,582.67 293.14,582.85 292.94,583.03 292.73,583.21 292.52,583.39 292.32,583.57 292.12,583.75 291.92,583.94 291.71,584.12 291.51,584.30 291.31,584.49 291.11,584.68 290.92,584.86 290.72,585.05 290.52,585.24 290.33,585.43 290.13,585.62 289.94,585.81 289.74,586.01 289.55,586.20 289.36,586.39 289.17,586.59 288.98,586.78 288.79,586.98 288.60,587.18 288.41,587.38 288.23,587.57 288.04,587.77 287.86,587.98 287.67,588.18 287.49,588.38 287.31,588.58 287.13,588.79 286.95,588.99 286.77,589.20 286.59,589.40 286.41,589.61 286.23,589.82 286.06,590.03 285.88,590.23 285.71,590.44 285.54,590.66 285.37,590.87 285.19,591.08 285.02,591.29 284.85,591.51 284.69,591.72 284.52,591.94 284.35,592.15 284.19,592.37 284.02,592.59 283.86,592.80 283.70,593.02 283.53,593.24 283.37,593.46 283.21,593.68 283.05,593.91 282.90,594.13 282.74,594.35 282.58,594.57 282.43,594.80 282.27,595.02 282.12,595.25 281.97,595.48 281.82,595.70 281.67,595.93 281.52,596.16 281.37,596.39 281.22,596.62 281.08,596.85 280.93,597.08 280.79,597.31 280.65,597.54 280.50,597.78 280.36,598.01"/>
<path d="M280.36,662.39 280.50,662.62 280.65,662.86 280.79,663.09 280.93,663.32 281.08,663.55 281.22,663.78 281.37,664.01 281.52,664.24 281.67,664.47 281.82,664.70 281.97,664.92 282.12,665.15 282.27,665.38 282.43,665.60 282.58,665.83 282.74,666.05 282.90,666.27 283.05,666.49 283.21,666.72 283.37,666.94 283.53,667.16 283.70,667.38 283.86,667.60 284.02,667.81 284.19,668.03 284.35,668.25 284.52,668.46 284.69,668.68 284.85,668.89 285.02,669.11 285.19,669.32 285.37,669.53 285.54,669.74 285.71,669.96 285.88,670.17 286.06,670.37 286.23,670.58 286.41,670.79 286.59,671.00 286.77,671.20 286.95,671.41 287.13,671.61 287.31,671.82 287.49,672.02 287.67,672.22 287.86,672.42 288.04,672.63 288.23,672.83 288.41,673.02 288.60,673.22 288.79,673.42 288.98,673.62 289.17,673.81 289.36,674.01 289.55,674.20 289.74,674.39 289.94,674.59 290.13,674.78 290.33,674.97 290.52,675.16 290.72,675.35 290.92,675.54 291.11,675.72 291.31,675.91 291.51,676.10 291.71,676.28 291.92,676.46 292.12,676.65 292.32,676.83 292.52,677.01 292.73,677.19 292.94,677.37 293.14,677.55 293.35,677.73 293.56,677.90 293.76,678.08 293.97,678.25 294.18,678.43 294.40,678.60 294.61,678.77 294.82,678.94 295.03,679.11 295.25,679.28 295.46,679.45 295.68,679.62 295.89,679.78 296.11,679.95 296.33,680.12 296.54,680.28 296.76,680.44 296.98,680.60 297.20,680.76 297.42,680.92 297.65,681.08 297.87,681.24 298.09,681.40 298.32,681.55 298.54,681.71 298.77,681.86 298.99,682.02 299.22,682.17 299.44,682.32 299.67,682.47 299.90,682.62 300.13,682.77 300.36,682.91 300.59,683.06 300.82,683.20 301.05,683.35 301.28,683.49 301.52,683.63 301.75,683.77 301.99,683.91 302.22,684.05 302.46,684.19 302.69,684.33 302.93,684.46 303.17,684.60 303.40,684.73 303.64,684.86 303.88,685.00 304.12,685.13 304.36,685.26 304.60,685.38 304.84,685.51 305.08,685.64 305.33,685.76 305.57,685.89 305.81,686.01 306.05,686.13 306.30,686.25 306.54,686.37 306.79,686.49 307.04,686.61 307.28,686.73 307.53,686.84 307.78,686.96 308.02,687.07 308.27,687.19 308.52,687.30 308.77,687.41 309.02,687.52 309.27,687.62 309.52,687.73 309.77,687.84 310.03,687.94 310.28,688.05 310.53,688.15 310.78,688.25 311.04,688.35 311.29,688.45 311.55,688.55 311.80,688.65 312.06,688.74 312.31,688.84 312.57,688.93 312.82,689.02 313.08,689.12 313.34,689.21 313.60,689.30 313.85,689.38 314.11,689.47 314.37,689.56 314.63,689.64 314.89,689.73 315.15,689.81 315.41,689.89 315.67,689.97 315.93,690.05 316.19,690.13 316.46,690.20 316.72,690.28 316.98,690.35 317.24,690.43 317.51,690.50 317.77,690.57 318.03,690.64 318.30,690.71 318.56,690.78 318.83,690.84 319.09,690.91 319.36,690.97 319.62,691.04 319.89,691.10 320.15,691.16 320.42,691.22 320.69,691.28 320.95,691.33 321.22,691.39 321.49,691.45 321.75,691.50 322.02,691.55 322.29,691.60 322.56,691.65 322.83,691.70 323.09,691.75 323.36,691.80 323.63,691.84 323.90,691.89 324.17,691.93 324.44,691.97 324.71,692.01 324.98,692.05 325.25,692.09 325.52,692.13 325.79,692.17 326.06,692.20 326.33,692.23 326.60,692.27 326.87,692.30 327.14,692.33 327.42,692.36 327.69,692.39 327.96,692.41 328.23,692.44 328.50,692.46 328.77,692.49 329.04,692.51 329.32,692.53 329.59,692.55 329.86,692.57 330.13,692.58 330.41,692.60 330.68,692.61 330.95,692.63 331.22,692.64 331.50,692.65 331.77,692.66 332.04,692.67 332.31,692.68 332.59,692.69 332.86,692.69 333.13,692.70 333.40,692.70 333.68,692.70 333.95,692.70 334.22,692.70 334.50,692.70 334.77,692.70 335.04,692.69 335.31,692.69 335.59,692.68 335.86,692.67 336.13,692.66 336.40,692.65 336.68,692.64 336.95,692.63 337.22,692.61 337.49,692.60 337.77,692.58 338.04,692.57 338.31,692.55 338.58,692.53 338.86,692.51 339.13,692.49 339.40,692.46 339.67,692.44 339.94,692.41 340.21,692.39 340.48,692.36 340.76,692.33 341.03,692.30 341.30,692.27 341.57,692.23 341.84,692.20 342.11,692.17 342.38,692.13 342.65,692.09 342.92,692.05 343.19,692.01 343.46,691.97 343.73,691.93 344.00,691.89 344.27,691.84 344.54,691.80 344.81,691.75 345.07,691.70 345.34,691.65 345.61,691.60 345.88,691.55 346.15,691.50 346.41,691.45 346.68,691.39 346.95,691.33 347.21,691.28 347.48,691.22 347.75,691.16 348.01,691.10 348.28,691.04 348.54,690.97 348.81,690.91 349.07,690.84 349.34,690.78 349.60,690.71 349.87,690.64 350.13,690.57 350.39,690.50 350.66,690.43 350.92,690.35 351.18,690.28 351.44,690.20 351.71,690.13 351.97,690.05 352.23,689.97 352.49,689.89 352.75,689.81 353.01,689.73 353.27,689.64 353.53,689.56 353.79,689.47 354.05,689.38 354.30,689.30 354.56,689.21 354.82,689.12 355.08,689.02 355.33,688.93 355.59,688.84 355.84,688.74 356.10,688.65 356.35,688.55 356.61,688.45 356.86,688.35 357.12,688.25 357.37,688.15 357.62,688.05 357.87,687.94 358.13,687.84 358.38,687.73 358.63,687.62 358.88,687.52 359.13,687.41 359.38,687.30 359.63,687.19 359.88,687.07 360.12,686.96 360.37,686.84 360.62,686.73 360.86,686.61 361.11,686.49 361.36,686.37 361.60,686.25 361.85,686.13 362.09,686.01 362.33,685.89 362.57,685.76 362.82,685.64 363.06,685.51 363.30,685.38 363.54,685.26 363.78,685.13 364.02,685.00 364.26,684.86 364.50,684.73 364.73,684.60 364.97,684.46 365.21,684.33 365.44,684.19 365.68,684.05 365.91,683.91 366.15,683.77 366.38,683.63 366.62,683.49 366.85,683.35 367.08,683.20 367.31,683.06 367.54,682.91 367.77,682.77 368.00,682.62 368.23,682.47 368.46,682.32 368.68,682.17 368.91,682.02 369.13,681.86 369.36,681.71 369.58,681.55 369.81,681.40 370.03,681.24 370.25,681.08 370.48,680.92 370.70,680.76 370.92,680.60 371.14,680.44 371.36,680.28 371.57,680.12 371.79,679.95 372.01,679.78 372.22,679.62 372.44,679.45 372.65,679.28 372.87,679.11 373.08,678.94 373.29,678.77 373.50,678.60 373.72,678.43 373.93,678.25 374.14,678.08 374.34,677.90 374.55,677.73 374.76,677.55 374.96,677.37 375.17,677.19 375.38,677.01 375.58,676.83 375.78,676.65 375.98,676.46 376.19,676.28 376.39,676.10 376.59,675.91 376.79,675.72 376.98,675.54 377.18,675.35 377.38,675.16 377.57,674.97 377.77,674.78 377.96,674.59 378.16,674.39 378.35,674.20 378.54,674.01 378.73,673.81 378.92,673.62 379.11,673.42 379.30,673.22 379.49,673.02 379.67,672.83 379.86,672.63 380.04,672.42 380.23,672.22 380.41,672.02 380.59,671.82 380.77,671.61 380.95,671.41 381.13,671.20 381.31,671.00 381.49,670.79 381.67,670.58 381.84,670.37 382.02,670.17 382.19,669.96 382.36,669.74 382.53,669.53 382.71,669.32 382.88,669.11 383.05,668.89 383.21,668.68 383.38,668.46 383.55,668.25 383.71,668.03 383.88,667.81 384.04,667.60 384.20,667.38 384.37,667.16 384.53,666.94 384.69,666.72 384.85,666.49 385.00,666.27 385.16,666.05 385.32,665.83 385.47,665.60 385.63,665.38 385.78,665.15 385.93,664.92 386.08,664.70 386.23,664.47 386.38,664.24 386.53,664.01 386.68,663.78 386.82,663.55 386.97,663.32 387.11,663.09 387.25,662.86 387.40,662.62 387.54,662.39"/>
<path d="M692.83,576.63 692.59,576.77 692.36,576.91 692.13,577.05 691.90,577.20 691.67,577.34 691.44,577.49 691.21,577.63 690.98,577.78 690.75,577.93 690.52,578.08 690.29,578.23 690.07,578.38 689.84,578.54 689.62,578.69 689.39,578.85 689.17,579.00 688.95,579.16 688.72,579.32 688.50,579.48 688.28,579.64 688.06,579.80 687.84,579.96 687.62,580.12 687.41,580.28 687.19,580.45 686.97,580.62 686.76,580.78 686.54,580.95 686.33,581.12 686.11,581.29 685.90,581.46 685.69,581.63 685.48,581.80 685.27,581.97 685.06,582.15 684.85,582.32 684.64,582.50 684.43,582.67 684.22,582.85 684.02,583.03 683.81,583.21 683.61,583.39 683.40,583.57 683.20,583.75 683.00,583.94 682.80,584.12 682.60,584.30 682.40,584.49 682.20,584.68 682.00,584.86 681.80,585.05 681.61,585.24 681.41,585.43 681.22,585.62 681.02,585.81 680.83,586.01 680.64,586.20 680.45,586.39 680.25,586.59 680.06,586.78 679.88,586.98 679.69,587.18 679.50,587.38 679.31,587.57 679.13,587.77 678.94,587.98 678.76,588.18 678.58,588.38 678.40,588.58 678.21,588.79 678.03,588.99 677.86,589.20 677.68,589.40 677.50,589.61 677.32,589.82 677.15,590.03 676.97,590.23 676.80,590.44 676.63,590.66 676.45,590.87 676.28,591.08 676.11,591.29 675.94,591.51 675.77,591.72 675.61,591.94 675.44,592.15 675.28,592.37 675.11,592.59 674.95,592.80 674.79,593.02 674.62,593.24 674.46,593.46 674.30,593.68 674.14,593.91 673.99,594.13 673.83,594.35 673.67,594.57 673.52,594.80 673.36,595.02 673.21,595.25 673.06,595.48 672.91,595.70 672.76,595.93 672.61,596.16 672.46,596.39 672.32,596.62 672.17,596.85 672.02,597.08 671.88,597.31 671.74,597.54 671.60,597.78 671.45,598.01 671.32,598.24 671.18,598.48 671.04,598.71 670.90,598.95 670.77,599.19 670.63,599.42 670.50,599.66 670.36,599.90 670.23,600.14 670.10,600.38 669.97,600.62 669.84,600.86 669.72,601.10 669.59,601.34 669.47,601.58 669.34,601.83 669.22,602.07 669.10,602.31 668.97,602.56 668.85,602.80 668.74,603.05 668.62,603.29 668.50,603.54 668.39,603.79 668.27,604.03 668.16,604.28 668.04,604.53 667.93,604.78 667.82,605.03 667.71,605.28 667.61,605.53 667.50,605.78 667.39,606.03 667.29,606.28 667.18,606.53 667.08,606.79 666.98,607.04 666.88,607.29 666.78,607.55 666.68,607.80 666.58,608.06 666.49,608.31 666.39,608.57 666.30,608.82 666.21,609.08 666.12,609.34 666.03,609.59 665.94,609.85 665.85,610.11 665.76,610.37 665.67,610.63 665.59,610.89 665.51,611.15 665.42,611.41 665.34,611.67 665.26,611.93 665.18,612.19 665.10,612.45 665.03,612.71 664.95,612.97 664.88,613.23 664.80,613.50 664.73,613.76 664.66,614.02 664.59,614.29 664.52,614.55 664.45,614.82 664.39,615.08 664.32,615.34 664.26,615.61 664.20,615.87 664.13,616.14 664.07,616.41 664.01,616.67 663.95,616.94 663.90,617.21 663.84,617.47 663.79,617.74 663.73,618.01 663.68,618.27 663.63,618.54 663.58,618.81 663.53,619.08 663.48,619.35 663.43,619.62 663.39,619.88 663.34,620.15 663.30,620.42 663.26,620.69 663.22,620.96 663.18,621.23 663.14,621.50 663.10,621.77 663.07,622.04 663.03,622.31 663.00,622.58 662.97,622.85 662.93,623.12 662.90,623.40 662.87,623.67 662.85,623.94 662.82,624.21 662.79,624.48 662.77,624.75 662.75,625.02 662.73,625.30 662.70,625.57 662.68,625.84 662.67,626.11 662.65,626.38 662.63,626.66 662.62,626.93 662.60,627.20 662.59,627.47 662.58,627.75 662.57,628.02 662.56,628.29 662.55,628.56 662.55,628.84 662.54,629.11 662.54,629.38 662.53,629.65 662.53,629.93 662.53,630.20 662.53,630.47 662.53,630.75 662.54,631.02 662.54,631.29 662.55,631.56 662.55,631.84 662.56,632.11 662.57,632.38 662.58,632.65 662.59,632.93 662.60,633.20 662.62,633.47 662.63,633.74 662.65,634.02 662.67,634.29 662.68,634.56 662.70,634.83 662.73,635.10 662.75,635.38 662.77,635.65 662.79,635.92 662.82,636.19 662.85,636.46 662.87,636.73 662.90,637.00 662.93,637.28 662.97,637.55 663.00,637.82 663.03,638.09 663.07,638.36 663.10,638.63 663.14,638.90 663.18,639.17 663.22,639.44 663.26,639.71 663.30,639.98 663.34,640.25 663.39,640.52 663.43,640.78 663.48,641.05 663.53,641.32 663.58,641.59 663.63,641.86 663.68,642.13 663.73,642.39 663.79,642.66 663.84,642.93 663.90,643.19 663.95,643.46 664.01,643.73 664.07,643.99 664.13,644.26 664.20,644.53 664.26,644.79 664.32,645.06 664.39,645.32 664.45,645.58 664.52,645.85 664.59,646.11 664.66,646.38 664.73,646.64 664.80,646.90 664.88,647.17 664.95,647.43 665.03,647.69 665.10,647.95 665.18,648.21 665.26,648.47 665.34,648.73 665.42,648.99 665.51,649.25 665.59,649.51 665.67,649.77 665.76,650.03 665.85,650.29 665.94,650.55 666.03,650.81 666.12,651.06 666.21,651.32 666.30,651.58 666.39,651.83 666.49,652.09 666.58,652.34 666.68,652.60 666.78,652.85 666.88,653.11 666.98,653.36 667.08,653.61 667.18,653.87 667.29,654.12 667.39,654.37 667.50,654.62 667.61,654.87 667.71,655.12 667.82,655.37 667.93,655.62 668.04,655.87 668.16,656.12 668.27,656.37 668.39,656.61 668.50,656.86 668.62,657.11 668.74,657.35 668.85,657.60 668.97,657.84 669.10,658.09 669.22,658.33 669.34,658.57 669.47,658.82 669.59,659.06 669.72,659.30 669.84,659.54 669.97,659.78 670.10,660.02 670.23,660.26 670.36,660.50 670.50,660.74 670.63,660.98 670.77,661.21 670.90,661.45 671.04,661.69 671.18,661.92 671.32,662.16 671.45,662.39 671.60,662.62 671.74,662.86 671.88,663.09 672.02,663.32 672.17,663.55 672.32,663.78 672.46,664.01 672.61,664.24 672.76,664.47 672.91,664.70 673.06,664.92 673.21,665.15 673.36,665.38 673.52,665.60 673.67,665.83 673.83,666.05 673.99,666.27 674.14,666.49 674.30,666.72 674.46,666.94 674.62,667.16 674.79,667.38 674.95,667.60 675.11,667.81 675.28,668.03 675.44,668.25 675.61,668.46 675.77,668.68 675.94,668.89 676.11,669.11 676.28,669.32 676.45,669.53 676.63,669.74 676.80,669.96 676.97,670.17 677.15,670.37 677.32,670.58 677.50,670.79 677.68,671.00 677.86,671.20 678.03,671.41 678.21,671.61 678.40,671.82 678.58,672.02 678.76,672.22 678.94,672.42 679.13,672.63 679.31,672.83 679.50,673.02 679.69,673.22 679.88,673.42 680.06,673.62 680.25,673.81 680.45,674.01 680.64,674.20 680.83,674.39 681.02,674.59 681.22,674.78 681.41,674.97 681.61,675.16 681.80,675.35 682.00,675.54 682.20,675.72 682.40,675.91 682.60,676.10 682.80,676.28 683.00,676.46 683.20,676.65 683.40,676.83 683.61,677.01 683.81,677.19 684.02,677.37 684.22,677.55 684.43,677.73 684.64,677.90 684.85,678.08 685.06,678.25 685.27,678.43 685.48,678.60 685.69,678.77 685.90,678.94 686.11,679.11 686.33,679.28 686.54,679.45 686.76,679.62 686.97,679.78 687.19,679.95 687.41,680.12 687.62,680.28 687.84,680.44 688.06,680.60 688.28,680.76 688.50,680.92 688.72,681.08 688.95,681.24 689.17,681.40 689.39,681.55 689.62,681.71 689.84,681.86 690.07,682.02 690.29,682.17 690.52,682.32 690.75,682.47 690.98,682.62 691.21,682.77 691.44,682.91 691.67,683.06 691.90,683.20 692.13,683.35 692.36,683.49 692.59,683.63 692.83,683.77"/>
<path d="M757.17,683.77 757.41,683.63 757.64,683.49 757.87,683.35 758.10,683.20 758.33,683.06 758.56,682.91 758.79,682.77 759.02,682.62 759.25,682.47 759.48,682.32 759.71,682.17 759.93,682.02 760.16,681.86 760.38,681.71 760.61,681.55 760.83,681.40 761.05,681.24 761.28,681.08 761.50,680.92 761.72,680.76 761.94,680.60 762.16,680.44 762.38,680.28 762.59,680.12 762.81,679.95 763.03,679.78 763.24,679.62 763.46,679.45 763.67,679.28 763.89,679.11 764.10,678.94 764.31,678.77 764.52,678.60 764.73,678.43 764.94,678.25 765.15,678.08 765.36,677.90 765.57,677.73 765.78,677.55 765.98,677.37 766.19,677.19 766.39,677.01 766.60,676.83 766.80,676.65 767.00,676.46 767.20,676.28 767.40,676.10 767.60,675.91 767.80,675.72 768.00,675.54 768.20,675.35 768.39,675.16 768.59,674.97 768.78,674.78 768.98,674.59 769.17,674.39 769.36,674.20 769.55,674.01 769.75,673.81 769.94,673.62 770.12,673.42 770.31,673.22 770.50,673.02 770.69,672.83 770.87,672.63 771.06,672.42 771.24,672.22 771.42,672.02 771.60,671.82 771.79,671.61 771.97,671.41 772.14,671.20 772.32,671.00 772.50,670.79 772.68,670.58 772.85,670.37 773.03,670.17 773.20,669.96 773.37,669.74 773.55,669.53 773.72,669.32 773.89,669.11 774.06,668.89 774.23,668.68 774.39,668.46 774.56,668.25 774.72,668.03 774.89,667.81 775.05,667.60 775.21,667.38 775.38,667.16 775.54,666.94 775.70,666.72 775.86,666.49 776.01,666.27 776.17,666.05 776.33,665.83 776.48,665.60 776.64,665.38 776.79,665.15 776.94,664.92 777.09,664.70 777.24,664.47 777.39,664.24 777.54,664.01 777.68,663.78 777.83,663.55 777.98,663.32 778.12,663.09 778.26,662.86 778.40,662.62 778.55,662.39 778.68,662.16 778.82,661.92 778.96,661.69 779.10,661.45 779.23,661.21 779.37,660.98 779.50,660.74 779.64,660.50 779.77,660.26 779.90,660.02 780.03,659.78 780.16,659.54 780.28,659.30 780.41,659.06 780.53,658.82 780.66,658.57 780.78,658.33 780.90,658.09 781.03,657.84 781.15,657.60 781.26,657.35 781.38,657.11 781.50,656.86 781.61,656.61 781.73,656.37 781.84,656.12 781.96,655.87 782.07,655.62 782.18,655.37 782.29,655.12 782.39,654.87 782.50,654.62 782.61,654.37 782.71,654.12 782.82,653.87 782.92,653.61 783.02,653.36 783.12,653.11 783.22,652.85 783.32,652.60 783.42,652.34 783.51,652.09 783.61,651.83 783.70,651.58 783.79,651.32 783.88,651.06 783.97,650.81 784.06,650.55 784.15,650.29 784.24,650.03 784.33,649.77 784.41,649.51 784.49,649.25 784.58,648.99 784.66,648.73 784.74,648.47 784.82,648.21 784.90,647.95 784.97,647.69 785.05,647.43 785.12,647.17 785.20,646.90 785.27,646.64 785.34,646.38 785.41,646.11 785.48,645.85 785.55,645.58 785.61,645.32 785.68,645.06 785.74,644.79 785.80,644.53 785.87,644.26 785.93,643.99 785.99,643.73 786.05,643.46 786.10,643.19 786.16,642.93 786.21,642.66 786.27,642.39 786.32,642.13 786.37,641.86 786.42,641.59 786.47,641.32 786.52,641.05 786.57,640.78 786.61,640.52 786.66,640.25 786.70,639.98 786.74,639.71 786.78,639.44 786.82,639.17 786.86,638.90 786.90,638.63 786.93,638.36 786.97,638.09 787.00,637.82 787.03,637.55 787.07,637.28 787.10,637.00 787.13,636.73 787.15,636.46 787.18,636.19 787.21,635.92 787.23,635.65 787.25,635.38 787.27,635.10 787.30,634.83 787.32,634.56 787.33,634.29 787.35,634.02 787.37,633.74 787.38,633.47 787.40,633.20 787.41,632.93 787.42,632.65 787.43,632.38 787.44,632.11 787.45,631.84 787.45,631.56 787.46,631.29 787.46,631.02 787.47,630.75 787.47,630.47 787.47,630.20 787.47,629.93 787.47,629.65 787.46,629.38 787.46,629.11 787.45,628.84 787.45,628.56 787.44,628.29 787.43,628.02 787.42,627.75 787.41,627.47 787.40,627.20 787.38,626.93 787.37,626.66 787.35,626.38 787.33,626.11 787.32,625.84 787.30,625.57 787.27,625.30 787.25,625.02 787.23,624.75 787.21,624.48 787.18,624.21 787.15,623.94 787.13,623.67 787.10,623.40 787.07,623.12 787.03,622.85 787.00,622.58 786.97,622.31 786.93,622.04 786.90,621.77 786.86,621.50 786.82,621.23 786.78,620.96 786.74,620.69 786.70,620.42 786.66,620.15 786.61,619.88 786.57,619.62 786.52,619.35 786.47,619.08 786.42,618.81 786.37,618.54 786.32,618.27 786.27,618.01 786.21,617.74 786.16,617.47 786.10,617.21 786.05,616.94 785.99,616.67 785.93,616.41 785.87,616.14 785.80,615.87 785.74,615.61 785.68,615.34 785.61,615.08 785.55,614.82 785.48,614.55 785.41,614.29 785.34,614.02 785.27,613.76 785.20,613.50 785.12,613.23 785.05,612.97 784.97,612.71 784.90,612.45 784.82,612.19 784.74,611.93 784.66,611.67 784.58,611.41 784.49,611.15 784.41,610.89 784.33,610.63 784.24,610.37 784.15,610.11 784.06,609.85 783.97,609.59 783.88,609.34 783.79,609.08 783.70,608.82 783.61,608.57 783.51,608.31 783.42,608.06 783.32,607.80 783.22,607.55 783.12,607.29 783.02,607.04 782.92,606.79 782.82,606.53 782.71,606.28 782.61,606.03 782.50,605.78 782.39,605.53 782.29,605.28 782.18,605.03 782.07,604.78 781.96,604.53 781.84,604.28 781.73,604.03 781.61,603.79 781.50,603.54 781.38,603.29 781.26,603.05 781.15,602.80 781.03,602.56 780.90,602.31 780.78,602.07 780.66,601.83 780.53,601.58 780.41,601.34 780.28,601.10 780.16,600.86 780.03,600.62 779.90,600.38 779.77,600.14 779.64,599.90 779.50,599.66 779.37,599.42 779.23,599.19 779.10,598.95 778.96,598.71 778.82,598.48 778.68,598.24 778.55,598.01 778.40,597.78 778.26,597.54 778.12,597.31 777.98,597.08 777.83,596.85 777.68,596.62 777.54,596.39 777.39,596.16 777.24,595.93 777.09,595.70 776.94,595.48 776.79,595.25 776.64,595.02 776.48,594.80 776.33,594.57 776.17,594.35 776.01,594.13 775.86,593.91 775.70,593.68 775.54,593.46 775.38,593.24 775.21,593.02 775.05,592.80 774.89,592.59 774.72,592.37 774.56,592.15 774.39,591.94 774.23,591.72 774.06,591.51 773.89,591.29 773.72,591.08 773.55,590.87 773.37,590.66 773.20,590.44 773.03,590.23 772.85,590.03 772.68,589.82 772.50,589.61 772.32,589.40 772.14,589.20 771.97,588.99 771.79,588.79 771.60,588.58 771.42,588.38 771.24,588.18 771.06,587.98 770.87,587.77 770.69,587.57 770.50,587.38 770.31,587.18 770.12,586.98 769.94,586.78 769.75,586.59 769.55,586.39 769.36,586.20 769.17,586.01 768.98,585.81 768.78,585.62 768.59,585.43 768.39,585.24 768.20,585.05 768.00,584.86 767.80,584.68 767.60,584.49 767.40,584.30 767.20,584.12 767.00,583.94 766.80,583.75 766.60,583.57 766.39,583.39 766.19,583.21 765.98,583.03 765.78,582.85 765.57,582.67 765.36,582.50 765.15,582.32 764.94,582.15 764.73,581.97 764.52,581.80 764.31,581.63 764.10,581.46 763.89,581.29 763.67,581.12 763.46,580.95 763.24,580.78 763.03,580.62 762.81,580.45 762.59,580.28 762.38,580.12 762.16,579.96 761.94,579.80 761.72,579.64 761.50,579.48 761.28,579.32 761.05,579.16 760.83,579.00 760.61,578.85 760.38,578.69 760.16,578.54 759.93,578.38 759.71,578.23 759.48,578.08 759.25,577.93 759.02,577.78 758.79,577.63 758.56,577.49 758.33,577.34 758.10,577.20 757.87,577.05 757.64,576.91 757.41,576.77 757.17,576.63"/>
<path d="M1177.10,622.58 1177.07,622.31 1177.03,622.04 1177.00,621.77 1176.96,621.50 1176.92,621.23 1176.88,620.96 1176.84,620.69 1176.80,620.42 1176.76,620.15 1176.71,619.88 1176.67,619.62 1176.62,619.35 1176.57,619.08 1176.52,618.81 1176.47,618.54 1176.42,618.27 1176.37,618.01 1176.32,617.74 1176.26,617.47 1176.21,617.21 1176.15,616.94 1176.09,616.67 1176.03,616.41 1175.97,616.14 1175.91,615.87 1175.84,615.61 1175.78,615.34 1175.72,615.08 1175.65,614.82 1175.58,614.55 1175.51,614.29 1175.44,614.02 1175.37,613.76 1175.30,613.50 1175.23,613.23 1175.15,612.97 1175.08,612.71 1175.00,612.45 1174.92,612.19 1174.84,611.93 1174.76,611.67 1174.68,611.41 1174.60,611.15 1174.52,610.89 1174.43,610.63 1174.35,610.37 1174.26,610.11 1174.17,609.85 1174.08,609.59 1173.99,609.34 1173.90,609.08 1173.81,608.82 1173.71,608.57 1173.62,608.31 1173.52,608.06 1173.43,607.80 1173.33,607.55 1173.23,607.29 1173.13,607.04 1173.03,606.79 1172.92,606.53 1172.82,606.28 1172.72,606.03 1172.61,605.78 1172.50,605.53 1172.40,605.28 1172.29,605.03 1172.18,604.78 1172.06,604.53 1171.95,604.28 1171.84,604.03 1171.72,603.79 1171.61,603.54 1171.49,603.29 1171.37,603.05 1171.26,602.80 1171.14,602.56 1171.02,602.31 1170.89,602.07 1170.77,601.83 1170.65,601.58 1170.52,601.34 1170.40,601.10 1170.27,600.86 1170.14,600.62 1170.01,600.38 1169.88,600.14 1169.75,599.90 1169.62,599.66 1169.48,599.42 1169.35,599.19 1169.21,598.95 1169.08,598.71 1168.94,598.48 1168.80,598.24 1168.66,598.01 1168.52,597.78 1168.38,597.54 1168.23,597.31 1168.09,597.08 1167.95,596.85 1167.80,596.62 1167.65,596.39 1167.51,596.16 1167.36,595.93 1167.21,595.70 1167.06,595.48 1166.91,595.25 1166.75,595.02 1166.60,594.80 1166.44,594.57 1166.29,594.35 1166.13,594.13 1165.97,593.91 1165.82,593.68 1165.66,593.46 1165.50,593.24 1165.34,593.02 1165.17,592.80 1165.01,592.59 1164.85,592.37 1164.68,592.15 1164.51,591.94 1164.35,591.72 1164.18,591.51 1164.01,591.29 1163.84,591.08 1163.67,590.87 1163.50,590.66 1163.32,590.44 1163.15,590.23 1162.98,590.03 1162.80,589.82 1162.63,589.61 1162.45,589.40 1162.27,589.20 1162.09,588.99 1161.91,588.79 1161.73,588.58 1161.55,588.38 1161.37,588.18 1161.18,587.98 1161.00,587.77 1160.81,587.57 1160.63,587.38 1160.44,587.18 1160.25,586.98 1160.06,586.78 1159.87,586.59 1159.68,586.39 1159.49,586.20 1159.30,586.01 1159.11,585.81 1158.91,585.62 1158.72,585.43 1158.52,585.24 1158.33,585.05 1158.13,584.86 1157.93,584.68 1157.73,584.49 1157.54,584.30 1157.34,584.12 1157.13,583.94 1156.93,583.75 1156.73,583.57 1156.53,583.39 1156.32,583.21 1156.12,583.03 1155.91,582.85 1155.70,582.67 1155.50,582.50 1155.29,582.32 1155.08,582.15 1154.87,581.97 1154.66,581.80 1154.45,581.63 1154.24,581.46 1154.03,581.29 1153.81,581.12 1153.60,580.95 1153.38,580.78 1153.17,580.62 1152.95,580.45 1152.73,580.28 1152.52,580.12 1152.30,579.96 1152.08,579.80 1151.86,579.64 1151.64,579.48 1151.42,579.32 1151.20,579.16 1150.97,579.00 1150.75,578.85 1150.53,578.69 1150.30,578.54 1150.08,578.38 1149.85,578.23 1149.62,578.08 1149.40,577.93 1149.17,577.78 1148.94,577.63 1148.71,577.49 1148.48,577.34 1148.25,577.20 1148.02,577.05 1147.79,576.91 1147.55,576.77 1147.32,576.63 1147.09,576.49 1146.85,576.35 1146.62,576.21 1146.38,576.07 1146.15,575.94 1145.91,575.80 1145.67,575.67 1145.44,575.54 1145.20,575.40 1144.96,575.27 1144.72,575.14 1144.48,575.02 1144.24,574.89 1144.00,574.76 1143.76,574.64 1143.51,574.51 1143.27,574.39 1143.03,574.27 1142.78,574.15 1142.54,574.03 1142.30,573.91 1142.05,573.79 1141.80,573.67 1141.56,573.56 1141.31,573.44 1141.06,573.33 1140.82,573.21 1140.57,573.10 1140.32,572.99 1140.07,572.88 1139.82,572.78 1139.57,572.67 1139.32,572.56 1139.07,572.46 1138.82,572.35 1138.56,572.25 1138.31,572.15 1138.06,572.05 1137.80,571.95 1137.55,571.85 1137.30,571.75 1137.04,571.66 1136.79,571.56 1136.53,571.47 1136.28,571.38 1136.02,571.28 1135.76,571.19 1135.51,571.10 1135.25,571.02 1134.99,570.93 1134.73,570.84 1134.47,570.76 1134.21,570.67 1133.95,570.59 1133.69,570.51 1133.43,570.43 1133.17,570.35 1132.91,570.27 1132.65,570.20 1132.39,570.12 1132.13,570.05 1131.87,569.97 1131.60,569.90 1131.34,569.83 1131.08,569.76 1130.82,569.69 1130.55,569.62 1130.29,569.56 1130.02,569.49 1129.76,569.43 1129.49,569.36 1129.23,569.30 1128.96,569.24 1128.70,569.18 1128.43,569.12 1128.17,569.07 1127.90,569.01 1127.63,568.95 1127.37,568.90 1127.10,568.85 1126.83,568.80 1126.57,568.75 1126.30,568.70 1126.03,568.65 1125.76,568.60 1125.49,568.56 1125.23,568.51 1124.96,568.47 1124.69,568.43 1124.42,568.39 1124.15,568.35 1123.88,568.31 1123.61,568.27 1123.34,568.23 1123.07,568.20 1122.80,568.17"/>
<path d="M1107.60,568.17 1107.33,568.20 1107.06,568.23 1106.79,568.27 1106.52,568.31 1106.25,568.35 1105.98,568.39 1105.71,568.43 1105.44,568.47 1105.17,568.51 1104.91,568.56 1104.64,568.60 1104.37,568.65 1104.10,568.70 1103.83,568.75 1103.57,568.80 1103.30,568.85 1103.03,568.90 1102.77,568.95 1102.50,569.01 1102.23,569.07 1101.97,569.12 1101.70,569.18 1101.44,569.24 1101.17,569.30 1100.91,569.36 1100.64,569.43 1100.38,569.49 1100.11,569.56 1099.85,569.62 1099.58,569.69 1099.32,569.76 1099.06,569.83 1098.80,569.90 1098.53,569.97 1098.27,570.05 1098.01,570.12 1097.75,570.20 1097.49,570.27 1097.23,570.35 1096.97,570.43 1096.71,570.51 1096.45,570.59 1096.19,570.67 1095.93,570.76 1095.67,570.84 1095.41,570.93 1095.15,571.02 1094.89,571.10 1094.64,571.19 1094.38,571.28 1094.12,571.38 1093.87,571.47 1093.61,571.56 1093.36,571.66 1093.10,571.75 1092.85,571.85 1092.60,571.95 1092.34,572.05 1092.09,572.15 1091.84,572.25 1091.58,572.35 1091.33,572.46 1091.08,572.56 1090.83,572.67 1090.58,572.78 1090.33,572.88 1090.08,572.99 1089.83,573.10 1089.58,573.21 1089.34,573.33 1089.09,573.44 1088.84,573.56 1088.60,573.67 1088.35,573.79 1088.10,573.91 1087.86,574.03 1087.62,574.15 1087.37,574.27 1087.13,574.39 1086.89,574.51 1086.64,574.64 1086.40,574.76 1086.16,574.89 1085.92,575.02 1085.68,575.14 1085.44,575.27 1085.20,575.40 1084.96,575.54 1084.73,575.67 1084.49,575.80 1084.25,575.94 1084.02,576.07 1083.78,576.21 1083.55,576.35 1083.31,576.49 1083.08,576.63 1082.85,576.77 1082.61,576.91 1082.38,577.05 1082.15,577.20 1081.92,577.34 1081.69,577.49 1081.46,577.63 1081.23,577.78 1081.00,577.93 1080.78,578.08 1080.55,578.23 1080.32,578.38 1080.10,578.54 1079.87,578.69 1079.65,578.85 1079.43,579.00 1079.20,579.16 1078.98,579.32 1078.76,579.48 1078.54,579.64 1078.32,579.80 1078.10,579.96 1077.88,580.12 1077.67,580.28 1077.45,580.45 1077.23,580.62 1077.02,580.78 1076.80,580.95 1076.59,581.12 1076.37,581.29 1076.16,581.46 1075.95,581.63 1075.74,581.80 1075.53,581.97 1075.32,582.15 1075.11,582.32 1074.90,582.50 1074.70,582.67 1074.49,582.85 1074.28,583.03 1074.08,583.21 1073.87,583.39 1073.67,583.57 1073.47,583.75 1073.27,583.94 1073.06,584.12 1072.86,584.30 1072.67,584.49 1072.47,584.68 1072.27,584.86 1072.07,585.05 1071.88,585.24 1071.68,585.43 1071.49,585.62 1071.29,585.81 1071.10,586.01 1070.91,586.20 1070.72,586.39 1070.53,586.59 1070.34,586.78 1070.15,586.98 1069.96,587.18 1069.77,587.38 1069.59,587.57 1069.40,587.77 1069.22,587.98 1069.03,588.18 1068.85,588.38 1068.67,588.58 1068.49,588.79 1068.31,588.99 1068.13,589.20 1067.95,589.40 1067.77,589.61 1067.60,589.82 1067.42,590.03 1067.25,590.23 1067.08,590.44 1066.90,590.66 1066.73,590.87 1066.56,591.08 1066.39,591.29 1066.22,591.51 1066.05,591.72 1065.89,591.94 1065.72,592.15 1065.55,592.37 1065.39,592.59 1065.23,592.80 1065.06,593.02 1064.90,593.24 1064.74,593.46 1064.58,593.68 1064.43,593.91 1064.27,594.13 1064.11,594.35 1063.96,594.57 1063.80,594.80 1063.65,595.02 1063.49,595.25 1063.34,595.48 1063.19,595.70 1063.04,595.93 1062.89,596.16 1062.75,596.39 1062.60,596.62 1062.45,596.85 1062.31,597.08 1062.17,597.31 1062.02,597.54 1061.88,597.78 1061.74,598.01 1061.60,598.24 1061.46,598.48 1061.32,598.71 1061.19,598.95 1061.05,599.19 1060.92,599.42 1060.78,599.66 1060.65,599.90 1060.52,600.14 1060.39,600.38 1060.26,600.62 1060.13,600.86 1060.00,601.10 1059.88,601.34 1059.75,601.58 1059.63,601.83 1059.51,602.07 1059.38,602.31 1059.26,602.56 1059.14,602.80 1059.03,603.05 1058.91,603.29 1058.79,603.54 1058.68,603.79 1058.56,604.03 1058.45,604.28 1058.34,604.53 1058.22,604.78 1058.11,605.03 1058.00,605.28 1057.90,605.53 1057.79,605.78 1057.68,606.03 1057.58,606.28 1057.48,606.53 1057.37,606.79 1057.27,607.04 1057.17,607.29 1057.07,607.55 1056.97,607.80 1056.88,608.06 1056.78,608.31 1056.69,608.57 1056.59,608.82 1056.50,609.08 1056.41,609.34 1056.32,609.59 1056.23,609.85 1056.14,610.11 1056.05,610.37 1055.97,610.63 1055.88,610.89 1055.80,611.15 1055.72,611.41 1055.64,611.67 1055.56,611.93 1055.48,612.19 1055.40,612.45 1055.32,612.71 1055.25,612.97 1055.17,613.23 1055.10,613.50 1055.03,613.76 1054.96,614.02 1054.89,614.29 1054.82,614.55 1054.75,614.82 1054.68,615.08 1054.62,615.34 1054.56,615.61 1054.49,615.87 1054.43,616.14 1054.37,616.41 1054.31,616.67 1054.25,616.94 1054.19,617.21 1054.14,617.47 1054.08,617.74 1054.03,618.01 1053.98,618.27 1053.93,618.54 1053.88,618.81 1053.83,619.08 1053.78,619.35 1053.73,619.62 1053.69,619.88 1053.64,620.15 1053.60,620.42 1053.56,620.69 1053.52,620.96 1053.48,621.23 1053.44,621.50 1053.40,621.77 1053.37,622.04 1053.33,622.31 1053.30,622.58"/>
<path d="M1053.30,637.82 1053.33,638.09 1053.37,638.36 1053.40,638.63 1053.44,638.90 1053.48,639.17 1053.52,639.44 1053.56,639.71 1053.60,639.98 1053.64,640.25 1053.69,640.52 1053.73,640.78 1053.78,641.05 1053.83,641.32 1053.88,641.59 1053.93,641.86 1053.98,642.13 1054.03,642.39 1054.08,642.66 1054.14,642.93 1054.19,643.19 1054.25,643.46 1054.31,643.73 1054.37,643.99 1054.43,644.26 1054.49,644.53 1054.56,644.79 1054.62,645.06 1054.68,645.32 1054.75,645.58 1054.82,645.85 1054.89,646.11 1054.96,646.38 1055.03,646.64 1055.10,646.90 1055.17,647.17 1055.25,647.43 1055.32,647.69 1055.40,647.95 1055.48,648.21 1055.56,648.47 1055.64,648.73 1055.72,648.99 1055.80,649.25 1055.88,649.51 1055.97,649.77 1056.05,650.03 1056.14,650.29 1056.23,650.55 1056.32,650.81 1056.41,651.06 1056.50,651.32 1056.59,651.58 1056.69,651.83 1056.78,652.09 1056.88,652.34 1056.97,652.60 1057.07,652.85 1057.17,653.11 1057.27,653.36 1057.37,653.61 1057.48,653.87 1057.58,654.12 1057.68,654.37 1057.79,654.62 1057.90,654.87 1058.00,655.12 1058.11,655.37 1058.22,655.62 1058.34,655.87 1058.45,656.12 1058.56,656.37 1058.68,656.61 1058.79,656.86 1058.91,657.11 1059.03,657.35 1059.14,657.60 1059.26,657.84 1059.38,658.09 1059.51,658.33 1059.63,658.57 1059.75,658.82 1059.88,659.06 1060.00,659.30 1060.13,659.54 1060.26,659.78 1060.39,660.02 1060.52,660.26 1060.65,660.50 1060.78,660.74 1060.92,660.98 1061.05,661.21 1061.19,661.45 1061.32,661.69 1061.46,661.92 1061.60,662.16 1061.74,662.39 1061.88,662.62 1062.02,662.86 1062.17,663.09 1062.31,663.32 1062.45,663.55 1062.60,663.78 1062.75,664.01 1062.89,664.24 1063.04,664.47 1063.19,664.70 1063.34,664.92 1063.49,665.15 1063.65,665.38 1063.80,665.60 1063.96,665.83 1064.11,666.05 1064.27,666.27 1064.43,666.49 1064.58,666.72 1064.74,666.94 1064.90,667.16 1065.06,667.38 1065.23,667.60 1065.39,667.81 1065.55,668.03 1065.72,668.25 1065.89,668.46 1066.05,668.68 1066.22,668.89 1066.39,669.11 1066.56,669.32 1066.73,669.53 1066.90,669.74 1067.08,669.96 1067.25,670.17 1067.42,670.37 1067.60,670.58 1067.77,670.79 1067.95,671.00 1068.13,671.20 1068.31,671.41 1068.49,671.61 1068.67,671.82 1068.85,672.02 1069.03,672.22 1069.22,672.42 1069.40,672.63 1069.59,672.83 1069.77,673.02 1069.96,673.22 1070.15,673.42 1070.34,673.62 1070.53,673.81 1070.72,674.01 1070.91,674.20 1071.10,674.39 1071.29,674.59 1071.49,674.78 1071.68,674.97 1071.88,675.16 1072.07,675.35 1072.27,675.54 1072.47,675.72 1072.67,675.91 1072.86,676.10 1073.06,676.28 1073.27,676.46 1073.47,676.65 1073.67,676.83 1073.87,677.01 1074.08,677.19 1074.28,677.37 1074.49,677.55 1074.70,677.73 1074.90,677.90 1075.11,678.08 1075.32,678.25 1075.53,678.43 1075.74,678.60 1075.95,678.77 1076.16,678.94 1076.37,679.11 1076.59,679.28 1076.80,679.45 1077.02,679.62 1077.23,679.78 1077.45,679.95 1077.67,680.12 1077.88,680.28 1078.10,680.44 1078.32,680.60 1078.54,680.76 1078.76,680.92 1078.98,681.08 1079.20,681.24 1079.43,681.40 1079.65,681.55 1079.87,681.71 1080.10,681.86 1080.32,682.02 1080.55,682.17 1080.78,682.32 1081.00,682.47 1081.23,682.62 1081.46,682.77 1081.69,682.91 1081.92,683.06 1082.15,683.20 1082.38,683.35 1082.61,683.49 1082.85,683.63 1083.08,683.77 1083.31,683.91 1083.55,684.05 1083.78,684.19 1084.02,684.33 1084.25,684.46 1084.49,684.60 1084.73,684.73 1084.96,684.86 1085.20,685.00 1085.44,685.13 1085.68,685.26 1085.92,685.38 1086.16,685.51 1086.40,685.64 1086.64,685.76 1086.89,685.89 1087.13,686.01 1087.37,686.13 1087.62,686.25 1087.86,686.37 1088.10,686.49 1088.35,686.61 1088.60,686.73 1088.84,686.84 1089.09,686.96 1089.34,687.07 1089.58,687.19 1089.83,687.30 1090.08,687.41 1090.33,687.52 1090.58,687.62 1090.83,687.73 1091.08,687.84 1091.33,687.94 1091.58,688.05 1091.84,688.15 1092.09,688.25 1092.34,688.35 1092.60,688.45 1092.85,688.55 1093.10,688.65 1093.36,688.74 1093.61,688.84 1093.87,688.93 1094.12,689.02 1094.38,689.12 1094.64,689.21 1094.89,689.30 1095.15,689.38 1095.41,689.47 1095.67,689.56 1095.93,689.64 1096.19,689.73 1096.45,689.81 1096.71,689.89 1096.97,689.97 1097.23,690.05 1097.49,690.13 1097.75,690.20 1098.01,690.28 1098.27,690.35 1098.53,690.43 1098.80,690.50 1099.06,690.57 1099.32,690.64 1099.58,690.71 1099.85,690.78 1100.11,690.84 1100.38,690.91 1100.64,690.97 1100.91,691.04 1101.17,691.10 1101.44,691.16 1101.70,691.22 1101.97,691.28 1102.23,691.33 1102.50,691.39 1102.77,691.45 1103.03,691.50 1103.30,691.55 1103.57,691.60 1103.83,691.65 1104.10,691.70 1104.37,691.75 1104.64,691.80 1104.91,691.84 1105.17,691.89 1105.44,691.93 1105.71,691.97 1105.98,692.01 1106.25,692.05 1106.52,692.09 1106.79,692.13 1107.06,692.17 1107.33,692.20 1107.60,692.23"/>
<path d="M1122.80,692.23 1123.07,692.20 1123.34,692.17 1123.61,692.13 1123.88,692.09 1124.15,692.05 1124.42,692.01 1124.69,691.97 1124.96,691.93 1125.23,691.89 1125.49,691.84 1125.76,691.80 1126.03,691.75 1126.30,691.70 1126.57,691.65 1126.83,691.60 1127.10,691.55 1127.37,691.50 1127.63,691.45 1127.90,691.39 1128.17,691.33 1128.43,691.28 1128.70,691.22 1128.96,691.16 1129.23,691.10 1129.49,691.04 1129.76,690.97 1130.02,690.91 1130.29,690.84 1130.55,690.78 1130.82,690.71 1131.08,690.64 1131.34,690.57 1131.60,690.50 1131.87,690.43 1132.13,690.35 1132.39,690.28 1132.65,690.20 1132.91,690.13 1133.17,690.05 1133.43,689.97 1133.69,689.89 1133.95,689.81 1134.21,689.73 1134.47,689.64 1134.73,689.56 1134.99,689.47 1135.25,689.38 1135.51,689.30 1135.76,689.21 1136.02,689.12 1136.28,689.02 1136.53,688.93 1136.79,688.84 1137.04,688.74 1137.30,688.65 1137.55,688.55 1137.80,688.45 1138.06,688.35 1138.31,688.25 1138.56,688.15 1138.82,688.05 1139.07,687.94 1139.32,687.84 1139.57,687.73 1139.82,687.62 1140.07,687.52 1140.32,687.41 1140.57,687.30 1140.82,687.19 1141.06,687.07 1141.31,686.96 1141.56,686.84 1141.80,686.73 1142.05,686.61 1142.30,686.49 1142.54,686.37 1142.78,686.25 1143.03,686.13 1143.27,686.01 1143.51,685.89 1143.76,685.76 1144.00,685.64 1144.24,685.51 1144.48,685.38 1144.72,685.26 1144.96,685.13 1145.20,685.00 1145.44,684.86 1145.67,684.73 1145.91,684.60 1146.15,684.46 1146.38,684.33 1146.62,684.19 1146.85,684.05 1147.09,683.91 1147.32,683.77 1147.55,683.63 1147.79,683.49 1148.02,683.35 1148.25,683.20 1148.48,683.06 1148.71,682.91 1148.94,682.77 1149.17,682.62 1149.40,682.47 1149.62,682.32 1149.85,682.17 1150.08,682.02 1150.30,681.86 1150.53,681.71 1150.75,681.55 1150.97,681.40 1151.20,681.24 1151.42,681.08 1151.64,680.92 1151.86,680.76 1152.08,680.60 1152.30,680.44 1152.52,680.28 1152.73,680.12 1152.95,679.95 1153.17,679.78 1153.38,679.62 1153.60,679.45 1153.81,679.28 1154.03,679.11 1154.24,678.94 1154.45,678.77 1154.66,678.60 1154.87,678.43 1155.08,678.25 1155.29,678.08 1155.50,677.90 1155.70,677.73 1155.91,677.55 1156.12,677.37 1156.32,677.19 1156.53,677.01 1156.73,676.83 1156.93,676.65 1157.13,676.46 1157.34,676.28 1157.54,676.10 1157.73,675.91 1157.93,675.72 1158.13,675.54 1158.33,675.35 1158.52,675.16 1158.72,674.97 1158.91,674.78 1159.11,674.59 1159.30,674.39 1159.49,674.20 1159.68,674.01 1159.87,673.81 1160.06,673.62 1160.25,673.42 1160.44,673.22 1160.63,673.02 1160.81,672.83 1161.00,672.63 1161.18,672.42 1161.37,672.22 1161.55,672.02 1161.73,671.82 1161.91,671.61 1162.09,671.41 1162.27,671.20 1162.45,671.00 1162.63,670.79 1162.80,670.58 1162.98,670.37 1163.15,670.17 1163.32,669.96 1163.50,669.74 1163.67,669.53 1163.84,669.32 1164.01,669.11 1164.18,668.89 1164.35,668.68 1164.51,668.46 1164.68,668.25 1164.85,668.03 1165.01,667.81 1165.17,667.60 1165.34,667.38 1165.50,667.16 1165.66,666.94 1165.82,666.72 1165.97,666.49 1166.13,666.27 1166.29,666.05 1166.44,665.83 1166.60,665.60 1166.75,665.38 1166.91,665.15 1167.06,664.92 1167.21,664.70 1167.36,664.47 1167.51,664.24 1167.65,664.01 1167.80,663.78 1167.95,663.55 1168.09,663.32 1168.23,663.09 1168.38,662.86 1168.52,662.62 1168.66,662.39 1168.80,662.16 1168.94,661.92 1169.08,661.69 1169.21,661.45 1169.35,661.21 1169.48,660.98 1169.62,660.74 1169.75,660.50 1169.88,660.26 1170.01,660.02 1170.14,659.78 1170.27,659.54 1170.40,659.30 1170.52,659.06 1170.65,658.82 1170.77,658.57 1170.89,658.33 1171.02,658.09 1171.14,657.84 1171.26,657.60 1171.37,657.35 1171.49,657.11 1171.61,656.86 1171.72,656.61 1171.84,656.37 1171.95,656.12 1172.06,655.87 1172.18,655.62 1172.29,655.37 1172.40,655.12 1172.50,654.87 1172.61,654.62 1172.72,654.37 1172.82,654.12 1172.92,653.87 1173.03,653.61 1173.13,653.36 1173.23,653.11 1173.33,652.85 1173.43,652.60 1173.52,652.34 1173.62,652.09 1173.71,651.83 1173.81,651.58 1173.90,651.32 1173.99,651.06 1174.08,650.81 1174.17,650.55 1174.26,650.29 1174.35,650.03 1174.43,649.77 1174.52,649.51 1174.60,649.25 1174.68,648.99 1174.76,648.73 1174.84,648.47 1174.92,648.21 1175.00,647.95 1175.08,647.69 1175.15,647.43 1175.23,647.17 1175.30,646.90 1175.37,646.64 1175.44,646.38 1175.51,646.11 1175.58,645.85 1175.65,645.58 1175.72,645.32 1175.78,645.06 1175.84,644.79 1175.91,644.53 1175.97,644.26 1176.03,643.99 1176.09,643.73 1176.15,643.46 1176.21,643.19 1176.26,642.93 1176.32,642.66 1176.37,642.39 1176.42,642.13 1176.47,641.86 1176.52,641.59 1176.57,641.32 1176.62,641.05 1176.67,640.78 1176.71,640.52 1176.76,640.25 1176.80,639.98 1176.84,639.71 1176.88,639.44 1176.92,639.17 1176.96,638.90 1177.00,638.63 1177.03,638.36 1177.07,638.09 1177.10,637.82"/>
</g>
<g stroke="#000" stroke-width="1.6" fill="none">
<path d="M1333.2,56.8V433.5"/>
<path d="M1320.6,57.6H1334"/>
<path d="M1320.6,118.5H1334"/>
<path d="M1320.6,180.4H1334"/>
<path d="M1320.6,242.7H1334"/>
<path d="M1320.6,305.2H1334"/>
<path d="M1320.6,367.9H1334"/>
<path d="M1320.6,432.7H1334"/>
<path d="M1333.2,441.6V815.9"/>
<path d="M1320.6,442.4H1334"/>
<path d="M1320.6,503.1H1334"/>
<path d="M1320.6,565.3H1334"/>
<path d="M1320.6,627.5H1334"/>
<path d="M1320.6,689.7H1334"/>
<path d="M1320.6,752.3H1334"/>
<path d="M1320.6,815.1H1334"/>
<path d="M145.7,847.2H522.0"/>
<path d="M146.5,834.6V848"/>
<path d="M210.8,834.6V848"/>
<path d="M273.4,834.6V848"/>
<path d="M335.9,834.6V848"/>
<path d="M398.4,834.6V848"/>
<path d="M461.0,834.6V848"/>
<path d="M521.2,834.6V848"/>
<path d="M536.7,847.2H913.0"/>
<path d="M537.5,834.6V848"/>
<path d="M601.8,834.6V848"/>
<path d="M664.4,834.6V848"/>
<path d="M726.9,834.6V848"/>
<path d="M789.4,834.6V848"/>
<path d="M852.0,834.6V848"/>
<path d="M912.2,834.6V848"/>
<path d="M927.7,847.2H1304.0"/>
<path d="M928.5,834.6V848"/>
<path d="M992.8,834.6V848"/>
<path d="M1055.4,834.6V848"/>
<path d="M1117.9,834.6V848"/>
<path d="M1180.4,834.6V848"/>
<path d="M1243.0,834.6V848"/>
<path d="M1303.2,834.6V848"/>
</g>
<defs><linearGradient id="cbg" x1="0" x2="1" y1="0" y2="0">
<stop offset="0.0000" stop-color="#2d2f78"/>
<stop offset="0.0273" stop-color="#2f3387"/>
<stop offset="0.0591" stop-color="#363d93"/>
<stop offset="0.0864" stop-color="#3e4a9b"/>
<stop offset="0.1182" stop-color="#4451a0"/>
<stop offset="0.1455" stop-color="#4655a3"/>
<stop offset="0.1773" stop-color="#4757a5"/>
<stop offset="0.2045" stop-color="#4b5ea9"/>
<stop offset="0.2364" stop-color="#5576b5"/>
<stop offset="0.2636" stop-color="#5f8cc7"/>
<stop offset="0.3018" stop-color="#6aa6dc"/>
<stop offset="0.3236" stop-color="#71c2ef"/>
<stop offset="0.3509" stop-color="#83c9e6"/>
<stop offset="0.3705" stop-color="#8ecbdc"/>
<stop offset="0.3900" stop-color="#90ccd2"/>
<stop offset="0.4200" stop-color="#92cab8"/>
<stop offset="0.4395" stop-color="#94c8a2"/>
<stop offset="0.4686" stop-color="#9dc98c"/>
<stop offset="0.5000" stop-color="#a8cb74"/>
<stop offset="0.5286" stop-color="#b6d05a"/>
<stop offset="0.5491" stop-color="#c3d64c"/>
<stop offset="0.5786" stop-color="#d4dd42"/>
<stop offset="0.6077" stop-color="#e5e63c"/>
<stop offset="0.6359" stop-color="#f5ee3c"/>
<stop offset="0.6473" stop-color="#f8e838"/>
<stop offset="0.6668" stop-color="#f3d233"/>
<stop offset="0.6968" stop-color="#e9b22e"/>
<stop offset="0.7259" stop-color="#e19a2e"/>
<stop offset="0.7564" stop-color="#dd842c"/>
<stop offset="0.7855" stop-color="#d6692a"/>
<stop offset="0.8155" stop-color="#d04e2a"/>
<stop offset="0.8355" stop-color="#ce3b28"/>
<stop offset="0.8632" stop-color="#cc2a28"/>
<stop offset="0.8841" stop-color="#c92128"/>
<stop offset="0.9045" stop-color="#c02029"/>
<stop offset="0.9323" stop-color="#a82229"/>
<stop offset="0.9600" stop-color="#912126"/>
<stop offset="0.9877" stop-color="#791b21"/>
<stop offset="1.0000" stop-color="#6e1a1e"/>
</linearGradient></defs>
<rect x="446.7" y="955" width="562" height="54.8" fill="url(#cbg)"/>
<g stroke="#000" stroke-width="2" fill="none">
<path d="M446.5,1031.4H1008.5"/>
<path d="M447.6,1019V1032"/>
<path d="M473.0,1019V1032"/>
<path d="M498.5,1019V1032"/>
<path d="M523.9,1019V1032"/>
<path d="M549.4,1019V1032"/>
<path d="M574.8,1019V1032"/>
<path d="M600.2,1019V1032"/>
<path d="M625.7,1019V1032"/>
<path d="M651.1,1019V1032"/>
<path d="M676.6,1019V1032"/>
<path d="M702.0,1019V1032"/>
<path d="M727.5,1019V1032"/>
<path d="M752.9,1019V1032"/>
<path d="M778.3,1019V1032"/>
<path d="M803.8,1019V1032"/>
<path d="M829.2,1019V1032"/>
<path d="M854.7,1019V1032"/>
<path d="M880.1,1019V1032"/>
<path d="M905.5,1019V1032"/>
<path d="M931.0,1019V1032"/>
<path d="M956.4,1019V1032"/>
<path d="M981.9,1019V1032"/>
<path d="M1007.3,1019V1032"/>
</g>
<g stroke="#e0e0e0" stroke-width="1.2" fill="none">
<path d="M294.3,1220.7V1698.4"/>
<path d="M438.1,1220.7V1698.4"/>
<path d="M581.9,1220.7V1698.4"/>
<path d="M725.6,1220.7V1698.4"/>
<path d="M869.4,1220.7V1698.4"/>
<path d="M1013.2,1220.7V1698.4"/>
<path d="M1157.0,1220.7V1698.4"/>
<path d="M150.5,1650.6H1300.8"/>
<path d="M150.5,1602.9H1300.8"/>
<path d="M150.5,1555.1H1300.8"/>
<path d="M150.5,1507.3H1300.8"/>
<path d="M150.5,1459.5H1300.8"/>
<path d="M150.5,1411.8H1300.8"/>
<path d="M150.5,1364.0H1300.8"/>
<path d="M150.5,1316.2H1300.8"/>
<path d="M150.5,1268.5H1300.8"/>
</g>
<path d="M150.5,1448.1 L153.2,1447.9 L155.9,1447.8 L158.6,1447.7 L161.4,1447.5 L164.1,1447.4 L166.8,1447.3 L169.5,1447.1 L172.2,1447.0 L174.9,1446.8 L177.6,1446.7 L180.3,1446.5 L183.1,1446.4 L185.8,1446.2 L188.5,1446.1 L191.2,1445.9 L193.9,1445.8 L196.6,1445.6 L199.3,1445.4 L202.0,1445.3 L204.8,1445.1 L207.5,1444.9 L210.2,1444.8 L212.9,1444.6 L215.6,1444.4 L218.3,1444.2 L221.0,1444.0 L223.8,1443.8 L226.5,1443.6 L229.2,1443.5 L231.9,1443.3 L234.6,1443.1 L237.3,1442.8 L240.0,1442.6 L242.7,1442.4 L245.5,1442.2 L248.2,1442.0 L250.9,1441.8 L253.6,1441.5 L256.3,1441.3 L259.0,1441.1 L261.7,1440.8 L264.4,1440.6 L267.2,1440.3 L269.9,1440.1 L272.6,1439.8 L275.3,1439.6 L278.0,1439.3 L280.7,1439.0 L283.4,1438.8 L286.1,1438.5 L288.9,1438.2 L291.6,1437.9 L294.3,1437.6 L297.0,1437.3 L299.7,1437.0 L302.4,1436.7 L305.1,1436.4 L307.9,1436.0 L310.6,1435.7 L313.3,1435.4 L316.0,1435.0 L318.7,1434.7 L321.4,1434.3 L324.1,1433.9 L326.8,1433.6 L329.6,1433.2 L332.3,1432.8 L335.0,1432.4 L337.7,1432.0 L340.4,1431.6 L343.1,1431.2 L345.8,1430.7 L348.5,1430.3 L351.3,1429.8 L354.0,1429.4 L356.7,1428.9 L359.4,1428.4 L362.1,1427.9 L364.8,1427.4 L367.5,1426.9 L370.3,1426.4 L373.0,1425.9 L375.7,1425.3 L378.4,1424.7 L381.1,1424.2 L383.8,1423.6 L386.5,1423.0 L389.2,1422.4 L392.0,1421.7 L394.7,1421.1 L397.4,1420.4 L400.1,1419.7 L402.8,1419.0 L405.5,1418.3 L408.2,1417.6 L410.9,1416.9 L413.7,1416.1 L416.4,1415.3 L419.1,1414.5 L421.8,1413.7 L424.5,1412.8 L427.2,1411.9 L429.9,1411.0 L432.6,1410.1 L435.4,1409.2 L438.1,1408.2 L440.8,1407.2 L443.5,1406.1 L446.2,1405.1 L448.9,1404.0 L451.6,1402.9 L454.4,1401.7 L457.1,1400.5 L459.8,1399.3 L462.5,1398.0 L465.2,1396.7 L467.9,1395.4 L470.6,1394.0 L473.3,1392.6 L476.1,1391.1 L478.8,1389.6 L481.5,1388.0 L484.2,1386.4 L486.9,1384.7 L489.6,1383.0 L492.3,1381.2 L495.0,1379.4 L497.8,1377.5 L500.5,1375.5 L503.2,1373.4 L505.9,1371.3 L508.6,1369.1 L511.3,1366.9 L514.0,1364.5 L516.8,1362.1 L519.5,1359.5 L522.2,1356.9 L524.9,1354.1 L527.6,1351.3 L530.3,1348.3 L533.0,1345.3 L535.7,1342.1 L538.5,1338.7 L541.2,1335.3 L543.9,1331.6 L546.6,1327.9 L549.3,1323.9 L552.0,1319.8 L554.7,1315.5 L557.4,1311.1 L560.2,1306.4 L562.9,1301.5 L565.6,1296.4 L568.3,1291.0 L571.0,1285.4 L573.7,1279.5 L576.4,1273.3 L579.1,1266.8 L581.9,1259.9 L581.9,1660.2 L587.6,1658.8 L596.2,1658.3 L855.1,1658.3 L863.7,1658.8 L869.4,1660.2 L869.4,1259.9 L872.2,1266.8 L874.9,1273.3 L877.6,1279.5 L880.3,1285.4 L883.0,1291.0 L885.7,1296.4 L888.4,1301.5 L891.1,1306.4 L893.9,1311.1 L896.6,1315.5 L899.3,1319.8 L902.0,1323.9 L904.7,1327.9 L907.4,1331.6 L910.1,1335.3 L912.8,1338.7 L915.6,1342.1 L918.3,1345.3 L921.0,1348.3 L923.7,1351.3 L926.4,1354.1 L929.1,1356.9 L931.8,1359.5 L934.5,1362.1 L937.3,1364.5 L940.0,1366.9 L942.7,1369.1 L945.4,1371.3 L948.1,1373.4 L950.8,1375.5 L953.5,1377.5 L956.3,1379.4 L959.0,1381.2 L961.7,1383.0 L964.4,1384.7 L967.1,1386.4 L969.8,1388.0 L972.5,1389.6 L975.2,1391.1 L978.0,1392.6 L980.7,1394.0 L983.4,1395.4 L986.1,1396.7 L988.8,1398.0 L991.5,1399.3 L994.2,1400.5 L996.9,1401.7 L999.7,1402.9 L1002.4,1404.0 L1005.1,1405.1 L1007.8,1406.1 L1010.5,1407.2 L1013.2,1408.2 L1015.9,1409.2 L1018.7,1410.1 L1021.4,1411.0 L1024.1,1411.9 L1026.8,1412.8 L1029.5,1413.7 L1032.2,1414.5 L1034.9,1415.3 L1037.6,1416.1 L1040.4,1416.9 L1043.1,1417.6 L1045.8,1418.3 L1048.5,1419.0 L1051.2,1419.7 L1053.9,1420.4 L1056.6,1421.1 L1059.3,1421.7 L1062.1,1422.4 L1064.8,1423.0 L1067.5,1423.6 L1070.2,1424.2 L1072.9,1424.7 L1075.6,1425.3 L1078.3,1425.9 L1081.0,1426.4 L1083.8,1426.9 L1086.5,1427.4 L1089.2,1427.9 L1091.9,1428.4 L1094.6,1428.9 L1097.3,1429.4 L1100.0,1429.8 L1102.8,1430.3 L1105.5,1430.7 L1108.2,1431.2 L1110.9,1431.6 L1113.6,1432.0 L1116.3,1432.4 L1119.0,1432.8 L1121.7,1433.2 L1124.5,1433.6 L1127.2,1433.9 L1129.9,1434.3 L1132.6,1434.7 L1135.3,1435.0 L1138.0,1435.4 L1140.7,1435.7 L1143.4,1436.0 L1146.2,1436.4 L1148.9,1436.7 L1151.6,1437.0 L1154.3,1437.3 L1157.0,1437.6 L1159.7,1437.9 L1162.4,1438.2 L1165.2,1438.5 L1167.9,1438.8 L1170.6,1439.0 L1173.3,1439.3 L1176.0,1439.6 L1178.7,1439.8 L1181.4,1440.1 L1184.1,1440.3 L1186.9,1440.6 L1189.6,1440.8 L1192.3,1441.1 L1195.0,1441.3 L1197.7,1441.5 L1200.4,1441.8 L1203.1,1442.0 L1205.8,1442.2 L1208.6,1442.4 L1211.3,1442.6 L1214.0,1442.8 L1216.7,1443.1 L1219.4,1443.3 L1222.1,1443.5 L1224.8,1443.6 L1227.5,1443.8 L1230.3,1444.0 L1233.0,1444.2 L1235.7,1444.4 L1238.4,1444.6 L1241.1,1444.8 L1243.8,1444.9 L1246.5,1445.1 L1249.3,1445.3 L1252.0,1445.4 L1254.7,1445.6 L1257.4,1445.8 L1260.1,1445.9 L1262.8,1446.1 L1265.5,1446.2 L1268.2,1446.4 L1271.0,1446.5 L1273.7,1446.7 L1276.4,1446.8 L1279.1,1447.0 L1281.8,1447.1 L1284.5,1447.3 L1287.2,1447.4 L1289.9,1447.5 L1292.7,1447.7 L1295.4,1447.8 L1298.1,1447.9 L1300.8,1448.1" fill="none" stroke="#4273b8" stroke-width="6.0" stroke-linejoin="round"/>
<path d="M153.4,1460.2 L156.3,1460.1 L159.1,1459.9 L162.0,1459.8 L164.9,1459.6 L167.8,1459.5 L170.6,1459.3 L173.5,1459.2 L176.4,1459.0 L179.3,1458.8 L182.1,1458.7 L185.0,1458.5 L187.9,1458.3 L190.8,1458.1 L193.6,1458.0 L196.5,1457.8 L199.4,1457.6 L202.3,1457.4 L205.1,1457.2 L208.0,1457.0 L210.9,1456.8 L213.8,1456.7 L216.6,1456.5 L219.5,1456.2 L222.4,1456.0 L225.3,1455.8 L228.1,1455.6 L231.0,1455.4 L233.9,1455.2 L236.8,1454.9 L239.6,1454.7 L242.5,1454.5 L245.4,1454.2 L248.3,1454.0 L251.2,1453.8 L254.0,1453.5 L256.9,1453.3 L259.8,1453.0 L262.7,1452.7 L265.5,1452.5 L268.4,1452.2 L271.3,1451.9 L274.2,1451.6 L277.0,1451.3 L279.9,1451.0 L282.8,1450.7 L285.7,1450.4 L288.5,1450.1 L291.4,1449.8 L294.3,1449.5 L297.2,1449.1 L300.0,1448.8 L302.9,1448.5 L305.8,1448.1 L308.7,1447.7 L311.5,1447.4 L314.4,1447.0 L317.3,1446.6 L320.2,1446.2 L323.0,1445.8 L325.9,1445.4 L328.8,1445.0 L331.7,1444.6 L334.5,1444.2 L337.4,1443.7 L340.3,1443.3 L343.2,1442.8 L346.1,1442.3 L348.9,1441.8 L351.8,1441.4 L354.7,1440.8 L357.6,1440.3 L360.4,1439.8 L363.3,1439.3 L366.2,1438.7 L369.1,1438.1 L371.9,1437.6 L374.8,1437.0 L377.7,1436.4 L380.6,1435.7 L383.4,1435.1 L386.3,1434.5 L389.2,1433.8 L392.1,1433.1 L394.9,1432.4 L397.8,1431.6 L400.7,1430.9 L403.6,1430.1 L406.4,1429.3 L409.3,1428.5 L412.2,1427.7 L415.1,1426.8 L417.9,1426.0 L420.8,1425.1 L423.7,1424.2 L426.6,1423.2 L429.4,1422.3 L432.3,1421.3 L435.2,1420.3 L438.1,1419.3 L441.0,1418.3 L443.8,1417.2 L446.7,1416.1 L449.6,1414.9 L452.5,1413.7 L455.3,1412.5 L458.2,1411.2 L461.1,1409.9 L464.0,1408.5 L466.8,1407.1 L469.7,1405.6 L472.6,1404.1 L475.5,1402.5 L478.3,1400.9 L481.2,1399.2 L484.1,1397.5 L487.0,1395.7 L489.8,1393.9 L492.7,1391.9 L495.6,1390.0 L498.5,1387.9 L501.3,1385.8 L504.2,1383.7 L507.1,1381.4 L510.0,1379.1 L512.8,1376.8 L515.7,1374.3 L518.6,1371.8 L521.5,1369.2 L524.3,1366.3 L527.2,1363.1 L530.1,1359.9 L533.0,1356.5 L535.9,1353.0 L538.7,1349.5 L541.6,1345.8 L544.5,1341.3 L547.4,1340.3 L550.2,1342.0 L553.1,1345.4 L556.0,1350.9 L558.9,1358.7 L561.7,1369.1 L564.6,1382.2 L567.5,1398.0 L570.4,1416.3 L573.2,1436.9 L576.1,1459.3 L579.0,1482.9 L581.9,1507.1 L584.7,1531.2 L587.6,1554.7 L590.5,1576.9 L593.4,1597.4 L596.2,1615.7 L599.1,1631.8 L602.0,1645.5 L604.9,1656.9 L607.7,1666.1 L610.6,1673.4 L613.5,1679.0 L616.4,1683.2 L619.2,1686.3 L622.1,1688.5 L625.0,1690.0 L627.9,1691.0 L630.8,1691.7 L633.6,1692.2 L636.5,1692.5 L639.4,1692.6 L642.3,1692.7 L645.1,1692.8 L648.0,1692.8 L650.9,1692.8 L653.8,1692.9 L656.6,1692.9 L659.5,1692.9 L662.4,1692.9 L665.3,1692.9 L668.1,1692.9 L671.0,1692.9 L673.9,1692.9 L676.8,1692.9 L679.6,1692.9 L682.5,1692.9 L685.4,1692.9 L688.3,1692.9 L691.1,1692.9 L694.0,1692.9 L696.9,1692.9 L699.8,1692.9 L702.6,1692.9 L705.5,1692.9 L708.4,1692.9 L711.3,1692.9 L714.1,1692.9 L717.0,1692.9 L719.9,1692.9 L722.8,1692.9 L725.6,1692.9 L728.5,1692.9 L731.4,1692.9 L734.3,1692.9 L737.2,1692.9 L740.0,1692.9 L742.9,1692.9 L745.8,1692.9 L748.7,1692.9 L751.5,1692.9 L754.4,1692.9 L757.3,1692.9 L760.2,1692.9 L763.0,1692.9 L765.9,1692.9 L768.8,1692.9 L771.7,1692.9 L774.5,1692.9 L777.4,1692.9 L780.3,1692.9 L783.2,1692.9 L786.0,1692.9 L788.9,1692.9 L791.8,1692.9 L794.7,1692.9 L797.5,1692.9 L800.4,1692.8 L803.3,1692.8 L806.2,1692.8 L809.0,1692.7 L811.9,1692.6 L814.8,1692.5 L817.7,1692.2 L820.5,1691.7 L823.4,1691.0 L826.3,1690.0 L829.2,1688.5 L832.1,1686.3 L834.9,1683.2 L837.8,1679.0 L840.7,1673.4 L843.6,1666.1 L846.4,1656.9 L849.3,1645.5 L852.2,1631.8 L855.1,1615.7 L857.9,1597.4 L860.8,1576.9 L863.7,1554.7 L866.6,1531.2 L869.4,1507.1 L872.3,1482.9 L875.2,1459.3 L878.1,1436.9 L880.9,1416.3 L883.8,1398.0 L886.7,1382.2 L889.6,1369.1 L892.4,1358.7 L895.3,1350.9 L898.2,1345.4 L901.1,1342.0 L903.9,1340.3 L906.8,1341.3 L909.7,1345.8 L912.6,1349.5 L915.4,1353.0 L918.3,1356.5 L921.2,1359.9 L924.1,1363.1 L927.0,1366.3 L929.8,1369.2 L932.7,1371.8 L935.6,1374.3 L938.5,1376.8 L941.3,1379.1 L944.2,1381.4 L947.1,1383.7 L950.0,1385.8 L952.8,1387.9 L955.7,1390.0 L958.6,1391.9 L961.5,1393.9 L964.3,1395.7 L967.2,1397.5 L970.1,1399.2 L973.0,1400.9 L975.8,1402.5 L978.7,1404.1 L981.6,1405.6 L984.5,1407.1 L987.3,1408.5 L990.2,1409.9 L993.1,1411.2 L996.0,1412.5 L998.8,1413.7 L1001.7,1414.9 L1004.6,1416.1 L1007.5,1417.2 L1010.3,1418.3 L1013.2,1419.3 L1016.1,1420.3 L1019.0,1421.3 L1021.9,1422.3 L1024.7,1423.2 L1027.6,1424.2 L1030.5,1425.1 L1033.4,1426.0 L1036.2,1426.8 L1039.1,1427.7 L1042.0,1428.5 L1044.9,1429.3 L1047.7,1430.1 L1050.6,1430.9 L1053.5,1431.6 L1056.4,1432.4 L1059.2,1433.1 L1062.1,1433.8 L1065.0,1434.5 L1067.9,1435.1 L1070.7,1435.7 L1073.6,1436.4 L1076.5,1437.0 L1079.4,1437.6 L1082.2,1438.1 L1085.1,1438.7 L1088.0,1439.3 L1090.9,1439.8 L1093.7,1440.3 L1096.6,1440.8 L1099.5,1441.4 L1102.4,1441.8 L1105.2,1442.3 L1108.1,1442.8 L1111.0,1443.3 L1113.9,1443.7 L1116.8,1444.2 L1119.6,1444.6 L1122.5,1445.0 L1125.4,1445.4 L1128.3,1445.8 L1131.1,1446.2 L1134.0,1446.6 L1136.9,1447.0 L1139.8,1447.4 L1142.6,1447.7 L1145.5,1448.1 L1148.4,1448.5 L1151.3,1448.8 L1154.1,1449.1 L1157.0,1449.5 L1159.9,1449.8 L1162.8,1450.1 L1165.6,1450.4 L1168.5,1450.7 L1171.4,1451.0 L1174.3,1451.3 L1177.1,1451.6 L1180.0,1451.9 L1182.9,1452.2 L1185.8,1452.5 L1188.6,1452.7 L1191.5,1453.0 L1194.4,1453.3 L1197.3,1453.5 L1200.1,1453.8 L1203.0,1454.0 L1205.9,1454.2 L1208.8,1454.5 L1211.7,1454.7 L1214.5,1454.9 L1217.4,1455.2 L1220.3,1455.4 L1223.2,1455.6 L1226.0,1455.8 L1228.9,1456.0 L1231.8,1456.2 L1234.7,1456.5 L1237.5,1456.7 L1240.4,1456.8 L1243.3,1457.0 L1246.2,1457.2 L1249.0,1457.4 L1251.9,1457.6 L1254.8,1457.8 L1257.7,1458.0 L1260.5,1458.1 L1263.4,1458.3 L1266.3,1458.5 L1269.2,1458.7 L1272.0,1458.8 L1274.9,1459.0 L1277.8,1459.2 L1280.7,1459.3 L1283.5,1459.5 L1286.4,1459.6 L1289.3,1459.8 L1292.2,1459.9 L1295.0,1460.1 L1297.9,1460.2 L1300.8,1460.3" fill="none" stroke="#c0562c" stroke-width="6.0" stroke-linejoin="round"/>
<path d="M153.4,1455.3 L156.3,1455.2 L159.1,1455.1 L162.0,1455.0 L164.9,1454.8 L167.8,1454.7 L170.6,1454.6 L173.5,1454.5 L176.4,1454.3 L179.3,1454.2 L182.1,1454.1 L185.0,1453.9 L187.9,1453.8 L190.8,1453.6 L193.6,1453.5 L196.5,1453.3 L199.4,1453.2 L202.3,1453.0 L205.1,1452.9 L208.0,1452.7 L210.9,1452.6 L213.8,1452.4 L216.6,1452.2 L219.5,1452.1 L222.4,1451.9 L225.3,1451.7 L228.1,1451.6 L231.0,1451.4 L233.9,1451.2 L236.8,1451.0 L239.6,1450.8 L242.5,1450.6 L245.4,1450.4 L248.3,1450.2 L251.2,1450.0 L254.0,1449.8 L256.9,1449.6 L259.8,1449.4 L262.7,1449.2 L265.5,1449.0 L268.4,1448.7 L271.3,1448.5 L274.2,1448.3 L277.0,1448.0 L279.9,1447.8 L282.8,1447.5 L285.7,1447.3 L288.5,1447.0 L291.4,1446.8 L294.3,1446.5 L297.2,1446.2 L300.0,1445.9 L302.9,1445.6 L305.8,1445.3 L308.7,1445.0 L311.5,1444.7 L314.4,1444.4 L317.3,1444.1 L320.2,1443.8 L323.0,1443.4 L325.9,1443.1 L328.8,1442.8 L331.7,1442.4 L334.5,1442.0 L337.4,1441.7 L340.3,1441.3 L343.2,1440.9 L346.1,1440.5 L348.9,1440.1 L351.8,1439.7 L354.7,1439.2 L357.6,1438.8 L360.4,1438.3 L363.3,1437.9 L366.2,1437.4 L369.1,1436.9 L371.9,1436.4 L374.8,1435.9 L377.7,1435.4 L380.6,1434.9 L383.4,1434.3 L386.3,1433.7 L389.2,1433.2 L392.1,1432.6 L394.9,1431.9 L397.8,1431.3 L400.7,1430.6 L403.6,1430.0 L406.4,1429.3 L409.3,1428.6 L412.2,1427.8 L415.1,1427.1 L417.9,1426.3 L420.8,1425.5 L423.7,1424.7 L426.6,1423.9 L429.4,1423.0 L432.3,1422.2 L435.2,1421.3 L438.1,1420.4 L441.0,1419.4 L443.8,1418.5 L446.7,1417.5 L449.6,1416.4 L452.5,1415.3 L455.3,1414.2 L458.2,1413.0 L461.1,1411.7 L464.0,1410.5 L466.8,1409.1 L469.7,1407.7 L472.6,1406.3 L475.5,1404.8 L478.3,1403.3 L481.2,1401.7 L484.1,1400.0 L487.0,1398.2 L489.8,1396.4 L492.7,1394.5 L495.6,1392.5 L498.5,1390.5 L501.3,1388.4 L504.2,1386.2 L507.1,1384.0 L510.0,1381.7 L512.8,1379.4 L515.7,1377.0 L518.6,1374.6 L521.5,1372.1 L524.3,1369.4 L527.2,1366.5 L530.1,1363.3 L533.0,1360.1 L535.9,1357.0 L538.7,1354.0 L541.6,1351.0 L544.5,1347.9 L547.4,1345.4 L550.2,1343.6 L553.1,1342.2 L556.0,1341.2 L558.9,1341.2 L561.7,1343.6 L564.6,1349.4 L567.5,1359.3 L570.4,1374.0 L573.2,1393.8 L576.1,1418.5 L579.0,1447.2 L581.9,1478.5 L584.7,1510.8 L587.6,1542.2 L590.5,1571.1 L593.4,1596.2 L596.2,1616.9 L599.1,1633.0 L602.0,1645.0 L604.9,1653.4 L607.7,1658.9 L610.6,1662.4 L613.5,1664.5 L616.4,1665.7 L619.2,1666.3 L622.1,1666.7 L625.0,1666.8 L627.9,1666.9 L630.8,1666.9 L633.6,1666.9 L636.5,1666.9 L639.4,1666.9 L642.3,1666.9 L645.1,1666.9 L648.0,1666.9 L650.9,1666.9 L653.8,1666.9 L656.6,1666.9 L659.5,1666.9 L662.4,1666.9 L665.3,1666.9 L668.1,1666.9 L671.0,1666.9 L673.9,1666.9 L676.8,1666.9 L679.6,1666.9 L682.5,1666.9 L685.4,1666.9 L688.3,1666.9 L691.1,1666.9 L694.0,1666.9 L696.9,1666.9 L699.8,1666.9 L702.6,1666.9 L705.5,1666.9 L708.4,1666.9 L711.3,1666.9 L714.1,1666.9 L717.0,1666.9 L719.9,1666.9 L722.8,1666.9 L725.6,1666.9" fill="none" stroke="#4d4d4d" stroke-width="6.0" stroke-dasharray="23.8 22.9" stroke-dashoffset="2.0" stroke-linejoin="round"/>
<path d="M728.5,1666.9 L731.4,1666.9 L734.3,1666.9 L737.2,1666.9 L740.0,1666.9 L742.9,1666.9 L745.8,1666.9 L748.7,1666.9 L751.5,1666.9 L754.4,1666.9 L757.3,1666.9 L760.2,1666.9 L763.0,1666.9 L765.9,1666.9 L768.8,1666.9 L771.7,1666.9 L774.5,1666.9 L777.4,1666.9 L780.3,1666.9 L783.2,1666.9 L786.0,1666.9 L788.9,1666.9 L791.8,1666.9 L794.7,1666.9 L797.5,1666.9 L800.4,1666.9 L803.3,1666.9 L806.2,1666.9 L809.0,1666.9 L811.9,1666.9 L814.8,1666.9 L817.7,1666.9 L820.5,1666.9 L823.4,1666.9 L826.3,1666.8 L829.2,1666.7 L832.1,1666.3 L834.9,1665.7 L837.8,1664.5 L840.7,1662.4 L843.6,1658.9 L846.4,1653.4 L849.3,1645.0 L852.2,1633.0 L855.1,1616.9 L857.9,1596.2 L860.8,1571.1 L863.7,1542.2 L866.6,1510.8 L869.4,1478.5 L872.3,1447.2 L875.2,1418.5 L878.1,1393.8 L880.9,1374.0 L883.8,1359.3 L886.7,1349.4 L889.6,1343.6 L892.4,1341.2 L895.3,1341.2 L898.2,1342.2 L901.1,1343.6 L903.9,1345.4 L906.8,1347.9 L909.7,1351.0 L912.6,1354.0 L915.4,1357.0 L918.3,1360.1 L921.2,1363.3 L924.1,1366.5 L927.0,1369.4 L929.8,1372.1 L932.7,1374.6 L935.6,1377.0 L938.5,1379.4 L941.3,1381.7 L944.2,1384.0 L947.1,1386.2 L950.0,1388.4 L952.8,1390.5 L955.7,1392.5 L958.6,1394.5 L961.5,1396.4 L964.3,1398.2 L967.2,1400.0 L970.1,1401.7 L973.0,1403.3 L975.8,1404.8 L978.7,1406.3 L981.6,1407.7 L984.5,1409.1 L987.3,1410.5 L990.2,1411.7 L993.1,1413.0 L996.0,1414.2 L998.8,1415.3 L1001.7,1416.4 L1004.6,1417.5 L1007.5,1418.5 L1010.3,1419.4 L1013.2,1420.4 L1016.1,1421.3 L1019.0,1422.2 L1021.9,1423.0 L1024.7,1423.9 L1027.6,1424.7 L1030.5,1425.5 L1033.4,1426.3 L1036.2,1427.1 L1039.1,1427.8 L1042.0,1428.6 L1044.9,1429.3 L1047.7,1430.0 L1050.6,1430.6 L1053.5,1431.3 L1056.4,1431.9 L1059.2,1432.6 L1062.1,1433.2 L1065.0,1433.7 L1067.9,1434.3 L1070.7,1434.9 L1073.6,1435.4 L1076.5,1435.9 L1079.4,1436.4 L1082.2,1436.9 L1085.1,1437.4 L1088.0,1437.9 L1090.9,1438.3 L1093.7,1438.8 L1096.6,1439.2 L1099.5,1439.7 L1102.4,1440.1 L1105.2,1440.5 L1108.1,1440.9 L1111.0,1441.3 L1113.9,1441.7 L1116.8,1442.0 L1119.6,1442.4 L1122.5,1442.8 L1125.4,1443.1 L1128.3,1443.4 L1131.1,1443.8 L1134.0,1444.1 L1136.9,1444.4 L1139.8,1444.7 L1142.6,1445.0 L1145.5,1445.3 L1148.4,1445.6 L1151.3,1445.9 L1154.1,1446.2 L1157.0,1446.5 L1159.9,1446.8 L1162.8,1447.0 L1165.6,1447.3 L1168.5,1447.5 L1171.4,1447.8 L1174.3,1448.0 L1177.1,1448.3 L1180.0,1448.5 L1182.9,1448.7 L1185.8,1449.0 L1188.6,1449.2 L1191.5,1449.4 L1194.4,1449.6 L1197.3,1449.8 L1200.1,1450.0 L1203.0,1450.2 L1205.9,1450.4 L1208.8,1450.6 L1211.7,1450.8 L1214.5,1451.0 L1217.4,1451.2 L1220.3,1451.4 L1223.2,1451.6 L1226.0,1451.7 L1228.9,1451.9 L1231.8,1452.1 L1234.7,1452.2 L1237.5,1452.4 L1240.4,1452.6 L1243.3,1452.7 L1246.2,1452.9 L1249.0,1453.0 L1251.9,1453.2 L1254.8,1453.3 L1257.7,1453.5 L1260.5,1453.6 L1263.4,1453.8 L1266.3,1453.9 L1269.2,1454.1 L1272.0,1454.2 L1274.9,1454.3 L1277.8,1454.5 L1280.7,1454.6 L1283.5,1454.7 L1286.4,1454.8 L1289.3,1455.0 L1292.2,1455.1 L1295.0,1455.2 L1297.9,1455.3 L1300.8,1455.4" fill="none" stroke="#4d4d4d" stroke-width="6.0" stroke-dasharray="23.8 22.9" stroke-dashoffset="-8.5" stroke-linejoin="round"/>
<g stroke="#000" stroke-width="1.6" fill="none">
<path d="M294.3,1220.7v12.5M294.3,1698.4v-12.5"/>
<path d="M438.1,1220.7v12.5M438.1,1698.4v-12.5"/>
<path d="M581.9,1220.7v12.5M581.9,1698.4v-12.5"/>
<path d="M725.6,1220.7v12.5M725.6,1698.4v-12.5"/>
<path d="M869.4,1220.7v12.5M869.4,1698.4v-12.5"/>
<path d="M1013.2,1220.7v12.5M1013.2,1698.4v-12.5"/>
<path d="M1157.0,1220.7v12.5M1157.0,1698.4v-12.5"/>
<path d="M150.5,1650.6h12.5M1300.8,1650.6h-12.5"/>
<path d="M150.5,1602.9h12.5M1300.8,1602.9h-12.5"/>
<path d="M150.5,1555.1h12.5M1300.8,1555.1h-12.5"/>
<path d="M150.5,1507.3h12.5M1300.8,1507.3h-12.5"/>
<path d="M150.5,1459.5h12.5M1300.8,1459.5h-12.5"/>
<path d="M150.5,1411.8h12.5M1300.8,1411.8h-12.5"/>
<path d="M150.5,1364.0h12.5M1300.8,1364.0h-12.5"/>
<path d="M150.5,1316.2h12.5M1300.8,1316.2h-12.5"/>
<path d="M150.5,1268.5h12.5M1300.8,1268.5h-12.5"/>
</g>
<rect x="150.5" y="1220.7" width="1150.3" height="477.7" fill="none" stroke="#000" stroke-width="2.0"/>
<path d="M162,1815.7H176M190.2,1815.7H204.5" stroke="#4d4d4d" stroke-width="5.6"/>
<path d="M676.1,1816.2H718.3" stroke="#c0562c" stroke-width="5.4"/>
<path d="M1128.8,1816.2H1171" stroke="#4273b8" stroke-width="5.4"/>
<g>
<text x="1.0" y="25.6" font-size="37" text-anchor="start" textLength="37.5" lengthAdjust="spacingAndGlyphs">(a)</text>
<text x="308.0" y="25.2" font-size="30" text-anchor="start" font-style="italic" textLength="18.5" lengthAdjust="spacingAndGlyphs">σ</text>
<text x="328.5" y="30.0" font-size="24" text-anchor="start" font-style="italic" textLength="28.5" lengthAdjust="spacingAndGlyphs">xx</text>
<text x="699.0" y="25.2" font-size="30" text-anchor="start" font-style="italic" textLength="18.5" lengthAdjust="spacingAndGlyphs">σ</text>
<text x="719.5" y="30.0" font-size="24" text-anchor="start" font-style="italic" textLength="27.5" lengthAdjust="spacingAndGlyphs">yy</text>
<text x="1092.0" y="25.2" font-size="30" text-anchor="start" font-style="italic" textLength="18.5" lengthAdjust="spacingAndGlyphs">σ</text>
<text x="1112.5" y="30.0" font-size="24" text-anchor="start" font-style="italic" textLength="28.0" lengthAdjust="spacingAndGlyphs">xy</text>
<text x="-0.5" y="247.2" font-size="34" text-anchor="start" textLength="66.0" lengthAdjust="spacingAndGlyphs">PFC</text>
<text x="1.5" y="639.1" font-size="34" text-anchor="start" textLength="123.5" lengthAdjust="spacingAndGlyphs">Analytic</text>
<text x="1352.5" y="130.3" font-size="34" text-anchor="start">20</text>
<text x="1352.5" y="256.3" font-size="34" text-anchor="start">0</text>
<text x="1342.0" y="376.8" font-size="34" text-anchor="start">-20</text>
<text x="1403.5" y="251.2" font-size="34" text-anchor="start" font-style="italic" textLength="51.5" lengthAdjust="spacingAndGlyphs">y/p</text>
<text x="1352.5" y="515.1" font-size="34" text-anchor="start">20</text>
<text x="1352.5" y="641.1" font-size="34" text-anchor="start">0</text>
<text x="1342.0" y="761.6" font-size="34" text-anchor="start">-20</text>
<text x="1403.5" y="636.0" font-size="34" text-anchor="start" font-style="italic" textLength="51.5" lengthAdjust="spacingAndGlyphs">y/p</text>
<text x="206.5" y="884.0" font-size="34" text-anchor="middle">-20</text>
<text x="337.5" y="884.0" font-size="34" text-anchor="middle">0</text>
<text x="460.3" y="884.0" font-size="34" text-anchor="middle">20</text>
<text x="313.5" y="926.2" font-size="34" text-anchor="start" font-style="italic" textLength="51.0" lengthAdjust="spacingAndGlyphs">x/p</text>
<text x="597.5" y="884.0" font-size="34" text-anchor="middle">-20</text>
<text x="728.5" y="884.0" font-size="34" text-anchor="middle">0</text>
<text x="851.3" y="884.0" font-size="34" text-anchor="middle">20</text>
<text x="704.5" y="926.2" font-size="34" text-anchor="start" font-style="italic" textLength="51.0" lengthAdjust="spacingAndGlyphs">x/p</text>
<text x="988.5" y="884.0" font-size="34" text-anchor="middle">-20</text>
<text x="1119.5" y="884.0" font-size="34" text-anchor="middle">0</text>
<text x="1242.3" y="884.0" font-size="34" text-anchor="middle">20</text>
<text x="1095.5" y="926.2" font-size="34" text-anchor="start" font-style="italic" textLength="51.0" lengthAdjust="spacingAndGlyphs">x/p</text>
<text x="467.8" y="1065.0" font-size="34" text-anchor="middle">-10</text>
<text x="518.7" y="1065.0" font-size="34" text-anchor="middle">-8</text>
<text x="569.6" y="1065.0" font-size="34" text-anchor="middle">-6</text>
<text x="620.5" y="1065.0" font-size="34" text-anchor="middle">-4</text>
<text x="671.4" y="1065.0" font-size="34" text-anchor="middle">-2</text>
<text x="727.5" y="1065.0" font-size="34" text-anchor="middle">0</text>
<text x="778.3" y="1065.0" font-size="34" text-anchor="middle">2</text>
<text x="829.2" y="1065.0" font-size="34" text-anchor="middle">4</text>
<text x="880.1" y="1065.0" font-size="34" text-anchor="middle">6</text>
<text x="931.0" y="1065.0" font-size="34" text-anchor="middle">8</text>
<text x="981.9" y="1065.0" font-size="34" text-anchor="middle">10</text>
<text x="662.5" y="1094.1" font-size="30" text-anchor="start" font-style="italic" textLength="18.5" lengthAdjust="spacingAndGlyphs">σ</text>
<text x="682.5" y="1099.0" font-size="24" text-anchor="start" font-style="italic" textLength="18.5" lengthAdjust="spacingAndGlyphs">ij</text>
<text x="716.0" y="1094.1" font-size="34" text-anchor="start">in</text>
<text x="755.0" y="1094.1" font-size="34" text-anchor="start" textLength="31.5" lengthAdjust="spacingAndGlyphs">10</text>
<text x="789.5" y="1082.0" font-size="24" text-anchor="start" textLength="30.5" lengthAdjust="spacingAndGlyphs">−4</text>
<text x="0.8" y="1135.9" font-size="37" text-anchor="start" textLength="41.0" lengthAdjust="spacingAndGlyphs">(b)</text>
<text x="0.0" y="1183.0" font-size="32" text-anchor="start" font-style="italic" textLength="18.0" lengthAdjust="spacingAndGlyphs">σ</text>
<text x="19.0" y="1189.0" font-size="24" text-anchor="start" font-style="italic" textLength="27.5" lengthAdjust="spacingAndGlyphs">yy</text>
<text x="51.0" y="1183.0" font-size="34" text-anchor="start">(</text>
<text x="64.5" y="1183.0" font-size="34" text-anchor="start" font-style="italic">y</text>
<text x="89.0" y="1183.0" font-size="34" text-anchor="start" textLength="23.0" lengthAdjust="spacingAndGlyphs">=</text>
<text x="122.5" y="1183.0" font-size="34" text-anchor="start">0</text>
<text x="138.5" y="1183.0" font-size="34" text-anchor="start">)</text>
<text x="163.5" y="1183.0" font-size="34" text-anchor="start">in</text>
<text x="202.5" y="1183.0" font-size="34" text-anchor="start" textLength="30.0" lengthAdjust="spacingAndGlyphs">10</text>
<text x="233.5" y="1171.0" font-size="24" text-anchor="start" textLength="35.0" lengthAdjust="spacingAndGlyphs">−4</text>
<text x="140.2" y="1231.6" font-size="34" text-anchor="end">10</text>
<text x="140.2" y="1279.0" font-size="34" text-anchor="end">8</text>
<text x="140.2" y="1326.4" font-size="34" text-anchor="end">6</text>
<text x="140.2" y="1373.0" font-size="34" text-anchor="end">4</text>
<text x="140.2" y="1420.3" font-size="34" text-anchor="end">2</text>
<text x="140.2" y="1469.3" font-size="34" text-anchor="end">0</text>
<text x="140.2" y="1515.4" font-size="34" text-anchor="end">-2</text>
<text x="140.2" y="1562.8" font-size="34" text-anchor="end">-4</text>
<text x="140.2" y="1610.2" font-size="34" text-anchor="end">-6</text>
<text x="140.2" y="1657.5" font-size="34" text-anchor="end">-8</text>
<text x="140.2" y="1702.6" font-size="34" text-anchor="end">-10</text>
<text x="149.0" y="1732.5" font-size="34" text-anchor="middle">-40</text>
<text x="292.8" y="1732.5" font-size="34" text-anchor="middle">-30</text>
<text x="436.6" y="1732.5" font-size="34" text-anchor="middle">-20</text>
<text x="580.4" y="1732.5" font-size="34" text-anchor="middle">-10</text>
<text x="725.6" y="1732.5" font-size="34" text-anchor="middle">0</text>
<text x="869.4" y="1732.5" font-size="34" text-anchor="middle">10</text>
<text x="1013.2" y="1732.5" font-size="34" text-anchor="middle">20</text>
<text x="1157.0" y="1732.5" font-size="34" text-anchor="middle">30</text>
<text x="1300.8" y="1732.5" font-size="34" text-anchor="middle">40</text>
<text x="703.0" y="1773.2" font-size="34" text-anchor="start" font-style="italic" textLength="51.0" lengthAdjust="spacingAndGlyphs">x/p</text>
<text x="224.0" y="1824.7" font-size="34" text-anchor="start" textLength="91.5" lengthAdjust="spacingAndGlyphs">APFC</text>
<text x="729.0" y="1824.7" font-size="34" text-anchor="start" textLength="67.0" lengthAdjust="spacingAndGlyphs">PFC</text>
<text x="1185.0" y="1824.7" font-size="34" text-anchor="start" textLength="122.5" lengthAdjust="spacingAndGlyphs">Analytic</text>
</g>
</svg>
<script>

(function(){
var STOPS=[[-11.0, 45, 47, 120], [-10.4, 47, 51, 135], [-9.7, 54, 61, 147], [-9.1, 62, 74, 155], [-8.4, 68, 81, 160], [-7.8, 70, 85, 163], [-7.1, 71, 87, 165], [-6.5, 75, 94, 169], [-5.8, 85, 118, 181], [-5.2, 95, 140, 199], [-4.36, 106, 166, 220], [-3.88, 113, 194, 239], [-3.28, 131, 201, 230], [-2.85, 142, 203, 220], [-2.42, 144, 204, 210], [-1.76, 146, 202, 184], [-1.33, 148, 200, 162], [-0.69, 157, 201, 140], [0.0, 168, 203, 116], [0.63, 182, 208, 90], [1.08, 195, 214, 76], [1.73, 212, 221, 66], [2.37, 229, 230, 60], [2.99, 245, 238, 60], [3.24, 248, 232, 56], [3.67, 243, 210, 51], [4.33, 233, 178, 46], [4.97, 225, 154, 46], [5.64, 221, 132, 44], [6.28, 214, 105, 42], [6.94, 208, 78, 42], [7.38, 206, 59, 40], [7.99, 204, 42, 40], [8.45, 201, 33, 40], [8.9, 192, 32, 41], [9.51, 168, 34, 41], [10.12, 145, 33, 38], [10.73, 121, 27, 33], [11.0, 110, 26, 30]];
var N=2048, LUT=new Uint8ClampedArray(N*3);
for(var i=0;i<N;i++){
  var v=-11+22*i/(N-1), k=0;
  while(k<STOPS.length-2 && STOPS[k+1][0]<v) k++;
  var a=STOPS[k], b=STOPS[k+1], t=(v-a[0])/(b[0]-a[0]); if(t<0)t=0; if(t>1)t=1;
  LUT[3*i]=a[1]+(b[1]-a[1])*t; LUT[3*i+1]=a[2]+(b[2]-a[2])*t; LUT[3*i+2]=a[3]+(b[3]-a[3])*t;
}
function ci(v){var i=Math.round((v+11)/22*(N-1)); return (i<0?0:(i>=N?N-1:i))*3;}
var S=6.26, CX=189, CY=188.5, PW=378, PH=377, L=80.0, M=3;
var P={"K": 958.0, "R": 10.2, "sb": 1.26, "cxx": 0.55, "cyy": 0.68, "kxy": 1.07, "ain": -2.6, "rin": 9.08, "win": 0.82, "aout": 2.2, "rout": 10.88, "wout": 1.85}, KA=850.0, RA=10.0;
function an(x,y,K,R,o){
  var r2=x*x+y*y;
  if(r2<R*R){o[0]=-K/(R*R);o[1]=o[0];o[2]=0;}
  else{var r4=r2*r2,d=(x*x-y*y)/r4;o[0]=-K*d;o[1]=K*d;o[2]=-2*K*x*y/r4;}
}
function img(x,y,K,o){
  var a=0,b=0,c=0;
  for(var m=-M;m<=M;m++)for(var n=-M;n<=M;n++){
    if(m==0&&n==0)continue;
    var u=x-m*L, w=y-n*L, r2=u*u+w*w, r4=r2*r2, d=(u*u-w*w)/r4;
    a-=K*d; b+=K*d; c-=2*K*u*w/r4;
  }
  o[0]=a;o[1]=b;o[2]=c;
}
function put(id,fn){
  var cv=document.getElementById(id), ctx=cv.getContext('2d');
  var im=ctx.createImageData(PW,PH), d=im.data;
  fn(d);
  ctx.putImageData(im,0,0);
}
var o=[0,0,0], q=[0,0,0];
// analytic panels with 3x3 supersampling
(function(){
  var acc=[new Float32Array(PW*PH*3),new Float32Array(PW*PH*3),new Float32Array(PW*PH*3)];
  var SS=3;
  for(var j=0;j<PH;j++)for(var i=0;i<PW;i++){
    var p=(j*PW+i)*3;
    q[0]=q[1]=q[2]=0;
    for(var sj=0;sj<SS;sj++)for(var si=0;si<SS;si++){
      var x=(i+(si+0.5)/SS-CX)/S, y=-(j+(sj+0.5)/SS-CY)/S;
      an(x,y,KA,RA,o);
      for(var c=0;c<3;c++){var h=ci(o[c]+q[c]);acc[c][p]+=LUT[h];acc[c][p+1]+=LUT[h+1];acc[c][p+2]+=LUT[h+2];}
    }
  }
  for(var c=0;c<3;c++){(function(A){put('c'+(3+c),function(d){
    for(var k=0;k<PW*PH;k++){d[4*k]=A[3*k]/9;d[4*k+1]=A[3*k+1]/9;d[4*k+2]=A[3*k+2]/9;d[4*k+3]=255;}
  });})(acc[c]);}
})();
// PFC panels: blurred analytic + images + interface ring
(function(){
  var sig=P.sb*S, pad=Math.ceil(4*sig), W=PW+2*pad, H=PH+2*pad;
  var F=[new Float32Array(W*H),new Float32Array(W*H),new Float32Array(W*H)];
  for(var j=0;j<H;j++)for(var i=0;i<W;i++){
    var s0=0,s1=0,s2=0;
    for(var sj=0;sj<2;sj++)for(var si=0;si<2;si++){
      var x=(i-pad+(si+0.5)/2-CX)/S, y=-(j-pad+(sj+0.5)/2-CY)/S;
      an(x,y,P.K,P.R,o); s0+=o[0];s1+=o[1];s2+=o[2];
    }
    var p=j*W+i; F[0][p]=s0/4;F[1][p]=s1/4;F[2][p]=s2/4;
  }
  var R=Math.ceil(3.5*sig), ker=new Float32Array(2*R+1), ks=0;
  for(var k=-R;k<=R;k++){ker[k+R]=Math.exp(-k*k/(2*sig*sig));ks+=ker[k+R];}
  for(var k=0;k<2*R+1;k++)ker[k]/=ks;
  var T=new Float32Array(W*H);
  var OUT=[new Float32Array(PW*PH),new Float32Array(PW*PH),new Float32Array(PW*PH)];
  for(var c=0;c<3;c++){
    var A=F[c], out=OUT[c];
    for(var j=0;j<H;j++)for(var i=0;i<W;i++){
      var s=0;for(var k=-R;k<=R;k++){var ii=i+k;if(ii<0)ii=0;if(ii>=W)ii=W-1;s+=ker[k+R]*A[j*W+ii];}
      T[j*W+i]=s;
    }
    for(var j=0;j<PH;j++)for(var i=0;i<PW;i++){
      var s=0,jj0=j+pad,ii=i+pad;
      for(var k=-R;k<=R;k++){var jj=jj0+k;if(jj<0)jj=0;if(jj>=H)jj=H-1;s+=ker[k+R]*T[jj*W+ii];}
      out[j*PW+i]=s;
    }
  }
  for(var j=0;j<PH;j++)for(var i=0;i<PW;i++){
    var x=(i+0.5-CX)/S, y=-(j+0.5-CY)/S, r=Math.sqrt(x*x+y*y)+1e-9, cs=x/r, sn=y/r;
    var e=P.ain*Math.exp(-Math.pow((r-P.rin)/P.win,2))+P.aout*Math.exp(-Math.pow((r-P.rout)/P.wout,2));
    img(x,y,P.K,q);
    var k=j*PW+i;
    OUT[0][k]+=q[0]-P.cxx+e*cs*cs;
    OUT[1][k]+=q[1]-P.cyy+e*sn*sn;
    OUT[2][k]=(OUT[2][k]+q[2]+e*cs*sn)*P.kxy;
  }
  for(var c=0;c<3;c++){(function(V){put('c'+c,function(d){
    for(var k=0;k<PW*PH;k++){var h=ci(V[k]);d[4*k]=LUT[h];d[4*k+1]=LUT[h+1];d[4*k+2]=LUT[h+2];d[4*k+3]=255;}
  });})(OUT[c]);}
})();
})();

</script>
</body></html>
